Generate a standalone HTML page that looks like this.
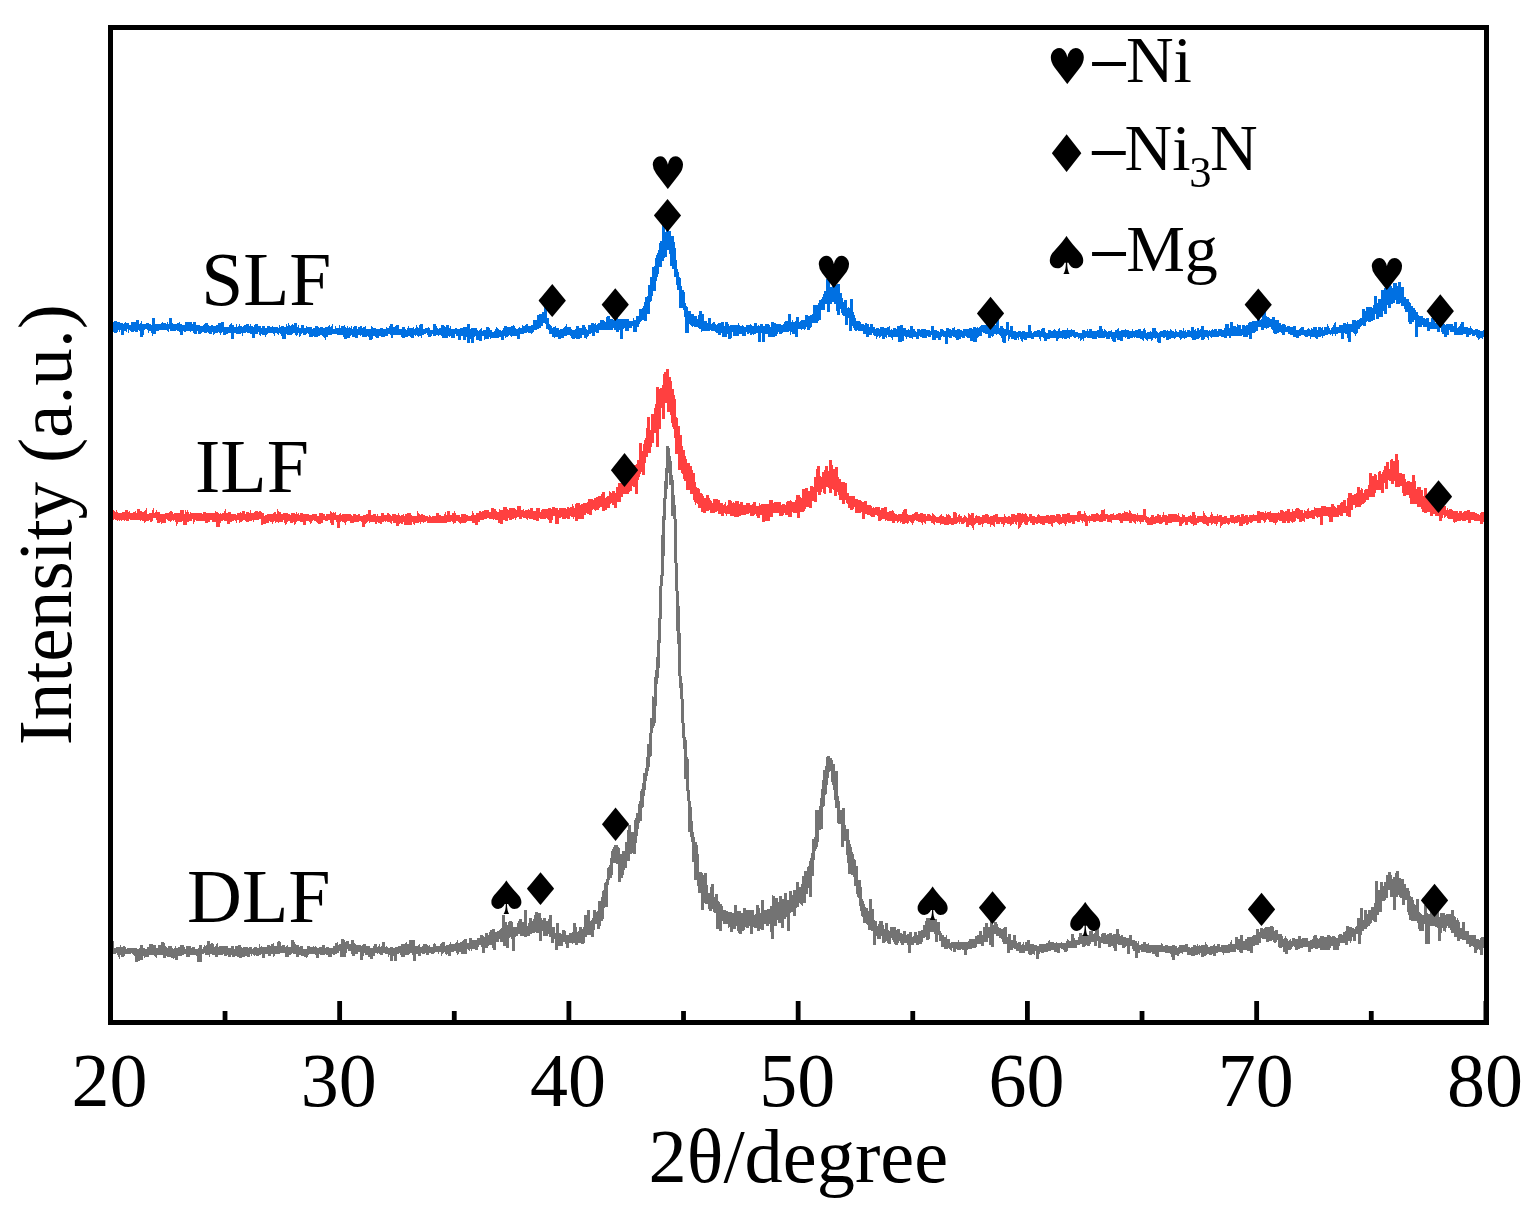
<!DOCTYPE html>
<html><head><meta charset="utf-8"><title>XRD</title>
<style>
html,body{margin:0;padding:0;background:#fff;}
svg{display:block;}
text{font-family:"Liberation Serif","Times New Roman",serif;fill:#000;}
.sym{font-family:"DejaVu Sans",sans-serif;}
</style></head>
<body>
<svg width="1539" height="1221" viewBox="0 0 1539 1221">
<rect width="1539" height="1221" fill="#fff"/>
<g fill="none" stroke-linejoin="miter" stroke-linecap="butt" shape-rendering="crispEdges">
<path transform="translate(110.500 0) scale(0.22925 1)" d="M0 952.6 l1-2.8 1 1.2 1 1.6 1-2.3 1 2.9 1-3.1 1 1.4 1-10 1 9.6 1 .7 1-.3 1 2.2 1-1.4 1-1.9 1 1.3 1-.7 1 1.8 1-1.7 1 2.8 1-2.7 1-2.6 1 2.4 1-2.4 1 2.4 1 1.3 1-3.8 1 4.9 1-3.5 1 .6 1 2.1 1-1 1-4.9 1 2.4 1 4.7 1 .4 1-4.4 1 .6 1 3.2 1-3.1 1 2.2 1-5.3 1 .8 1 1.4 1 3.5 1-1.8 1-1.6 1 .5 1 1.5 1-.4 1-1.5 1-1.2 1 8.8 1-10.3 1 4 1 1.9 1-.7 1-.7 1 .6 1 .5 1-.6 1-3.7 1 .2 1 5.1 1-1.8 1 .1 1 2 1-1.3 1-2.6 1 1.1 1-.1 1-2.4 1 2.3 1 2.5 1-3.6 1 3.5 1-1 1-4.5 1 1.4 1 0 1 3.2 1-3.3 1 1.8 1 .5 1 1.9 1-1.6 1-1.7 1-.7 1 2.3 1-2.5 1 0 1 1.2 1-1.9 1 2.1 1-.7 1-.9 1 1.2 1 3 1-3 1 .6 1 3 1-1.9 1-.3 1-.4 1-1.6 1-1.1 1 6.2 1-5.4 1-.9 1 2.3 1 .9 1 1.4 1 8.9 1-12.3 1 1 1 1.2 1 1.7 1-.3 1-2.2 1 2 1 1.4 1-2.8 1-2.3 1 11.7 1-4.5 1-4.1 1 .3 1-1.2 1-.4 1 2.1 1 .1 1-2.6 1 1.5 1-4.3 1 12.1 1-6.7 1-8.2 1 3.5 1 4.7 1 .1 1-1.7 1 .6 1-2 1 5.1 1-3.5 1 .9 1-4.3 1 4.6 1-.7 1 .2 1-1.7 1-1.2 1 5.7 1-.2 1-1.9 1-1.7 1 .2 1-.3 1 1.3 1 .3 1-.8 1 4.9 1-2.8 1-5.3 1 3 1 2.7 1-3.2 1-4.7 1 8 1-2.2 1-2 1-1.1 1 2.3 1 1.3 1 .1 1-1.7 1-7.4 1 6.3 1-1.2 1 4.1 1 1.2 1-3.2 1-2.2 1-.7 1 .6 1 4 1-.9 1 1 1-1.3 1 3.2 1-3.1 1 1.4 1-8.3 1 6.9 1 1.8 1 .3 1-4.8 1 1.3 1-2.9 1 6.2 1-3.9 1 2.3 1-.9 1-.5 1 .6 1 2.1 1-.8 1 .6 1-3.5 1 5.1 1-3.9 1-.3 1-.5 1 1.5 1-.3 1-6.7 1 5.8 1-1.1 1 .9 1 .3 1-.6 1-2.8 1 8 1-4 1 1.7 1 1.1 1-4.3 1 4.7 1-5.1 1-6.9 1 9.7 1 .9 1-6.1 1 2.8 1 0 1 8.4 1-3.6 1-2.6 1-.5 1 4.3 1-6.7 1 .8 1 3 1-1.5 1-2.1 1 .2 1 1.5 1-1.2 1 4.2 1-3.8 1 3.6 1-3.1 1 1.1 1-1.2 1-.5 1 6.7 1-3.8 1-4.8 1 1 1-2.8 1 4.6 1-3.3 1 3.7 1-.5 1 5.6 1-7.6 1 1 1-1.3 1 3.2 1 5.9 1-7.2 1 .4 1-1 1 3.2 1 .8 1-.8 1-1 1 1.7 1-1.6 1-.4 1-.5 1 2.2 1-2 1 1.1 1-1.9 1 2.5 1 6.5 1-7.2 1-2 1 3.2 1-5.4 1 3.3 1 .5 1-1 1 .1 1 2.7 1-1.5 1-1.5 1 .9 1-3.9 1 2.1 1-2.6 1 4 1 4.4 1-4.5 1 .1 1 .4 1-3.6 1 3.1 1-1.5 1 .4 1-1.9 1 6.7 1-3.7 1 1.7 1 0 1-7.6 1 5.2 1 .9 1 2.4 1-.8 1-4.2 1 2 1 2.9 1-.9 1-.5 1 .8 1 .5 1-3.4 1 2.6 1-2.3 1 .7 1 .5 1 .7 1-1.5 1 3.3 1-8.7 1 5.3 1 6.3 1-4.7 1-.9 1 2.4 1 2.2 1-3.7 1-2.2 1-4.2 1 5.9 1-2.5 1-1.9 1 4.2 1-1.2 1 2.9 1-5.2 1 6.6 1-5 1 1.6 1 .3 1-1 1-2.7 1 1.9 1 .7 1 .2 1-1.3 1-2.1 1 3.3 1-.1 1 .5 1 4.1 1-3.4 1-1 1-.9 1 4 1-1.2 1-2.4 1 2.3 1-3.4 1 2.4 1 3 1-2.2 1 .3 1-2 1 5.6 1-3.2 1 8.4 1-12.5 1 .9 1 2.7 1-1.9 1-.6 1-2.2 1 6.8 1 0 1 7.1 1-16.6 1 10.3 1-5.4 1 1 1 2.8 1-3.7 1-.2 1-.7 1 1.2 1-.9 1 2 1 .6 1 0 1-.2 1-2 1 1.8 1-2.7 1-.5 1 1.4 1-.7 1 1.7 1 .1 1-2.1 1 3.2 1-.5 1 3.3 1-1 1-4.2 1 3.9 1-2.2 1-.3 1 1.9 1-5.6 1-6.2 1 11.4 1-.8 1 .8 1-.2 1 .6 1-.6 1-1.5 1 .3 1 2.2 1-3.8 1 1.4 1 1.1 1-6.5 1 6.9 1 1.4 1-9.7 1-.7 1 10.3 1-1.9 1-.9 1 2.8 1-6.4 1 7 1-1.9 1-1.1 1 1.8 1-.8 1-2.3 1-3.4 1 5.8 1-5.2 1 6.8 1-3.9 1 3 1 1.9 1-7.7 1-.4 1 9.6 1-5.3 1 3.9 1-4.5 1-1.5 1 2.2 1 .4 1-3.1 1 2.4 1 3.5 1-7.4 1 1.9 1 2.6 1-1.3 1 .9 1-1.9 1 2.7 1-4.4 1-2.2 1 7.1 1 1.8 1-2.1 1-4.4 1 3.3 1-3.4 1 2 1-1.2 1 5.2 1-2.6 1 1.4 1-5.3 1-1.1 1 3.4 1 2.5 1 1.2 1-5.1 1 6.5 1-3.9 1 5 1-2.3 1 1.1 1-4.3 1-.2 1-3.8 1 1.5 1 6.4 1-4 1 1 1 3.7 1-4.5 1 .4 1 1.3 1-3 1 1.1 1-1.2 1 7.6 1-6.4 1 1.6 1 2.5 1 .7 1-7.1 1 3 1 1.6 1 2.6 1-5 1-.5 1-.2 1 1 1-.2 1-4.5 1 6.8 1-.5 1 .5 1 4.2 1-5.7 1 2 1-2.9 1-.6 1 2.5 1 2.4 1-5.1 1 1.4 1-1.7 1 3.5 1 2.9 1-9.8 1 5 1 1.5 1-1.1 1 .8 1-4.1 1 2.5 1 1.6 1-2.9 1 3 1 4.5 1-4.4 1-2.3 1 2.9 1-7.7 1 7.6 1-5.5 1 10.3 1-4.3 1-5.5 1 3.8 1-.5 1 2.4 1-2.9 1 .5 1-3.2 1 3 1-1.4 1-.6 1 4.4 1 3.4 1-7.3 1 1.6 1 .8 1-2 1 .9 1 .3 1-4.1 1 2.7 1 6 1-1 1-.2 1-1.9 1 1.9 1-3.6 1 0 1-3.1 1 1.6 1 3.2 1-1.3 1-.8 1-1.1 1 .9 1 7.1 1-5.2 1 1.7 1-1.5 1-3.4 1 1.8 1-2.5 1 2.8 1-.1 1-.3 1-3.2 1 4.3 1 .5 1-2 1-.6 1 3.9 1-4.2 1 3.3 1-3.3 1 2 1 2.3 1-4.1 1 2.7 1 .4 1-1 1 1.2 1-2.2 1-1.1 1-.3 1-.2 1 3.3 1-2.6 1 1.5 1-1.2 1 5.3 1-2 1-2.9 1 4 1-3.3 1 .5 1 4.5 1-3 1-5.1 1 3.1 1-1.3 1 1 1 .9 1-.7 1 .3 1-.1 1-1.4 1 .6 1-1.5 1 5.1 1-2.6 1 1.8 1-2.5 1 2.2 1-3.2 1 .4 1 3 1-2.8 1 1.4 1-1.1 1 .3 1-4.1 1 11.6 1-4.6 1-3.7 1 .8 1 .1 1-3.4 1 3.7 1-1.4 1 1.8 1-2.3 1-1.5 1 2.3 1 1.9 1 .5 1 1.8 1-3 1-2.2 1 5 1-3.7 1 .3 1-5.2 1 2.5 1 1.4 1 4.4 1-.7 1-4.2 1 7.2 1-5 1-2.1 1 2 1 .9 1-.9 1-4.8 1 8.1 1-4.2 1-2.9 1 3.8 1 1.2 1-1.9 1-1.7 1-4.2 1 4.3 1-.8 1 .8 1 2.4 1-.7 1 1.9 1-2.9 1 2.8 1-.5 1 1.2 1-4.3 1 2.4 1-4.9 1 3.7 1 .2 1 1.2 1-.3 1-4.1 1 5.7 1-4.2 1 2.7 1-1.9 1 4.8 1-2 1-4.6 1 5.8 1-10.7 1-.7 1 11.2 1-.5 1-.8 1 1.1 1-6.3 1 4.1 1 2.7 1-5 1 1.4 1 2.6 1-1.7 1-2.6 1 2.2 1 1.4 1-.7 1-.4 1 3 1-3.5 1-4.8 1 5.5 1-3.4 1 4.1 1 .8 1-1.1 1-1.5 1 1.3 1 1.7 1-4.4 1-.7 1 3.3 1-2 1 .7 1-.4 1 7.6 1-8 1 2.2 1-2.9 1 3.9 1-.6 1-4.6 1 3.6 1-.9 1 1.2 1-1.8 1 2.2 1-1.9 1-1.8 1 2.9 1 2 1 1.1 1-.2 1-3.7 1 2.3 1-2.8 1 2.6 1-2.5 1 1.6 1 .7 1-2.2 1-8.9 1 10.2 1-1.7 1 0 1 4.1 1-1.1 1 .2 1-.4 1 2.1 1-4.9 1-.5 1 1.8 1 4.5 1-3 1 2.4 1-5.5 1 .4 1 2.4 1 5.6 1-4.2 1-3.3 1-3.7 1 7 1-1.3 1 1.2 1-2.9 1 5.7 1-1.9 1-6.1 1 2.4 1 4.3 1-1.1 1-2.8 1 1.1 1 .4 1-1.6 1 1.3 1-5.5 1 4.9 1 2 1-2.4 1 2.9 1 .1 1 1.8 1-4.3 1 5.7 1-2.8 1-2 1-2 1 2.4 1-.7 1-1.2 1 2.9 1-1 1-2.5 1 2.4 1 0 1-.4 1-1 1 1.1 1 1.8 1 3.5 1-6.5 1 2.5 1-.5 1-1.6 1-.3 1-.5 1-3.5 1 7.1 1-1.2 1-3.5 1-1.7 1 2.2 1 .7 1 1.3 1-1.8 1 2.7 1-.7 1 1.8 1-2.5 1 .3 1-.8 1-3 1 1.3 1 2.8 1 .2 1-4.9 1 3.5 1-1.3 1 3.3 1 1.2 1-4.5 1 2.9 1-1.9 1 .4 1-2.7 1 .9 1 2.9 1 1.3 1-2.8 1-1.3 1 .2 1 1.4 1-.8 1-1.6 1 10.2 1-4.8 1-5.5 1 3.9 1-.2 1 .7 1-3.1 1-.1 1 1.3 1-.4 1 2.1 1 .2 1-1.7 1-2 1 3.4 1-2.6 1 1.6 1 .4 1-2.5 1 3.1 1 2.3 1-7.5 1 2.1 1 .7 1-.4 1 3.6 1 0 1-7.4 1 9.4 1-6.5 1 2.3 1 2.8 1-2.4 1 2.5 1-2.7 1-3 1 2.4 1-1.5 1 2.9 1-.1 1-2.2 1 4.4 1-3.1 1 4.3 1-5.5 1-1.9 1 3.6 1 1.5 1-.8 1-.9 1-2.5 1 3.2 1-2.3 1-.5 1 4.2 1-.3 1-4.1 1 1.9 1 .5 1 6.3 1-6.3 1 .2 1-3 1 1.1 1-1.1 1 4.3 1-.3 1-3.4 1 4.2 1 .1 1-5.1 1 3 1 1.8 1-4.5 1-2.2 1 .8 1 2.4 1 1.5 1-4.6 1 8.1 1-7 1 5.6 1-4.5 1-3.7 1-.1 1 2.2 1 3.5 1-1.9 1 5 1-4.5 1-.2 1 .9 1-2.4 1 4.1 1-6.6 1 6.6 1-5 1 4.3 1-5 1 3 1-.8 1-1.8 1 .9 1-2.3 1 12.2 1-11.6 1 .7 1 2.3 1-1 1 2.3 1-4.1 1-1 1-5.5 1 4.5 1 10.9 1-8.7 1-2.4 1-.5 1 4.3 1 3.1 1 6.5 1-8.8 1 3.7 1-1.2 1 2.3 1-9.9 1 2.6 1 .2 1 2.1 1-3.6 1 2.1 1 1.8 1-7.1 1 3.9 1-.2 1 4.2 1-2.1 1-.6 1 0 1 3.3 1-3.6 1 4.9 1-3.5 1 .2 1-1.6 1-.7 1 3.7 1-3.6 1 1.3 1-1.7 1 6.5 1-4.3 1 1.1 1-8.2 1 2.2 1 3.7 1 10.1 1-12.7 1 6.4 1-3.4 1 3.7 1 .3 1-2.5 1-.2 1 1.1 1 1.5 1-.8 1-.6 1 1.4 1-1.7 1 6.1 1-5.2 1 .6 1-2 1 1.6 1 .7 1-3 1 1.9 1 2.1 1-2.9 1 3.1 1 .6 1-6.4 1 4.3 1-2.8 1 4.6 1-4 1 2.6 1-3.3 1 4.5 1-1.4 1-1.8 1 3 1-1.8 1 11.1 1-12.6 1-1.6 1 2.7 1 0 1 7.2 1-6.2 1 1.4 1 1.8 1-2.4 1-6.9 1 3.5 1 1.5 1 1.8 1 2.3 1-4.4 1 3.8 1-2 1 1 1-.2 1-1.7 1 5.9 1-3.1 1-1.4 1-4.7 1 5.8 1-1.5 1 5 1-6.7 1 .9 1-3.5 1 6.4 1-4.5 1 2.9 1-2 1 7.7 1-4.7 1 .1 1-3.8 1 2.7 1-3.1 1 4.2 1-2.9 1 3.5 1 6.1 1-7 1-2.8 1 1.9 1 .7 1-.9 1 5.3 1-7.7 1 4.1 1-.5 1-1.3 1-4.2 1 .9 1 5.2 1-2.1 1-3.9 1-2.3 1 8.2 1-1 1 .1 1-4.2 1 2.5 1 1.6 1-1.6 1-.3 1 .7 1-1.7 1-.1 1 2.1 1-1.2 1 1.9 1-3.8 1 5.9 1-.7 1-3.3 1-1.1 1 3.9 1-2.1 1 .5 1-.4 1 2.1 1-4.5 1 2.9 1-.8 1 4.9 1-4.4 1-3.4 1 4.2 1-.8 1 1.1 1-1.1 1-.7 1-7.5 1 7.8 1 1.9 1-2.5 1 3.5 1-5.3 1 3.7 1-1.1 1 .4 1-1.5 1 2 1-1.6 1 1.8 1-.9 1 4.1 1-2.9 1 2.1 1-2.8 1 .5 1 .6 1-1.6 1-2.4 1 4.2 1-2.5 1 .7 1 2.7 1 1.7 1-3.4 1-1.9 1 4.9 1-5.2 1 5.4 1-7.3 1 14.2 1-7.1 1-4.2 1 1 1 1.2 1-1.3 1 .8 1-1.9 1 1.2 1 0 1-1.5 1 6.1 1-4.9 1-1.4 1-.7 1 2.9 1-1.8 1 11.5 1-13.2 1 5.2 1-4.7 1-.6 1 4.1 1 0 1-.1 1-1.1 1 1.1 1-1.6 1 3.5 1-6.8 1 4.6 1-.6 1 .9 1-2.4 1-3.4 1 7 1-6.5 1 5.8 1-2.5 1-2.8 1 4.7 1-1.5 1 1.7 1-2.3 1 2.4 1-1.8 1 4.2 1-10.3 1 5.6 1 2.8 1-2.6 1 6.8 1-4 1 1 1-2.2 1 2.9 1-1.3 1-2.6 1-4 1-1.4 1-.2 1 10.2 1-6.1 1-2.4 1 3.4 1 2.5 1-3.1 1 .4 1 2.8 1-2.5 1 4.9 1-11.1 1 6.7 1 3.6 1-4.8 1 .4 1 1.8 1-1.6 1-1.3 1 2.2 1 1.7 1-3.2 1-2.3 1 5.3 1-12.6 1 10.2 1 2.8 1-3.2 1-.7 1-.8 1 .7 1 .7 1-.6 1 1.2 1-.1 1 5 1-6.1 1-8.5 1 3.9 1 4.7 1 2.1 1-3.9 1 13.3 1-11.1 1 4 1-6.7 1-.5 1 6.1 1-3.1 1-.7 1 1.8 1 .4 1 2.4 1-1.1 1 2 1-4.7 1-1.7 1-.2 1 6.7 1-6.3 1-1 1 2.5 1 6.6 1-4.9 1 .4 1-1.6 1 .8 1-1.2 1 .9 1-.2 1-3 1 1.3 1 4.2 1-3.2 1-1.8 1 1.9 1-.2 1 2.5 1-3.6 1 .1 1 5.9 1-2.7 1 2 1-3.7 1-.5 1-.8 1 1.1 1-6.1 1 6.3 1-4.3 1 3.6 1 3.6 1-7.6 1 8 1-1.4 1-3.4 1 6.5 1-4.1 1-1.5 1 2.8 1-2.7 1 1.1 1-2 1-2 1 2.5 1-.4 1 1.3 1-.2 1 2.7 1-3.4 1 2.1 1-1.9 1 1 1-.9 1 1.2 1-.2 1 3 1-2.2 1-2.8 1-.6 1 5.8 1-1.4 1-1.4 1 1 1-1.9 1-.8 1 .7 1-.8 1-2.6 1-.5 1 .3 1 4.4 1-1.1 1 1.7 1-3.3 1 3.8 1-3.3 1 2.5 1-1.2 1 1.4 1-4.6 1 5.7 1-2.4 1 .6 1-3.1 1 .9 1 .8 1-.7 1-2.4 1 1.1 1 2.9 1-1.6 1 1.6 1 .9 1 1 1-4.5 1-.4 1 2.1 1 .6 1-1.4 1 3.1 1-2 1 1.6 1-3.7 1 4 1-.4 1-6.9 1 5 1 2.4 1-8.8 1 6.1 1-2.5 1 5.6 1-.7 1-.9 1-1.4 1 .7 1 .9 1 1.5 1-1.6 1 3.4 1-6.4 1 2.1 1 2.8 1-.3 1-3.2 1-1 1-2.3 1 5.7 1-2.9 1-2.1 1 1.3 1 5.7 1 3.2 1-9 1-.4 1 3.6 1-.3 1-.8 1-.2 1-1.6 1 2.3 1 .7 1-1.5 1-1.9 1 3.1 1 2.1 1-8.2 1 1.1 1 3.7 1 1 1-5.4 1 5.8 1-.7 1-3.5 1 3.1 1-.9 1-1.9 1 1.2 1 .3 1-2.6 1 5.2 1-4 1-1.8 1-.3 1 3.2 1-1 1-.6 1 5.8 1 .4 1-.5 1-7.2 1 7.1 1-4.1 1-1.8 1 1.4 1 4.4 1-3.4 1 3.8 1-8.8 1 4.4 1 3.1 1-2.1 1-3.4 1 6.9 1-10.3 1 3.1 1 4.1 1-5.6 1 2.8 1 5.5 1-4.8 1 7.4 1-8.6 1 4.6 1-2.2 1-2.6 1 1.4 1 .1 1 1.9 1-5.6 1-2.7 1-1.6 1 7.3 1 7.6 1-12.5 1 4.6 1-2.4 1 2.8 1 1 1-1.1 1 1.5 1-.2 1-2.7 1 2.5 1 .1 1-2.2 1-.9 1 3.8 1 .3 1-.7 1-4.8 1 2 1-.2 1 3.8 1-10.4 1 5 1 2.9 1-4.8 1 3.4 1 .1 1-.8 1 2.8 1-.5 1-2.2 1 1 1-4.5 1 1.2 1 1.9 1-2.8 1 6.3 1-2.9 1-1.5 1-1 1 3.1 1 4.3 1-7.6 1-.6 1 3.8 1-4.2 1 3.1 1 6.2 1-1.4 1-4.7 1-.9 1 .9 1 1.5 1 1.3 1-2 1-.6 1-4.3 1 3 1-4.7 1 5.1 1-1.5 1-2.7 1 4.4 1 0 1-1.8 1-1.8 1 1.3 1 .7 1-6.2 1 8.7 1-3 1-4.6 1 10.7 1-3.7 1 2.8 1-4.5 1 .1 1 11.2 1-12.5 1 2.8 1 2.9 1-7.6 1 .2 1 .7 1-2.3 1 4.7 1-5.3 1 4.6 1-1.7 1 4.8 1-3.6 1-2.9 1-4.7 1 15.3 1-11.5 1 8.7 1-7.4 1-1.4 1 5.1 1-5.3 1 3.6 1-3.5 1-.1 1-1.5 1 5.2 1-5.2 1 2.3 1-2.5 1-2.4 1 12.6 1-2.2 1-7.6 1 9.9 1-15 1 8.2 1-3.1 1 4.5 1 .3 1-7.6 1 11.8 1-13.2 1 3.9 1 7.8 1-13.6 1 21.1 1-11.9 1-.9 1 2.1 1-5 1 1 1-3.2 1 6.3 1-2.5 1-1 1 5.6 1-5.2 1 4.5 1-8.1 1 9.6 1-4.5 1 2 1-.1 1-3.7 1-3.8 1 1.4 1 .8 1 2.1 1 1.9 1-1.8 1-1.8 1 4.8 1-1.5 1 0 1-6 1-.8 1-.6 1-.7 1 13.1 1-9.8 1-1.7 1-3 1 6.1 1 2.8 1-3.9 1-2 1 3.5 1 2.5 1-21.4 1 16.3 1 14.1 1-12.1 1-1.8 1-9.5 1 10.4 1 4.9 1-.4 1-12.3 1 1.9 1 4.5 1 .8 1 3.3 1 11.9 1-7.8 1-10.9 1 4 1-2.8 1 1.8 1 5.1 1 1 1-1.1 1-9.2 1 8 1-1.8 1-11.3 1 7.3 1 6.7 1-6.8 1 2.9 1-11.2 1 9.6 1-.4 1-1.8 1 1 1 5.9 1-2.6 1-4.4 1 1.2 1 11 1-10.4 1 2.7 1 17.5 1-14.7 1 .6 1-2.6 1-4.9 1-1.7 1 6.6 1-6.3 1 1.3 1 6.7 1-3.1 1-5 1 .9 1 7.5 1-7.4 1 3 1-3.5 1 1.9 1 .2 1 .7 1-.3 1-7.7 1 4.4 1 5.2 1-11.7 1 3.9 1 8.3 1 .7 1-4.5 1 3.5 1-13.9 1 6.9 1 10.3 1-5.5 1-2 1 3 1 4.5 1-6.4 1-2.5 1-5.5 1 8.9 1 2 1 2.3 1-1.1 1-1.1 1-6 1 .9 1 3.4 1-1.1 1 5.1 1-24.6 1 26.5 1-6.4 1-4.5 1 .3 1 4.6 1-.6 1 1.3 1-1.8 1 1.9 1 4.1 1-1 1 .5 1-7.1 1-1.7 1 9.6 1-8.7 1 0 1 5.6 1-4.9 1-4.6 1 10.2 1-3.6 1 .7 1-12.8 1 7.5 1 2.4 1 4.7 1-7.1 1 5.3 1-2.2 1-2.8 1 1.9 1-.1 1 3.7 1 1.3 1-2.2 1-1.8 1-7.1 1 7 1 2.4 1 .1 1 0 1-16.3 1 11.5 1 3.2 1-1.6 1-6.5 1 10.1 1-5.8 1-13.6 1 10.9 1 5.2 1-8.2 1 10.3 1-.5 1 3.7 1-8.6 1 .9 1-.6 1-.8 1 1.3 1-1 1-11.1 1 3.7 1 2.5 1 .5 1 5.7 1 14.9 1-17.7 1 2.8 1-1.3 1-1.6 1 8 1-.9 1-8.6 1-.9 1 2.4 1 1.5 1 1.1 1 2.3 1-3.2 1 1.1 1-7.2 1 13.3 1 4.1 1-5.5 1-5.7 1 4.6 1-1.7 1-2.1 1 3 1 7 1-4 1-10.7 1 7.8 1 3.5 1-4.7 1 6 1-2.2 1-10.5 1 12.1 1-9.8 1 6.8 1-9.4 1-.6 1 5.4 1 8.7 1-1.2 1-17.7 1 22 1-4.6 1 1.9 1 1.3 1-5 1 5.7 1-5.9 1 1.1 1 6.4 1 4.8 1-6 1-.1 1-4.2 1-3.1 1-2.5 1 8.1 1 2.7 1-4.1 1 2.9 1-.7 1 1.4 1 .4 1-1.8 1 1.5 1-2.2 1-.7 1 15.7 1-7.5 1-8.5 1 7.4 1-.8 1-11.5 1-5.6 1 13 1 9.1 1-8 1-2.8 1 3.5 1-3.3 1-2.3 1 9 1-3.4 1 0 1 3.7 1-7.2 1 3.3 1-3.2 1 11.1 1-6.2 1-5.4 1 .6 1 5.2 1-.6 1 1.6 1-1.1 1-5.5 1 2.9 1 1.7 1-6 1-3.3 1 4.8 1 6.9 1-6.9 1 5.2 1-1 1 2.2 1-5 1 1.8 1 3.5 1-5.9 1 8.2 1-6.8 1 1.7 1 1.4 1 7.5 1-8 1 .5 1-3.1 1-.9 1 4.6 1-.4 1-4.2 1-.6 1 6.2 1-6.5 1 .8 1 .3 1-3.1 1 10 1-4.4 1-1.4 1-1.7 1-.8 1 3.2 1 .3 1 1.7 1-2.2 1 .6 1-.3 1 2.3 1-.3 1-7.6 1 5.2 1-1.9 1 7.5 1-4.1 1 .2 1-16 1 19.7 1-6.9 1-1.2 1-5.6 1 4.4 1 2.6 1 8.1 1-9.4 1 4.1 1 2 1-4.6 1-1.7 1 2 1 4.8 1-4.1 1 1 1-4.5 1 3.3 1 .4 1 5.4 1-12.2 1 6.1 1-9.6 1 14.2 1-9.6 1 3.8 1 3.1 1-1 1-4.5 1-4.7 1 6.8 1-3 1 1.4 1 2.8 1 7 1-8.8 1 .6 1 7 1-6 1-1.2 1 1.1 1-9.6 1 3.8 1 5.8 1-8.1 1 7 1 0 1-19.9 1 18.9 1-4.5 1 2.6 1-7.3 1 2.6 1 6.1 1 1.2 1-11.8 1 3 1-16.6 1 21 1-4.1 1 .7 1-1.3 1 9 1-11.3 1-2.4 1 1.4 1 1.5 1 7.8 1 1.1 1-2.6 1-8.1 1 5.7 1 5.5 1-2.5 1 5.5 1-16.4 1 .5 1 4.3 1-3.3 1-3.2 1 5 1 6.6 1-9.8 1-10.3 1 4.3 1 5.8 1-9 1 1.4 1 1.3 1 5.4 1 5.2 1-6.5 1 2.5 1-.7 1 4.5 1-5.6 1-4.6 1 4.4 1 0 1 1.8 1-4 1 13 1-8.4 1-9.6 1 14.5 1-9.3 1-12.2 1 15.4 1-18.5 1 11.3 1-5.2 1 5.7 1-10.5 1 15 1-9.3 1 0 1 13.3 1-14.5 1 12.1 1-16.3 1 2.4 1-8 1 1.5 1-7.3 1 16.3 1-4.8 1-2.4 1 5.7 1-16.2 1 4.4 1 2 1-4.4 1-8.9 1 6.8 1 4.4 1 5.7 1-8.2 1-9.9 1 24.7 1-26 1 2.2 1-.6 1-3.4 1 2 1-6.1 1 5.4 1-11.7 1 4 1-5.3 1 5.9 1 1.4 1-.3 1-2.5 1 6.4 1-12.5 1 1.4 1 9.3 1-4.9 1-6.1 1-6 1 6.3 1-11.2 1-1.3 1-1.2 1 5.7 1 2.8 1-.5 1 .7 1-1.7 1-6.7 1 .3 1 9.1 1-14.1 1 15.3 1-.6 1-.3 1-16.2 1 14.6 1-11.7 1 1.6 1-1.7 1 7.2 1 .2 1-4.1 1 5.3 1-3.6 1 10.5 1-15.4 1 .3 1 2.8 1 11.5 1-.9 1-.5 1 20.7 1-22.1 1-4.6 1 0 1-1.9 1 13.2 1 2.2 1-4.4 1-1.9 1 4.2 1 .1 1 10.9 1-10.3 1 5.1 1-13.2 1 13 1-21.1 1 17.8 1-11.6 1 9.9 1 .1 1-5.9 1 0 1-8.7 1 3.1 1 3.9 1 3.6 1-6.9 1 11 1-11.1 1-1.8 1-1.6 1-11.5 1 16.5 1-4.9 1-6.5 1 11.1 1-3.9 1 3.8 1 3.5 1-6.6 1-6.3 1-23.6 1 25.5 1 2.7 1-6.8 1 .5 1 7.3 1-1.5 1-12.8 1 3 1 10.3 1-13 1 5.2 1 .3 1-2.6 1-10.6 1 11.8 1 4.3 1-5.7 1-3.9 1-5.5 1 4.4 1 3.5 1 12.7 1-11 1-10.8 1 6.1 1 .8 1-10.5 1-8.4 1 17.9 1 5.2 1-19.9 1 7.7 1-1.9 1-1.8 1-13.1 1 2.4 1 12.2 1-16.1 1 8.9 1-.1 1 .9 1-5.6 1-2.9 1-1.1 1 .6 1-1.6 1 1.5 1-12.3 1 3.7 1 9 1 6.9 1-16.5 1-10.1 1 14 1-11.4 1-5.3 1 15.8 1-15.5 1 9.1 1-5.6 1-7.9 1-2 1 10.7 1-13.4 1 4.8 1-.9 1 3.1 1-7.7 1-8.4 1 2.7 1 3.7 1-.1 1-.3 1-5 1 0 1-3.6 1-2.6 1 5.6 1-8.2 1-.5 1-1.1 1-7.2 1 9.7 1-9.3 1-12.9 1 17.2 1-3.8 1-6.4 1 3 1-10.3 1 9.3 1 2.6 1-12.9 1 .5 1-5.1 1-6.6 1-3.9 1-9.8 1 10.9 1-3.1 1 2.1 1-2 1-5.3 1 3.9 1 .8 1-26.7 1-2.2 1 16.3 1 10.5 1-17.1 1 1.3 1-.4 1-.4 1-5.5 1-12.1 1-.5 1-12.1 1 2.1 1-1.5 1 6.6 1-13.6 1 8.1 1-5.5 1-2.9 1-5.7 1-6.8 1 10.3 1-5.4 1-22.2 1 1.8 1 .1 1-3.1 1-13 1 5.5 1-12.9 1-1.1 1-13 1 .6 1-12.5 1-17.3 1 6.9 1 .7 1 1.4 1-11 1-21.6 1 3.8 1-3 1-17.8 1 21 1-39.3 1 14.3 1-14.6 1 3.9 1-10.3 1-5.5 1 8.9 1-17.5 1 3.7 1-7.2 1-10.8 1 1.7 1 6 1-13.8 1-7.2 1 10.1 1-9.1 1 2 1-24.6 1 17.4 1-14.5 1 0 1 14.1 1-14.6 1 12.5 1-5 1 10.4 1-5.7 1-1.6 1 10.7 1-8.8 1 3.7 1 6.8 1 13.7 1-10.2 1 1.4 1-.6 1 6.5 1-2.4 1 3.7 1 3.1 1 29.1 1-20.9 1 5.4 1-2.2 1 13 1-3 1-3.4 1 9.3 1 2 1-6.5 1 20.9 1 5.3 1 7.1 1 14.7 1 6.3 1 2.4 1 11.3 1 5.2 1 7.8 1 5.4 1-4 1 39 1-11.7 1-13.1 1 26.1 1 3.3 1 8.3 1-10.9 1 20.5 1 15.1 1 3.8 1 3.2 1 2.8 1-2.4 1 11.5 1-11 1 11.2 1 2.9 1 4.2 1-1.6 1 6.2 1 12.8 1 .1 1-11.3 1 18.2 1 10.5 1 3.2 1 3.3 1-.1 1 2.5 1 6.6 1 3.5 1-11.8 1 2.8 1 39.3 1-33.3 1 10.1 1 15.1 1-14.1 1 12.2 1-9.1 1 13.2 1-13.7 1 12.5 1 10.6 1 6.4 1 1.2 1 2.7 1 5.5 1-4.2 1 1.1 1 11.3 1-.9 1 7 1 18.8 1-18 1-1.1 1-4.9 1 24.4 1-4.9 1-6.4 1 16.6 1-11 1 10.1 1-.8 1 6.9 1-6.5 1-3.6 1 7 1-1.8 1 24.2 1-3.2 1-4.9 1-3.9 1 8 1 .5 1 2.7 1-19.1 1 19.9 1 5.3 1 10.8 1 1.6 1-13.2 1-21.5 1 17.6 1 10.4 1-18.2 1 19.3 1-10.3 1 16 1-7.1 1 7.8 1 4.4 1 .8 1-7.7 1-3.2 1 2.7 1 6.2 1 9.9 1-9.6 1 .6 1-12.5 1 13.9 1-4.1 1-8.9 1 9.8 1 10.1 1-1.7 1-3.5 1 3.7 1-5.9 1 25 1-35 1 12.2 1 10.2 1-20.1 1 12.8 1 1.4 1 5 1-.7 1 1.3 1 2.2 1 3 1-29.6 1 25.6 1-8.4 1-5.3 1 18.8 1-9.1 1 8.6 1-4.2 1 2.5 1 2.6 1-6.3 1-2.1 1 8.1 1-11.1 1 5.8 1 4.4 1-1.3 1 7 1-9.4 1 6.9 1-3.3 1-.4 1-3.9 1 12.4 1-3.8 1-11.1 1-2.9 1 13.5 1-22.1 1 14.6 1 1.4 1 2.7 1-.6 1-5.1 1 12 1-6.9 1 6.4 1-3.3 1 1.7 1 5 1-11.6 1 11.8 1-5.5 1-3 1 4.3 1 4 1-18.4 1 14.5 1 2.7 1-1.2 1-6.8 1 4.3 1 12.6 1 9.2 1-26.9 1-.5 1 4.6 1 2.1 1 5.3 1 10.8 1-13.4 1-3.3 1-1.4 1 5.4 1 19.1 1-18.7 1 2.6 1-10.7 1 16.8 1-6 1 4.8 1-.9 1-4.8 1 6.1 1-2.9 1-6.2 1 4.7 1 2.4 1-.9 1 3.2 1-8.2 1-.1 1 12 1-14.2 1 .8 1 3.6 1 2.7 1 3.2 1-5 1-4.1 1 2.6 1 1.6 1 3.7 1-5.1 1-2.4 1 6.1 1 5.9 1-7.8 1 1.1 1-1.5 1 2.5 1 1 1-1.1 1 6.4 1-.4 1-.5 1-1 1-4.6 1 5.4 1 1.2 1-12 1 19.7 1-7.6 1-2.9 1 .9 1-4.9 1 5.5 1-.1 1-9.7 1 4.6 1-3.5 1 3.5 1 7.5 1-.1 1 3.8 1-11.8 1 9 1-3.5 1-5.7 1-12 1 17.7 1-6.3 1 2.5 1 .5 1-1.4 1-7.2 1 11.8 1 .9 1 2.8 1-5.1 1 4.8 1-7.1 1-1.1 1-2.1 1 14.8 1-12.8 1 3.2 1 1 1-4.7 1-6.6 1 23.3 1-12.3 1 4 1-3.2 1-7.6 1 .2 1 7.9 1 2.3 1-9.9 1 8.3 1-4.9 1-5.6 1 4.5 1 9 1-3.8 1 3.7 1 1.7 1-.4 1-7.9 1-2 1-9.8 1 11 1 8.1 1-17.5 1 9.5 1 2.6 1-5.5 1 4.1 1-.8 1-2.5 1 1.1 1 5.8 1-.1 1 3.9 1-17.8 1 8.6 1 1 1 5.1 1 1.6 1-7.9 1-2.1 1 1.6 1-.7 1 1.8 1 5.9 1-9.1 1 5.9 1-7.2 1-4.3 1 6.8 1 7.6 1-5.4 1 14.9 1-24 1 11.2 1-3.9 1-.6 1 6.3 1 .1 1 1.5 1-9.8 1 5.8 1 6.5 1-4.9 1-2.9 1 1.1 1-3.6 1 9.8 1 1.1 1-9 1 3.8 1-1.6 1-.7 1-4.2 1-1.9 1 3.2 1 2.5 1-.4 1-14 1 5.8 1 3.1 1 16.6 1-14.6 1 3.7 1-3.9 1-2.4 1 .4 1 4.7 1 5.3 1-.9 1 5.7 1-8.1 1-2.4 1 5.1 1 3.1 1-5 1-2.9 1 1.7 1-20.1 1 29.5 1-12.9 1 1 1-5.6 1 7.6 1-7.7 1 7.1 1-5.5 1 4.1 1 6.2 1-5.8 1-1.1 1-6.9 1 13.8 1-5.7 1-7.8 1 8.5 1-3.5 1-4.2 1 10 1 4.6 1-13.7 1 2 1 6.6 1-3.6 1-8.8 1 9 1 2.3 1-8.5 1 11.2 1-.5 1 2.2 1-7 1 .6 1 0 1-4.5 1-3.6 1 14.2 1-17.7 1 8.6 1 9.5 1 14.9 1-28.3 1 6.6 1-6.9 1 5.3 1-6 1-12.9 1-1.4 1 25.6 1-22.6 1 12.5 1 1.8 1-3.3 1 7.6 1-1.9 1 1 1 9.6 1-19.4 1 13.3 1-3.9 1-18.4 1 15.9 1 .6 1 5.4 1-10.4 1 1.7 1-.3 1-8.3 1 4 1 3.7 1 1.6 1 11.3 1-11.3 1-2.3 1 1.5 1-.9 1-13.8 1 14.2 1 9.2 1-13.8 1 12.1 1-7.9 1-2 1 .1 1 20.3 1-15.4 1-4.6 1 10.1 1-19.1 1 17.3 1-6.5 1 6.1 1-2.9 1-4.2 1 .5 1-1.2 1 10.5 1-4.9 1-21.2 1 11 1 5.4 1 6.4 1-13.7 1 4.3 1-1.1 1 2.9 1 1.6 1-7.7 1 9.2 1-6 1 26.4 1-28.3 1 .2 1 4.6 1-8 1 2.6 1 4.5 1-2.2 1 8.3 1-16.2 1-6 1 12.6 1-7.8 1 12 1 3.7 1-5.2 1 2.2 1 1.4 1-2.9 1-8.6 1-2.8 1 6.6 1 9.7 1-10 1 6.6 1-4.4 1-13.6 1 25.4 1-16 1 2.8 1-1 1 5 1-7.6 1 .6 1 8.3 1-9.8 1 7.8 1-6.4 1-6.6 1 14.5 1-9.6 1 1.1 1-16.7 1 16.3 1 2.8 1-9.9 1 1.4 1 7.5 1 2.2 1-1.7 1-5.7 1-1.8 1-2.3 1-1.3 1 2.3 1-5.2 1 13.5 1-13.5 1 16 1 .2 1-7.7 1 3.3 1-7.5 1-.9 1 7.7 1-18.3 1 5.6 1 4.2 1 5.7 1-18.6 1 14.6 1 12.1 1-10.1 1 3 1-25.2 1 8.8 1 7.2 1-7.8 1 15 1-9 1 4.4 1-5.5 1 4 1-2 1-5.8 1 4.5 1-13.3 1 6.8 1 7.5 1-14.4 1 2.2 1-7.4 1 11.9 1 2.8 1-9.2 1-.2 1 25.9 1-31.3 1 .4 1 15.8 1-20.8 1 8.5 1-11.9 1 5.2 1-2.3 1-6.6 1 7.5 1 14.5 1-22.8 1 3.6 1-3.4 1 6.3 1-20.9 1 9.6 1-7.8 1 1.1 1 3.9 1 4.7 1-12.6 1 5.3 1-1.7 1-4.9 1 10.3 1-9.5 1-.3 1-26.7 1 29.1 1 2.7 1-13.2 1 7.3 1-7 1-.6 1-.8 1-5.3 1 2.7 1 5 1-19.9 1 8.2 1-5.4 1 5.8 1-13 1 1.9 1 5.8 1-1.3 1 16.3 1-30.4 1 10.8 1 .1 1-3.6 1-1.2 1-12 1-3.7 1 18.2 1-23.3 1 7.5 1 3.7 1-15 1 15.4 1-24.9 1 3.4 1 12.6 1-8 1 .2 1 .1 1 15.2 1-19.5 1-8.6 1 4.7 1 .8 1 14 1-14.6 1-12.8 1 13.5 1-13.1 1-1.4 1 14.8 1-15.9 1 9.4 1 3.3 1-4.4 1-.4 1-2.7 1 7.5 1-.4 1-2.7 1-7.1 1 8.6 1 1.8 1-8.2 1 3.8 1-1.6 1 5.8 1 7.6 1-9.6 1 11.6 1 3.9 1-7.8 1-10.2 1 12.9 1 4.4 1 3.8 1 5.3 1-12.8 1 6.5 1 1.7 1 7.9 1 6 1-6.3 1 0 1-22.5 1 15.7 1 21.6 1-7.6 1 .1 1-.1 1-4.5 1 7.6 1-7.1 1 12.2 1-3.5 1-4.4 1 15.1 1 8.3 1-14.6 1 3.8 1-2.7 1 8.6 1-9.8 1 11 1-3.1 1-3.5 1 6.7 1-5.7 1 8.9 1-4.8 1-6.4 1 6.3 1 3.4 1 24.2 1-20.7 1 11.7 1-29.7 1 11.7 1 8.4 1 2.1 1-4 1-1.1 1 3.5 1 3.4 1 4.8 1-.5 1 5.2 1-8.9 1 .8 1 4 1 2.8 1-11.1 1 11.1 1-11.1 1 26.4 1-15.6 1 4.5 1 5.5 1-.8 1 14.2 1-23.1 1 8.7 1-1.1 1 0 1 26.5 1-22.1 1 3.1 1-8.3 1 20.1 1-11.7 1-3.5 1 8.5 1 2.7 1-8.3 1-1 1 2.9 1-1 1 19.4 1-14.2 1 7.9 1 4.7 1-5.2 1-9.6 1 4.7 1 11 1-10.8 1 6.6 1 11.5 1-1.2 1-.4 1 .7 1 5.7 1-4.9 1 4.1 1-19.8 1 20.2 1-2.8 1 .1 1-2.7 1 8.3 1 7.8 1-5.8 1 3.3 1-11.8 1-1.4 1 16.4 1-7.4 1-9.8 1 18.2 1-10.9 1 5.8 1 13.1 1-1 1-6.8 1 12.2 1-11.1 1 4.4 1-2.8 1-.6 1 14.9 1-8.7 1 4.9 1-1.6 1 5.3 1-10.9 1 1.4 1 11.8 1-8.4 1-2.2 1 16.1 1-12.8 1 3 1 3.8 1-3 1-6.2 1 .6 1 13.5 1-7.2 1-.3 1-1.8 1 5.6 1 5 1-3.6 1-1.4 1-7.2 1 8 1 6.1 1-8.9 1 5.2 1 .1 1-4 1 8.5 1 3.9 1-17 1-14.3 1 22 1-2.3 1 3.1 1 6.9 1-6.6 1 5.5 1-1.8 1-5.2 1-11.4 1 21.4 1-5.4 1 1 1 3.8 1-10.1 1 8.6 1-6.7 1 .7 1 4.9 1 17.4 1-14.8 1-3.3 1-5.5 1 12.4 1-7.9 1 1.3 1 .1 1 .4 1 2.9 1 .4 1 5.4 1-9.2 1 3.8 1 3.3 1-6.9 1 4.8 1-5.1 1 11.7 1-11.9 1-2.2 1 14.6 1-6.6 1-2.2 1-1 1 .1 1 5.8 1-14.5 1 15.5 1-5.2 1-6.5 1 8.9 1-8.6 1 2 1 5.6 1 1.3 1 1.7 1-2.2 1 1.2 1-1.3 1 9.8 1-12.8 1 1.7 1 10 1-7.3 1-1.4 1-1.6 1 5.2 1-7.2 1 4.3 1 4.4 1-14.9 1 8.4 1 5.5 1 3.5 1-7.1 1-3.9 1 6.8 1-.4 1-2.2 1 2.3 1-.8 1 8.5 1-4.7 1 2.3 1-10.5 1 2.3 1 4.9 1-3 1 1.1 1-3 1 1.6 1 2.4 1-10.1 1 7.3 1 2.7 1 1.1 1-4.3 1 3.2 1-1.5 1 1.6 1-2.5 1 5.4 1-3.2 1-1.6 1 3.6 1-11.7 1 11.1 1 3.3 1 1.5 1 .5 1-8.2 1-1.9 1-3.5 1 .9 1 4.4 1 9.5 1-5.3 1 3 1-1.3 1-6.3 1 .9 1-.3 1-6.4 1 11.1 1-9.3 1 6.5 1-4.5 1 6.1 1 2.1 1-.9 1-1.9 1-5.5 1 5.9 1-5.5 1 4.3 1 2.8 1-4.9 1 2.8 1 6.8 1-8 1 3.2 1-1.4 1-4.2 1 8.8 1-6.7 1 3.4 1-1.7 1 .3 1-8 1 11.8 1-4.9 1 3.2 1-3.8 1-.6 1-.5 1 7.2 1-5.8 1-2.4 1 3 1 1.2 1-3.3 1 5.2 1-1.2 1-.2 1 1.3 1-6.8 1 5.3 1 3.7 1 0 1 10.1 1-19 1 5.3 1-.8 1 1.2 1-5.2 1-3 1 12.4 1-3.1 1 1.4 1-3.9 1 .2 1 4.9 1-2.3 1-3 1-1 1 7.5 1-3.2 1-.2 1-3.7 1 1 1-.4 1-1.3 1 4.6 1-6 1 5.2 1-8.8 1 9.8 1-6.1 1 6 1-2.9 1-3.9 1 2 1 3.1 1-.3 1 4.9 1-4.5 1-3.7 1 5.8 1-3.3 1 .9 1-5 1 9 1-2.6 1-.1 1-5.5 1 1.7 1-6.7 1 3.3 1 9.8 1-10.2 1 4.7 1-4.5 1 8 1-7.4 1 .9 1 .1 1-5.2 1 3.2 1 2 1-4.7 1 7.7 1-7 1 1.8 1-2.2 1 1.1 1 4.5 1-11.2 1 2.9 1 3.7 1-2.2 1 5.1 1-1.5 1 1.5 1-5.2 1-.4 1-2.3 1 1 1-10 1 4.6 1-.9 1 7.6 1 10.4 1-8.9 1-10.9 1 7.1 1 4.6 1-2.2 1-5.8 1-5.9 1 14.3 1-7.7 1-.2 1 .1 1 2 1 5.4 1-3.8 1-.5 1-9.1 1 11.1 1 3 1-8.2 1-2.1 1 5 1-.9 1 3.2 1 3.1 1-6.9 1-1.2 1 3.5 1 4.3 1-12.8 1 11.3 1 2.2 1 .5 1-3.5 1-10.8 1 16 1 6.6 1-16.8 1-1.6 1 10 1-6.4 1-2.4 1 3.2 1 2.2 1-7.7 1 1.9 1 5.4 1-2.7 1 8.3 1-2.4 1 .2 1-.3 1 .2 1 1.1 1 4.6 1-.8 1 3.3 1-2 1 1 1 1.2 1-3.6 1-2.4 1 5.2 1 2.8 1 3.5 1-6.6 1 .1 1 1.7 1-2.8 1-1.5 1 4.7 1 2.7 1-2.6 1-1.1 1 1.3 1-2.3 1-.4 1 9.2 1-7.8 1 6.8 1-6.5 1 1.9 1 5.3 1-7.3 1 5 1-.9 1-2 1-.2 1 1.1 1 1.4 1-6.8 1 6 1-1.2 1 2.9 1-2.3 1 2.2 1 1.4 1 .2 1-3.4 1 2.8 1-2.7 1 1.8 1-3.5 1 4.3 1 .8 1-3.9 1 1 1-2.9 1 2.4 1-2.5 1 3.6 1 1.3 1-2.4 1-3.1 1 4.5 1 5.4 1-6.1 1 1.2 1-2.2 1-1.1 1 4.3 1-1.2 1-1 1 .3 1-.9 1 2.1 1-2.2 1-2.4 1 5.3 1-2.1 1-.5 1 2.8 1 1.7 1-2.8 1 .7 1 2.2 1-4.2 1 4.1 1-2.2 1-1 1 1 1-3 1-.8 1 1.5 1-3.2 1 5.5 1 .3 1 1.3 1-1.6 1 .1 1 .2 1 1.4 1-1.2 1-.9 1 1.5 1-3 1 4.7 1-4.6 1-4 1 8.4 1-1.4 1-2 1-3.6 1 1.8 1 2 1 7.7 1-9.6 1 2.4 1-.6 1 .3 1-1 1-3.1 1 2 1-2.9 1 4 1-2.8 1 3.2 1-1.5 1-.8 1 .4 1-.9 1 3 1-1.2 1 3.5 1-.8 1-3.9 1-5.4 1 5.8 1 3.4 1-3.7 1 .5 1 .2 1-.1 1-1.8 1-1.9 1-1.8 1 1.6 1-.1 1 6 1-2.3 1 .1 1-3.6 1 4.6 1 1 1 .5 1-4.9 1 2.6 1 .4 1-.8 1 .8 1-4 1 1.3 1-4.1 1-2.3 1 7.3 1-7.8 1 8.6 1-2.9 1 2.4 1-2 1 .5 1 1 1-8 1 6.5 1-4.2 1 1.5 1-2.3 1 3.5 1 3.3 1-12.1 1 7.9 1-.1 1-2.5 1 5.8 1-3.1 1 4.5 1-2.8 1-2 1 6.8 1-9.7 1-.6 1 4.5 1 0 1-5.6 1 5.2 1 1.6 1-4.6 1 .1 1-9.4 1 2.1 1 4.7 1 4.2 1 2.1 1-3.5 1-1.6 1-1.6 1-11.2 1 19.1 1-10.5 1-1.1 1 3 1-2.9 1 3 1 1.7 1-4.4 1 2 1-2.7 1 1 1 1.8 1-5.6 1 8.9 1-8.5 1 6.1 1 11.8 1-9.5 1-9.1 1-7.2 1 3.7 1 5.5 1-2 1 2.3 1 18 1-19.2 1 2.6 1-1.7 1 .1 1 2.4 1 .6 1-6.6 1 7.3 1 1.6 1-5.5 1 .8 1 .7 1-8.6 1 5.2 1 2 1-4.7 1 7.7 1-5.9 1 1.6 1-.3 1 3.2 1-3.7 1 3 1 6.1 1-4.6 1-.5 1 1.5 1-1.3 1-1.5 1-1.2 1 2.5 1 5.5 1-1.3 1 3.2 1-5.2 1 3.9 1-4.7 1-.1 1-3.3 1 2.4 1 3.2 1 4.8 1-4.5 1-1 1-.2 1 1.1 1 6.5 1-6.2 1-4.1 1 7.8 1 5.6 1-11.4 1 .3 1 6 1-11.8 1 15.9 1-3.3 1-6.6 1 6.8 1 4.4 1-7.5 1 7 1-.6 1-3.4 1 3 1-.8 1-3.5 1 2.6 1 11.3 1-6.7 1 .2 1 1.7 1-13.6 1 5.4 1 9.5 1-4.3 1-4.7 1 5.6 1-2.2 1-3.4 1 4.2 1-3.5 1 .9 1 3.1 1 4.8 1-3.2 1-2.1 1 .8 1-.5 1 .7 1 .8 1-1.8 1 1.8 1-.2 1 1.9 1-1.3 1-.4 1-10.7 1 10.2 1 3.1 1-2.2 1 0 1 .9 1-1.8 1 2.8 1-3.5 1 .5 1-1.2 1 7.3 1-5.3 1 3 1-2.1 1 .2 1-3.7 1 5.3 1-2.3 1 1.7 1-2.1 1-2.1 1 0 1 7.7 1-4.5 1 5.5 1-5.3 1 1.4 1-.4 1-1.4 1 3 1-.6 1-2 1-.4 1 5.9 1-8.2 1 3.5 1-1.1 1 .5 1-2.3 1 3.4 1 2.7 1-3.6 1 1.2 1-2.2 1 1.1 1 .8 1-.1 1-2 1 4 1-1.6 1-6.5 1 6.6 1-1.4 1-2 1 2.7 1 2.8 1-3 1-.3 1-3.8 1-4.3 1 9.4 1 .9 1-.7 1 1.2 1-.4 1-2 1 3.9 1-5.6 1 4.7 1 4.2 1-5.5 1-5.4 1 1.8 1 3.8 1-1.5 1-.4 1 2.8 1-3 1 5.9 1-8.4 1 6.7 1-.7 1 .3 1-3.1 1 2.3 1-3.1 1 1.5 1-.9 1-.2 1 .3 1-3.5 1 5.6 1-1.2 1 0 1-2.3 1 1.9 1-1.5 1 10.9 1-5.9 1-3.8 1-1.7 1 6.9 1-8.4 1 3.4 1 .6 1-2.1 1 4.2 1-2.5 1-.3 1 .2 1-1.2 1-.9 1-2.6 1 3.4 1 1.9 1-3.4 1 .6 1 .1 1 5.8 1-4.8 1-1 1 1.3 1 0 1-1.4 1-1 1-1.6 1 5.7 1 .1 1-4.3 1 1.9 1 .6 1-.9 1 .7 1 1.8 1-6.1 1 4.2 1-.1 1 4.4 1-2.8 1-1.1 1 2.1 1-7 1 4 1-2.3 1 4.9 1-4.4 1-1.4 1-.4 1 2.9 1 2.5 1-7.1 1 8.4 1-1.5 1-2.4 1-2.4 1 2.1 1-1.7 1 1.9 1 1.6 1-.9 1 1.7 1-7.4 1 5.6 1-1.9 1 4.2 1-1.4 1-1 1 3.1 1-3.2 1-.6 1 .8 1 .8 1-.1 1-2.1 1 2.6 1-2.8 1 1.2 1 5.1 1-3.4 1-1.3 1-1.2 1 .6 1-1 1 1.4 1-1.9 1 .8 1-2.3 1 4.1 1-1.9 1 7.5 1-6.3 1-4.2 1 3.1 1-2.8 1 1.3 1 .8 1-2 1 4.4 1-.9 1-1.4 1 .2 1-.6 1 3.1 1-2.5 1-.5 1 .4 1 4 1-4.4 1-.1 1 1.6 1 .8 1 1.3 1-2.6 1 1.8 1 2.4 1-2.4 1-4.5 1 1.7 1 .2 1-.9 1 4.8 1-6.2 1 8.6 1-7.2 1 .7 1-.5 1 1.7 1-3.5 1 3.8 1-2.5 1 0 1-.9 1 .6 1 3 1-5.1 1 6 1-2.5 1-3.6 1 2.3 1-1.1 1 5.4 1-6.3 1 2.9 1-1.8 1 .6 1 .6 1 .6 1 .3 1-3.5 1 .2 1-2.4 1 5.7 1-10.5 1 8.3 1 2.3 1-7 1 8.6 1-6.2 1 2 1-.5 1 1 1 1.9 1-4.2 1 6.8 1-4.5 1-2.8 1 1.3 1 2 1 1.4 1-1.3 1-.7 1-2.1 1 2.2 1-1.1 1 1.4 1-.1 1-1.7 1-1.8 1 4.9 1-5.7 1 3.2 1-1.9 1-1.6 1-.9 1 6.4 1-11.1 1 7.8 1-7 1 6.3 1 .3 1-.8 1 .2 1 .4 1-.3 1-2.7 1 4.4 1-6.4 1 2.8 1 3.6 1-2.7 1 8 1-6.1 1-2.9 1-1.3 1 1.1 1-.9 1 2.5 1 3.7 1-1.2 1 1.5 1-.3 1 1 1-.9 1-.2 1-3 1-3.5 1 4.7 1-4.1 1 2 1-1.8 1-1.8 1 6.6 1 4.2 1-5.8 1-3 1-1 1 4.5 1 .9 1-1.4 1-.6 1-3.7 1-4.7 1 9.6 1-2.8 1-6.2 1 8.9 1-4.7 1-2.4 1 2.3 1 3.8 1-2.6 1 3.9 1-5.7 1 6.3 1-8.2 1 3.3 1 1.5 1 .8 1 1.2 1-6.9 1 12.3 1-2.1 1-6.2 1-1.3 1 .5 1-.3 1 1.2 1 .1 1 2.9 1-1.6 1-16.3 1 6.2 1 11.4 1-2.7 1-1.7 1 1.8 1 1.2 1 9 1-10 1-1.2 1 3.3 1 1.3 1-1.8 1-.3 1 .6 1 3.5 1-6.2 1 2.9 1-2.8 1 4.9 1-.8 1-1.8 1-5.4 1 7 1-.5 1-5.6 1-2.1 1 7.3 1 3.6 1-11.2 1 9.1 1-1.8 1-2.8 1 4.9 1-5.4 1-1.6 1 5.9 1-4.7 1 2.7 1-2.7 1 3.3 1 4.7 1-6.6 1-1.1 1 5.7 1-2 1-6.6 1 5.9 1-.9 1 4.9 1-2.1 1-3 1 5 1 3.2 1-11.6 1 7.9 1-9.7 1 8.8 1-2.7 1 4.6 1-8.3 1 .8 1 2.8 1 6.8 1-7.4 1 3.4 1 3.1 1-7 1 3.3 1 1.4 1-5.5 1 1.1 1-4.7 1 6.7 1-5.1 1 1.5 1 14.1 1-8.7 1-3.7 1 .6 1 6.4 1-11 1 6.9 1-5.2 1 6.6 1-3.7 1-2.8 1-7.4 1 13.1 1-4.1 1 .9 1-3.3 1 3.2 1-.4 1 2.3 1 4.1 1-1.1 1-1.6 1-2 1-1 1 4.1 1-4.2 1-1.7 1 2.4 1-2.2 1-.2 1 .7 1 4.8 1 1.8 1-1.5 1-3.9 1 4.8 1-5.4 1 6.7 1-.1 1 2.3 1-3.6 1-5 1 2.4 1-3.6 1 .8 1-.7 1 3 1-.6 1 3.7 1-2.6 1 1.7 1-1.4 1-.8 1 1.4 1-2.6 1 2.2 1 3.9 1-7.1 1 8.1 1-4.1 1 11.5 1-11.3 1-1.2 1 3.2 1-1.6 1 .2 1-1 1 3.8 1-10.9 1 3.1 1 3.7 1 1.6 1 1.8 1-.6 1 .5 1-4.8 1 5 1-3.5 1 3.5 1 3 1-4.2 1 2.4 1-6.7 1 6.7 1 4.4 1-5.2 1-3.2 1 4.1 1 .1 1-5.9 1 6.1 1 2 1-4.4 1-1.2 1 5 1 9.2 1-10.2 1-1.6 1-.4 1 1.9 1-1.6 1 7 1-1.7 1-5.4 1 1.4 1-2.3 1 3.1 1-1.6 1 2.8 1-3.5 1 1.5 1 .8 1-.2 1-1 1 2.5 1-2.9 1 1.4 1 .3 1-.9 1-1 1-2.4 1 8.5 1-6.7 1 1.4 1 2.5 1-2.9 1 1.6 1-5.6 1 9.4 1-3.2 1-.8 1-4 1 6.5 1-3.3 1 4.9 1-3.4 1-2.6 1 2.3 1-1.1 1-.5 1-.2 1 6.7 1-4.2 1 .1 1-1 1 1.2 1 1.3 1-2.1 1-.5 1 5.2 1-2 1-2.8 1 0 1-1.3 1 3.5 1-2 1-3.7 1 1 1 3 1-.7 1 3.8 1-3.7 1-.8 1-2.6 1 4.8 1 .7 1-2.6 1 6 1-3 1-5.2 1 6.3 1-4 1 2.8 1-4.3 1 3.1 1-4.1 1 4.4 1-.4 1 4.9 1-5.5 1 1.2 1 5.6 1-.5 1-4.6 1 5.3 1 0 1-4.6 1-1.2 1 .7 1-2.2 1-3.3 1 3.6 1 .3 1-1.7 1 1.8 1-1.4 1 0 1 1.7 1-.2 1-.4 1-1.7 1-.4 1 4.5 1-6.7 1 6.6 1 .7 1-1.8 1 .1 1-1 1 .2 1-3.2 1 2.7 1 .3 1 2.2 1-1.6 1-.1 1-1 1-2 1 3.2 1-.6 1 1.4 1 .7 1-4.3 1-.1 1 6.2 1-4.5 1 3.2 1-3 1 2 1-.6 1-1.1 1-2 1 2.5 1 1.8 1-1.6 1-1.4 1-1.9 1 2.6 1 4 1-7 1 4.9 1-.9 1-3.1 1 3.8 1-1.9 1 4.5 1-.6 1-3.6 1 2.6 1-1.7 1 .9 1-4.7 1 .6 1 13.4 1-15.5 1 3.8 1 .3 1 5.9 1-4.9 1 2.1 1-2.2 1-4.2 1 8.9 1-7.2 1 3.7 1 3.5 1-6.4 1 3.8 1-.9 1 .6 1-1 1 .6 1 1.8 1 .3 1-.9 1-2 1 1.1 1 0 1-.5 1-2 1 2.7 1-1.8 1-1.1 1 .1 1 2.6 1-.2 1-5.2 1-.5 1 6.1 1-2.2 1 3.8 1-2.6 1-1 1-4.6 1 3.7 1-1.1 1 2.4 1-1.8 1-.8 1-.9 1 5.3 1-4.8 1-.1 1 3.9 1-1.9 1 1.2 1-.1 1-2.1 1 3.1 1-1.3 1-1 1 1.1 1-5.5 1 7.9 1-3.1 1 2.8 1-4.6 1 1.7 1-2.1 1 4.6 1-4.8 1 4.9 1 3.6 1-5.4 1-.8 1 1.1 1-1.5 1 4.4 1 0 1-4 1-1.1 1 6.3 1-4.3 1 .8 1-.8 1 1.6 1-1.6 1-.7 1 .4 1 1.8 1 4.4 1-7.5 1 5.8 1 1.2 1-3.6 1-7.1 1 3.8 1-1.8 1 3.3 1 0 1-3.2 1 6.3 1-4.8 1-1.4 1 7.9 1-8.6 1 3.7 1-.7 1-.6 1 1.3 1 1.6 1-2.9 1 .6 1 .2 1 4.8 1-6.3 1-.5 1-.3 1 .3 1 1.8 1 1.7 1-.4 1 .6 1-2.3 1 2.6 1-.9 1-2.8 1 1.2 1 1.5 1 1.2 1 2.9 1-8.7 1-1.1 1 12.6 1-12.4 1 2.1 1 1.6 1-.4 1-3 1 2.4 1-1 1 9.2 1-5.7 1-4.1 1 9.3 1-3 1-4.2 1-1.5 1 .5 1 4.3 1-6.8 1 5.7 1-2.5 1 4.2 1 .3 1 1.4 1-1.7 1-2.4 1-1.7 1 1 1 4.6 1-.9 1-1.8 1-1.1 1-2.8 1 .9 1 7.1 1-2.3 1-2.2 1-2.8 1 4.1 1-1.1 1-4.8 1 5 1 2.9 1-3.7 1 2.4 1-3.7 1 .3 1-2 1-.3 1 1.1 1 .8 1 1.9 1-.6 1 5.6 1-7.8 1 4.1 1-.3 1-5.1 1 2.9 1 3.9 1-6.1 1 2 1 1.6 1-1.4 1 0 1 1.2 1-.1 1-2.2 1 2.1 1-6.1 1 5.6 1-2.3 1 3.4 1-3.1 1 3 1-1 1 1.9 1-.7 1-2.6 1-.9 1 3.1 1-1.1 1-.2 1-.6 1-.1 1 1.4 1-1.3 1-3.3 1 4.6 1 .5 1-2.4 1-3.2 1 7.3 1 .6 1-2.7 1-1 1-1.1 1-.8 1 2.6 1-1.4 1 .1 1 1.5 1-4.7 1 1.9 1 5.9 1-2.3 1-.9 1-2.3 1 5.5 1-7.4 1 1.3 1 1.5 1-2.6 1 1.1 1-.7 1-1.5 1-.6 1 7.6 1-4.1 1-.9 1-1.4 1-.4 1 3.4 1-.4 1-1.1 1 2.3 1-2.7 1 4.2 1-1.3 1 1.9 1-2.6 1-4.3 1 7.4 1-2.3 1-5.3 1 5.4 1-.6 1 3.1 1-3.6 1-2.1 1 0 1-.3 1 2.8 1-1.1 1-.7 1 1.2 1-.9 1-10.4 1 10 1 .7 1 .1 1 .6 1-2.5 1 2.6 1-1.1 1 1.6 1-3 1 2 1 1.5 1-.8 1-2.4 1-1.5 1-6.1 1 5.8 1 2.1 1-3 1 3.6 1 4.3 1-5.1 1-3.6 1-8.2 1 18 1-4.7 1-3.9 1 6.1 1-3.5 1-2.4 1 3.7 1-1.2 1 1.3 1-6.9 1 4 1-2 1 1 1 1 1 4.4 1-5.9 1-2 1 5.4 1-4.5 1-1.1 1-2.2 1 9.9 1-3.7 1 2 1-2.7 1-1 1 2.6 1 0 1 4.3 1-5.5 1-3.5 1-5 1 4.7 1 .4 1-1.1 1-1.6 1 1.8 1 2 1 6.4 1-5.8 1-2.8 1-3.3 1 8 1 7.1 1-11.1 1 2.5 1-4.8 1-.9 1 4.3 1 2.2 1-5 1 5.7 1-8.9 1 9.6 1-7.8 1 2.2 1-3.7 1-1.2 1 5.4 1-4.6 1 1.6 1 2.5 1-3.1 1 5.4 1-5.1 1 3.7 1-4.8 1 2.5 1-9.6 1 15.5 1-2.6 1-10.2 1 9.4 1-.1 1 1 1 .7 1-5 1 3.8 1-6.5 1 1.5 1 .9 1-4.5 1 2.6 1-4.1 1 5.1 1-4.3 1 3.1 1-8.1 1 4.9 1 5.7 1-7.7 1-.7 1 8 1 .6 1-5.4 1-3.5 1 2.7 1 6.4 1-9.7 1 3.7 1-.2 1 2.3 1-3.1 1 1.6 1-2.2 1 .3 1-1.4 1 .7 1-3.7 1 9 1-4.8 1-.9 1 2.4 1-.2 1 9.3 1-8.3 1 4.8 1-1.2 1-9.9 1 7.6 1 3.2 1-5.2 1 .3 1 3.3 1-2.7 1 .9 1-1.6 1 7.5 1-12.7 1-1.4 1 11.4 1-2.6 1-8.1 1 5.9 1-1.9 1 4.6 1-1.1 1-.4 1-2.6 1 2 1 5.4 1 1.3 1 .2 1-3.8 1 3.9 1 0 1-9.1 1 8.7 1-6.7 1 2.7 1-2.1 1 4.3 1-8 1 7.9 1-.1 1-1.5 1-1 1 .6 1-.4 1 .4 1 .8 1-1.4 1 .8 1 9.1 1 .7 1-7.9 1 2.3 1 .4 1-7.5 1 5.1 1 9.4 1-6.6 1-2.6 1 2.3 1-5.6 1 7.5 1 1 1-.5 1-1.6 1 0 1-2.5 1-.7 1 3.5 1-.9 1-2.3 1 2.9 1-2 1 12 1-10 1-3.6 1 1.4 1 .6 1 4.1 1-5.8 1 9.6 1 5.6 1-12.9 1 .4 1 1 1-1.2 1 6.1 1-3 1-1.9 1 4 1 .8 1-4.4 1 3.1 1-1.8 1-.7 1-.4 1 6.7 1-7.2 1 3.3 1-2.9 1 5.9 1-2.9 1-.1 1-.8 1-.1 1-.1 1-1.8 1-.4 1 2.6 1-2.8 1-1 1 1.4 1 3.4 1-7.9 1 4.4 1-.5 1 1.2 1 2.4 1-3.6 1-2.8 1 7.3 1-4.8 1 1.6 1 6.5 1-11.1 1 6.2 1-2.1 1 5.8 1-5.6 1 1.6 1 .5 1-4.6 1 3.5 1 4.4 1-2.1 1-2.2 1 2.6 1 1.1 1-12.2 1 7.5 1 2.4 1-5.1 1 5.6 1-4.8 1 2.5 1-.1 1-2.2 1 6.3 1-5.8 1-3.5 1 5.8 1 3 1-6.8 1 6.5 1-3.2 1-1.8 1 .5 1-4.3 1 4 1 2.8 1-6.6 1 8 1-3.6 1 1.6 1-2.8 1-1.4 1 6.4 1-1.5 1-.1 1-6.7 1 3.6 1 2.1 1-1.7 1 .5 1 1.2 1 1.1 1 1.1 1-4.9 1 1 1 2.7 1-1.5 1 .7 1 .5 1 7 1-8.6 1 .9 1 3.1 1-3.1 1-3.5 1 2.8 1 3.5 1-2.4 1 3.9 1-2.6 1-3.8 1 2 1 .8 1 2.5 1-.9 1-4.9 1 .2 1 5.4 1 .7 1-5 1-6.3 1 2.3 1-3.5 1 7.7 1 .1 1 1.1 1 1.9 1-2.9 1 6.2 1-10.9 1 4.4 1-1.4 1 1.9 1-.1 1 1.7 1-2.9 1 5.4 1-4.3 1 .6 1-5 1 7 1-3.2 1-1.2 1 5.9 1-9 1 2.1 1 2.2 1-3.9 1 3.4 1 8 1-13.8 1 7.3 1-8 1 9.9 1-2.2 1-7.5 1 6.9 1-2.3 1 1.5 1 .7 1-.4 1-4.4 1 3.9 1-4.2 1 12.8 1-10.5 1 10 1-7.8 1-.6 1 2.9 1-2.2 1 5.6 1-3.5 1 5 1-10.1 1 4.7 1-6.4 1 4.5 1 3.5 1 4.5 1-6.8 1-8.1 1 9.2 1 3.9 1-11.5 1 3.1 1 1.4 1 .4 1-2.5 1 4.3 1-1.4 1-3.3 1 5.6 1-3.8 1 1.9 1-2.1 1-.9 1 1.8 1 4.9 1-9.2 1 7.4 1-6.1 1-2.2 1 2 1 5.9 1 5.9 1-12.9 1 4.2 1-.4 1-.5 1 4.9 1-6.2 1 6.4 1-3 1-.4 1-.1 1-3.6 1 .5 1 10.9 1-5.5 1-6.2 1 1.5 1 6.5 1-1.8 1-3.6 1 1.4 1 1.2 1-7.5 1 2.7 1-2 1 4.8 1-7.2 1 4 1-1.1 1 4.4 1-6.5 1 3.9 1 3.2 1-2.8 1 3 1-4.3 1 4.2 1 1 1-4.7 1 4 1-2 1-3.1 1 1 1-3 1 5.9 1 1.6 1-1.5 1-8.5 1 1.2 1 .2 1 3.4 1-4.9 1-.9 1 13 1-8.5 1 2.5 1 2.9 1-15.3 1 5.8 1 8.4 1-6.9 1 5 1-2.1 1 .2 1-5.2 1 5 1-1.5 1 4.2 1 .3 1-11.4 1 3 1 10.4 1-13.8 1 4.4 1-3 1 7.8 1-6.5 1 3.1 1 1.6 1-1 1 1.2 1-6.9 1 5.9 1-5.5 1 6.1 1-3.3 1 3.1 1-.1 1 6.3 1-10.9 1 3.3 1-4.5 1 3.1 1 2 1-3.9 1 2.2 1 2.2 1-4.8 1-1.7 1 .6 1 4.3 1-1.8 1 1.4 1-3.8 1 .1 1-10.3 1 8.5 1 4.1 1-5.5 1 .5 1 1.2 1-2 1 18.8 1-19.5 1 8.5 1-4.4 1 5.2 1-4.4 1-21.5 1 22.8 1-6.7 1 .6 1 6.6 1-3.3 1-7.4 1 5.3 1 .6 1-2 1 .4 1-2.7 1 2.3 1 .9 1 3.3 1-1.8 1-1.5 1 1.1 1-15.7 1 18.3 1-5.3 1-.8 1-1.4 1 3.9 1 1.6 1-10.5 1 7.4 1-3.6 1-5.7 1 3.7 1 3.8 1-5.6 1 5.6 1 4 1-5.5 1-10.3 1 9.6 1 2.8 1 1.6 1-6.2 1-1 1-1.9 1-1.5 1 1.7 1 3.8 1 .6 1-8.3 1 8.8 1-7.1 1 1.3 1-7 1 6.6 1-3.5 1-.1 1 .7 1 5.1 1-4.1 1 .4 1-1.6 1 1.3 1 9.6 1-18.1 1 17.3 1-5.2 1-12.6 1 1 1 5.9 1-29.4 1 24.8 1 1.9 1 7.7 1-10.8 1-9.9 1 10 1-.5 1-6.7 1-.2 1-6.6 1 10.4 1-5.2 1 5.1 1 9.7 1-13 1-7.3 1 22.1 1-22.1 1 8.7 1-1.7 1-9.8 1 3.9 1-9.2 1 12.7 1-8.8 1 10.1 1-5.8 1 5.2 1-7.7 1 13.7 1-8.2 1 6 1-10 1 10.5 1-13.1 1 13.5 1-17.6 1 6.6 1-.3 1 4 1-6.4 1-1.1 1-2 1 14.7 1-14 1 1.3 1-2.2 1 4.7 1-13 1 8.6 1 5.8 1 1 1-1.1 1-4.2 1-12.7 1 15.8 1-4 1 1.3 1-10.5 1 13.4 1-6.6 1 8.3 1-6.7 1 5 1 8.8 1-16.1 1-1.8 1 13.5 1 4.2 1-15.6 1 2.3 1 1.7 1 3.3 1-3.8 1-3.4 1 6.5 1 3.9 1-1.1 1 19.8 1-33.4 1 7.6 1-3.5 1-3.2 1 3.6 1 15.8 1-9.5 1-1.5 1-3.8 1-10.9 1 23.2 1-6.3 1-4 1 4.9 1-6.4 1 0 1-.6 1 5.9 1 3 1-12.9 1 7.4 1-3.4 1 1.4 1-1.9 1 15.5 1-10.4 1 4.9 1-1.2 1 7.1 1-1.8 1-12.2 1-4.5 1 9.7 1 .4 1 2.9 1 5.1 1 7.8 1-9.8 1 8.6 1-13.7 1 3.7 1-9.3 1 1.1 1 5.5 1 8.6 1-4.3 1 1.9 1-3.6 1-.4 1-1.4 1-2.1 1 6.7 1-1.5 1 3.9 1-11.1 1 8.7 1 1.2 1-6.3 1 20.9 1-19 1 9.1 1-7.8 1 8.3 1 3.6 1-2.2 1 3.5 1 11.6 1-9.1 1-12 1 .8 1-2.6 1 10.8 1 9.3 1-10.7 1 .5 1-6.8 1 21.1 1-14 1-.2 1 1.4 1-3.6 1 7.5 1 .8 1-.5 1-2.2 1-3.9 1 3.1 1 4 1 .2 1-5.3 1 13.2 1-10 1 2.7 1-2.9 1-6.2 1 5.7 1 2.7 1-13.8 1 17.1 1-10.5 1 3.1 1 7.9 1-1 1 6.5 1-10.1 1 5.7 1 4.8 1 6.2 1-13.1 1 4.3 1-1.6 1 12.4 1-17.6 1 11.8 1-6.4 1-1.9 1 .4 1 1.6 1 .3 1 2.8 1-1.7 1 10.3 1-10.2 1-5.8 1 5.1 1 1.2 1 3 1-6.1 1-.8 1 5.5 1-5.7 1 4.9 1-5.7 1 3.6 1-14.4 1 6.5 1 4.9 1 11 1-8.3 1 24.1 1-29.2 1 6.5 1 .5 1-4.1 1 1.4 1-4.2 1 14.1 1 15.3 1-24.6 1-.5 1 .4 1 1.4 1 3.8 1 1.1 1-10.9 1 8.4 1-3.9 1 3.1 1-2.2 1 5.4 1-14.1 1 6.6 1-.9 1 6.9 1-1.6 1 3.3 1-.5 1 .7 1-1.6 1-4.9 1 2.2 1-1.1 1-3.8 1 6 1-14 1 17.2 1-4 1-6.1 1 2 1 4.6 1 4.5 1-11.2 1 1.1 1 5.4 1-11.1 1 10.6 1-12.8 1 15.8 1-5.4 1-1.7 1 7.2 1 3.2 1-7.3 1-2 1 9.6 1 13.1 1-20.5 1 12.3 1-8.9 1-2.3 1-3 1 5.4 1-1.5 1 .3 1-9.9 1 12.7 1-.3 1-11.4 1 1.2 1 2.8 1 2.3 1-7.5 1 8.3 1 2.1 1 3.5 1 4.1 1-.6 1-2.4 1 0 1-.9 1-7 1 2.7 1-3 1 5.1 1-4 1-3.7 1 6.8 1-10.1 1 9.1 1 .4 1-3.8 1 1.3 1 1.2 1-2.9 1 1.1 1 5.6 1-7.3 1 5.1 1 3 1-8 1 6.7 1 .1 1 2.3 1-11.7 1-1.9 1 15.4 1-3.6 1 .2 1-11.4 1 12.3 1 5.7 1-4.4 1-18.4 1 5.9 1 8 1-.5 1 .2 1 .2 1-1.2 1 6.2 1-2.7 1-8.6 1 5.4 1 6.2 1-1.4 1 9.3 1-9.1 1-5.7 1 2.9 1 .7 1 4.1 1-2.4 1-2.7 1-.7 1-2.1 1 .5 1 18.3 1-11.9 1 1 1-2.3 1 7.8 1-4.8 1 5.9 1-7 1 7.9 1 1.6 1-2.2 1-1.8 1-1.1 1-5.9 1 1.6 1 5.5 1 4.2 1-9.5 1 4.4 1-1.2 1 1.5 1 .5 1-1.8 1-11 1 17.3 1-8.8 1 7.4 1-4 1 3.7 1-5.6 1 4.5 1 1.5 1 .4 1 0 1-1.6 1 .7 1 .4 1-.4 1 1.1 1 1.6 1-4.9 1-4.9 1 13.1 1-5.3 1-1.5 1 .4 1 .4 1 2.9 1-.2 1-1 1 1.7 1 1.9 1 3.4 1-11.5 1 4 1 4.7 1-.3 1 0 1-1.7 1 4.7 1-6.3 1-4.8 1 8.9 1-3.1 1-.9 1 3.6 1-1.7 1-1.5 1 3.9 1-9 1 8.6 1 .8 1 2.3 1-7.4 1 6.5 1-3.3 1-1.8 1 11.7 1-5.6 1-1.3 1-3.1 1-.2 1-1.3 1-1.8 1 3.5 1 .8 1 .5 1-2.5 1 0 1 5 1 .2 1-3.4 1-.1 1-1.1 1 1.8 1 .8 1-2.5 1-1.4 1-1.1 1 8.3 1-5.4 1 0 1 12 1-15 1-3.1 1 1.2 1 4.1 1 1.1 1 2.8 1-3.9 1-.8 1 6.6 1-2.5 1-3.2 1 6 1-2.9 1-.6 1 1.7 1-9.8 1 10 1-2 1-5.7 1-6.9 1 15.2" vector-effect="non-scaling-stroke" stroke="#737373" stroke-width="3.0"/>
<path transform="translate(110.500 0) scale(0.22925 1)" d="M0 517 l1-4.3 1 3.2 1-.4 1 .2 1 .6 1 .5 1 .1 1-2.3 1-3.5 1 7.2 1-.3 1-1.8 1-.5 1-1.3 1 4.3 1-5.4 1 .3 1 3.1 1 .5 1 .8 1-5.5 1 .7 1 5.9 1-2.6 1-.2 1 3.8 1-4.3 1 .5 1-1.6 1 .5 1 1.7 1-.2 1-1.9 1 1.2 1 1.4 1-1.5 1 3.2 1-6.1 1 2 1 1.7 1-.5 1-1.3 1-1.7 1 4.5 1 .2 1-1.4 1-1.6 1 2.8 1-2.5 1 4.6 1-5.4 1 1.5 1 2.1 1-3.2 1 3.5 1 .1 1-3.9 1 .5 1-2.6 1 6.3 1-4 1 4.7 1-.8 1-.1 1-1.1 1-2.6 1 3 1-2.6 1-4.7 1 8.8 1-3.1 1 1.1 1 3.3 1-2.3 1-.4 1-4.4 1 2.5 1 2.9 1-7.1 1 .8 1 4.2 1-2.6 1 1.8 1 2.4 1-4 1 4.4 1-2.4 1-2.8 1 1.6 1-1 1 2.5 1-.6 1 3.3 1-1.4 1-3.2 1-1 1 3.2 1 2.1 1-6.5 1 5.2 1 .1 1 2 1-4.9 1 1.4 1-.9 1-2.3 1-.1 1 1.5 1 5 1-1.4 1-2.5 1 1.6 1 .9 1-2.1 1 3 1-1.7 1-1.5 1-1.3 1 4.2 1-4.5 1 2.6 1 3.2 1-10.8 1 7.4 1-.2 1 0 1-.3 1-2.1 1 6.1 1-4.3 1 4.2 1-5 1 3.9 1 1.3 1-2.8 1-5 1-.8 1 4 1-1 1-1 1 1.3 1-.1 1 .6 1 1.5 1 2.8 1 0 1-4 1-2.3 1 1.6 1 0 1-2.5 1-.3 1 6 1-.4 1-.2 1 .1 1 2.1 1-4.4 1 1.7 1-.7 1 1.2 1-.4 1-2.4 1 .8 1-1 1 3.9 1-1.5 1-1.3 1 2.2 1-.2 1-3.1 1 .5 1 3.1 1-4.7 1 .7 1 .1 1 2.7 1 2.6 1-.2 1-1.4 1-2.7 1-.6 1-.5 1 2.9 1-3.4 1 3.9 1-2.2 1-.2 1 .8 1 1.5 1-.9 1-.9 1 0 1-.1 1 2 1-3.1 1 1.3 1-2.7 1 .9 1-.9 1 3.1 1-2.1 1 .5 1 2.8 1 0 1-.9 1 1 1 5.5 1-4.4 1-3.5 1-.2 1-.6 1 .4 1 3.2 1-2.6 1 1.4 1 .6 1-1.6 1 1.2 1-1.8 1 4 1 .6 1 .5 1-1 1-1.2 1-.9 1-3.3 1 5.6 1 3 1-4.5 1 .1 1-1.8 1 .8 1 5.5 1-8.8 1 1.6 1 3.2 1-.3 1-3.1 1 2.3 1 .9 1-1.6 1-2.8 1 1.4 1-2.6 1 2.1 1-2 1 3.5 1 2.9 1-3.2 1 2 1-2.2 1 2.1 1 1.3 1-6 1 8.1 1-3 1-.3 1 2.4 1-2.4 1 .8 1-3.1 1-.6 1-2.6 1 0 1 .6 1 4 1-.4 1 0 1 1.6 1-1 1-1.3 1 .3 1 .7 1-.7 1-1.1 1 .9 1-.8 1 4.2 1-5.1 1 2.9 1-1 1-3 1 6.2 1-.9 1-3.6 1 2.5 1 1.3 1-.2 1-3.7 1 .5 1 1.6 1 3.6 1-.4 1-5 1-2 1 4.5 1-.8 1 .4 1-4.3 1 4.3 1 2.3 1-3.2 1 5.8 1-1.9 1-4.3 1 2.2 1-2.2 1-1.1 1 2.6 1-.1 1-7.6 1 7.5 1-5.1 1 5.3 1 2.8 1-3 1-3.6 1 7 1-1.3 1-4.8 1 4.4 1-2.7 1 1.1 1 7.3 1-8.2 1 3.6 1-3.9 1 2.9 1-3.7 1 5.4 1-5.5 1 .4 1 .3 1-.8 1 6.6 1-4.9 1-.3 1-1.4 1 .6 1-1 1 1.9 1 1.5 1-3.1 1 1.6 1-.2 1 1.5 1 2.4 1-2 1 .8 1-2.7 1 .5 1-4.3 1 4.2 1-.9 1 1.4 1 1.3 1-3.8 1 1.4 1-2.8 1 4.5 1-.6 1-1.5 1-3 1 4.6 1-3.6 1 4.5 1-.4 1-2.6 1 1.8 1-1.1 1 1.7 1-.6 1-.8 1-2.6 1 4.6 1-1.2 1-4 1 3.8 1-1.2 1 5.4 1-1.8 1-2.2 1-1.9 1-1.8 1 3.7 1 2.1 1-3.2 1 2.2 1-3.8 1 4.9 1-6.2 1 3.6 1-1.5 1 2.9 1-1.9 1 .2 1 2 1 1.7 1-.9 1-1.3 1-.7 1-.5 1 2.4 1-1.4 1-.6 1-3.6 1 2.8 1 2.3 1 .2 1-2 1-4.7 1 5 1 1 1 0 1-1.6 1 1 1 5.1 1-5.8 1 0 1 1.9 1 .6 1 1.1 1-3.9 1-1.8 1 4.1 1-6.3 1 6.4 1 .2 1-5 1 4.3 1-.3 1-2.6 1 .8 1-2 1 3 1 2.3 1-5.5 1 3.6 1-1.4 1 2.8 1-6.4 1 7.2 1-5.8 1 1.7 1 2.4 1-1.4 1-1.9 1 3.7 1-4.7 1 6.9 1 .5 1-4.8 1 1.1 1-4.4 1 5.6 1 2.4 1-5 1-1.5 1 3.1 1-.8 1 3 1-5.2 1 .3 1-.3 1 3.8 1-.9 1 .5 1 8.1 1-11.3 1 2.2 1 .9 1-2.8 1 .2 1 4.4 1 1.1 1-.7 1-3.8 1-1.6 1 1.4 1 4.3 1-1.3 1-5.6 1 6.3 1-3.2 1 .3 1 .3 1-3.3 1 .8 1 .9 1-2 1 2.9 1 1.4 1-2.2 1 .4 1-.4 1-1.7 1-.4 1 3.5 1-.7 1 1.1 1 2.6 1-3.9 1 2.5 1-1.2 1-.9 1-4 1 5.6 1-4.1 1 3.4 1-2.4 1 1.9 1 2 1 4.3 1-3.7 1-.4 1-1.9 1-1.3 1 3.6 1-7.9 1 5 1 1.3 1-3.4 1 4 1-.1 1 1.5 1-.1 1-6 1 4.6 1 2.4 1-3.2 1-2.9 1 2.8 1-.3 1-1.7 1 .1 1 1.7 1 2.4 1-4.3 1-2.2 1 2.6 1 1.2 1 .7 1 1.6 1-3.6 1 3.5 1-1.6 1 .5 1-2 1 .6 1 1.5 1-3.3 1 .7 1 .3 1 1 1-1.6 1-1.2 1-1 1 2.9 1 .3 1-1.5 1 4.5 1-1.4 1-.1 1 1.1 1-.4 1-1.5 1 1.3 1-3.2 1-3 1 6 1-.3 1-1.8 1 .9 1-3.6 1 3.7 1-.4 1 .5 1 1.6 1-7.9 1 8.8 1-3.7 1 2.4 1-1.5 1 .5 1-.3 1-3.5 1 5.1 1-2.9 1 1.4 1-1.4 1 .2 1-.8 1-1.2 1 3.7 1-.4 1 4.5 1-4.9 1-5.7 1 4.5 1 1.1 1-.5 1 4.7 1-7.1 1 0 1 2.9 1-.7 1 3.5 1 1 1-2.5 1-1.8 1-1 1 .7 1-2.6 1 2.5 1 .7 1-.9 1 1.6 1-1.3 1 2.7 1-1.7 1-2.4 1 0 1 4.1 1-3.6 1-.2 1 1.5 1-.5 1 1.8 1-3.1 1 2.3 1 1.2 1 1.3 1-1 1-.7 1-3.8 1-3.3 1 6.5 1 0 1 .1 1 1 1 1.3 1-2.1 1 1 1-3.6 1 3.7 1-.9 1-2.1 1 1.9 1-2.3 1-1.6 1-1.2 1 6.1 1-2.4 1-.1 1-2.9 1 .2 1 5 1-3.6 1 3.8 1-5 1 .5 1 3.6 1 2.9 1-.5 1-1.4 1 .2 1 1.1 1-2 1 5.5 1-4.4 1-.5 1-3 1 2.1 1-1.4 1 1.6 1-.9 1 1.7 1-3.7 1 2 1 2.3 1-.4 1-2.1 1-2.2 1 2.6 1 5.4 1-3.8 1-2.2 1-3.1 1 5.2 1 1.7 1-2.9 1 3.4 1-4 1 0 1-2.2 1 3.6 1 2.8 1-2.5 1-1.8 1-2.4 1 2.7 1 4.2 1-2 1-5.2 1 3.4 1 1.7 1 .6 1-.5 1-3.3 1 3.5 1-4.1 1-.1 1 5.4 1-6.3 1-.3 1 .6 1 2.1 1-2.7 1 4.7 1-4.1 1 .8 1 1.7 1 1.4 1 1.9 1 1.6 1-6.2 1-1.3 1 5.1 1-1.4 1 .4 1-6.1 1 .3 1 4 1-.4 1 4.2 1-3.9 1-4.7 1 4.6 1-.1 1 3.3 1-3.1 1 .1 1-1.5 1 6 1-5.7 1-.1 1 1.2 1-1.5 1 4.4 1-1.1 1-2.2 1-.7 1 2.3 1-4 1 .9 1 1.2 1-1.1 1 3.4 1-1.6 1-4.2 1 4.6 1 5.6 1-4.8 1-.4 1-4.6 1 5 1 2.2 1-.4 1-.4 1-.5 1-2.5 1 4.5 1-2.3 1 0 1-4.4 1 1.6 1 3.1 1-2 1 2.2 1-2.8 1 4.5 1-5.5 1 1.3 1-.3 1-.8 1 1.7 1 1.9 1 .1 1 3.5 1-7 1 1.8 1 1.3 1-5.8 1 5.8 1-4.5 1 5.6 1-1.9 1 .5 1-2.3 1 1.5 1-1.9 1 2.6 1-.8 1 .9 1 2.3 1-.4 1-2.3 1 1.8 1-3 1-.6 1 1.3 1-.1 1 2.1 1-1.5 1-1.3 1-.4 1 .8 1 1.6 1-.8 1 .2 1 2.3 1-2.4 1 .4 1 .8 1-1.1 1 1.5 1-1.6 1-1.8 1-.2 1 3.3 1-2.7 1 4.7 1-3.2 1-5 1 4 1-1.2 1 2 1 .3 1-2.4 1 2.8 1-1.9 1-.5 1 4.6 1-7 1 2.9 1 7.5 1-4.2 1-.6 1 .8 1-6.5 1 5.9 1-3.9 1 3.8 1-5.6 1 1 1 5.3 1-1.6 1-3.2 1 0 1-1.5 1 5.5 1-3.1 1 1.4 1-2.1 1 1.1 1 3.4 1-2.9 1 .9 1-3.2 1 4.2 1-1.2 1 1.6 1 1.1 1-.3 1-2.2 1-1.9 1 1.1 1-.9 1 2 1-2.8 1 2.9 1 .6 1-5.7 1 2.2 1 4.3 1-3.3 1 1.7 1-1.5 1 1.1 1 1.6 1-1.6 1 3 1-6.7 1 5.6 1-1.4 1-.7 1-1.5 1 .8 1 .5 1 .3 1 3.3 1-3.1 1 2.8 1-2 1-3.1 1 1.9 1-2 1 7.5 1-5.6 1 1.1 1-.7 1 5.9 1-3.7 1-3 1 .4 1-5.1 1 3.2 1-1 1 8.5 1-8.1 1 3.5 1-3 1 3.9 1-2 1 1.8 1-3.8 1 .2 1 1 1-2.7 1 2.2 1 3.3 1-.8 1-1.6 1 .9 1-1.8 1 2.8 1 .9 1-4.5 1 4.2 1-3.9 1 5.5 1-3.1 1 1.2 1-4.1 1 3.5 1 .6 1-1.7 1-3.3 1 3.4 1-.7 1 1.6 1-1.4 1-.5 1-3 1 2 1 .8 1-.3 1-.8 1 2.2 1 0 1 1.2 1-.4 1-4.2 1 .2 1 3.6 1 1.4 1 5.6 1-7.4 1-.5 1 1.4 1-.1 1 1.2 1-5.1 1-.1 1 4.2 1 1.2 1-1 1 .1 1 1.1 1-3 1-.9 1 .5 1-1.8 1 4.4 1-3.6 1 4 1-4.5 1 4.5 1-2.9 1 1.5 1-2.2 1 2.7 1 8.9 1-6.4 1-3.7 1 4.5 1-1.4 1-2.4 1 .9 1-.4 1 .3 1-1.7 1 .3 1-1.3 1 .3 1 2.1 1-.2 1-1.2 1-.3 1 1.2 1 .1 1-.4 1 .7 1-.7 1-.7 1-2.1 1-.9 1 1.1 1 2.4 1-.1 1 2.6 1 .4 1-3.4 1 .3 1-.4 1-3.6 1 2.3 1-.8 1 1.6 1-1.2 1 1.1 1 3.2 1-2.6 1-2.1 1 5.7 1-2.8 1-3 1 4.3 1-4.6 1 5.1 1-2.1 1 .3 1-3.9 1 2.4 1 3.2 1-4.1 1 .9 1 3.3 1-.2 1 3.5 1-4.1 1-.5 1-.2 1 .4 1-1.4 1 4.4 1-4.6 1 1.3 1 .3 1-1.3 1 4 1-5.5 1 4.3 1-.2 1-5.8 1 3.5 1 1.4 1 1.5 1-4.5 1 5.3 1-2 1-3.1 1 2.9 1-4 1 4.2 1 2.3 1-2.2 1-4.7 1 1.9 1 1.7 1-1.8 1 1.4 1 1.8 1-.2 1-1.5 1 .6 1 2 1-4.9 1 3.7 1-1.9 1 3.4 1-.5 1-.3 1-2.5 1 2 1-2.8 1 2.1 1-.2 1-.8 1-1.3 1 2.8 1 7.6 1-8.6 1-1.6 1-.9 1 7.8 1-3.8 1-1.2 1-3.7 1 4.2 1-2.1 1 2 1 3.5 1-5 1 3.9 1-5.5 1 2.4 1-2.2 1-1.9 1 1.6 1 2.3 1-1.3 1-.5 1 2.7 1 .8 1-2 1 .5 1-.5 1-7.6 1 4.6 1 1 1 4.6 1-.1 1-1.2 1-.3 1-1.3 1 3.5 1-2.7 1 .2 1 1.5 1-3.1 1 .1 1 3.1 1-.7 1 1.1 1 .5 1-5 1 3 1-5.6 1 7.8 1-2.6 1-.1 1 2 1-1.4 1 .6 1-1.5 1-1.1 1-.8 1 3.2 1-.5 1 2.2 1-3.8 1 2.9 1 0 1-1.7 1-.6 1-2.6 1 4 1 1.4 1-4.1 1 2.1 1 3.7 1-4.2 1-1 1-.8 1 3.4 1 .3 1-2 1-.2 1 1.1 1-.6 1 1.2 1 .6 1-7.6 1 3.2 1 .7 1 5.5 1-3.7 1-1.3 1 3.7 1-1.4 1-4.7 1 3.1 1 1.5 1-2.3 1 1.1 1-.1 1 .1 1 2.9 1-3.7 1 2.1 1-3.5 1 2.9 1-.2 1-.5 1-2.1 1-.3 1 1.6 1 .5 1 3.4 1-1.3 1-1.9 1-1.2 1 2.4 1-3.9 1 5.3 1-4.9 1 .2 1 2.8 1 .4 1-2.5 1 4.6 1-3.8 1 1.5 1-.2 1-1.1 1 .8 1 2.2 1-3.8 1 4.1 1-3.6 1 .8 1-1.1 1 .4 1 .7 1-2.8 1 7.8 1-5.4 1-3.5 1 1.4 1 1.7 1 1.4 1 1.8 1-.9 1 .8 1-2.6 1-2.5 1 3.6 1-.9 1 1.1 1 6.3 1-5.2 1 3.4 1-6.2 1-1 1 2.7 1-2.2 1 .4 1 3.4 1-2.3 1 1.3 1 2.4 1-3.1 1 .1 1 .4 1-4 1 3.9 1-.3 1-1.9 1 .6 1-1.4 1 2.2 1-3.6 1 3.2 1 .7 1-.6 1 1.5 1-1.4 1-1.2 1-1.4 1 3.4 1-1.2 1-.1 1-.4 1 2.7 1-4.5 1 2.9 1 6 1-3.4 1-5 1 1.9 1-4.1 1 4.9 1-.9 1 4.2 1-8.6 1 6.5 1-4.4 1-2.6 1 3.8 1 5.3 1-9.4 1 6.6 1 .9 1 4.7 1-2.8 1-4.5 1 1.9 1 2.7 1-.7 1-.7 1-.1 1-3.1 1 .3 1-2.5 1 1.6 1 .2 1 3.1 1-4.4 1 2.7 1 .6 1-1.6 1-2.2 1 2.9 1 1.4 1 1.5 1-3.2 1 .5 1-2.1 1 2.7 1-.5 1 4 1-4.9 1 1 1-.9 1-2.5 1 6.9 1-5.9 1 5.1 1-1.3 1-4.8 1 .4 1 3.3 1-2.3 1 .9 1-.2 1 4 1-2.8 1 .8 1-1.6 1 .4 1 2.6 1-5.4 1 3 1-.5 1 1.2 1-1.4 1-.4 1 2.7 1-2 1-.2 1 .1 1-2.8 1 1 1 2.2 1 1.7 1-.2 1-.7 1 1.5 1-.9 1-1.6 1 2 1 .8 1-3 1 1.7 1-2.1 1 1.2 1 1.4 1-4.7 1 4 1 1.2 1-3.8 1 .8 1 .6 1 1.1 1-1.9 1-.9 1 6.4 1-5.3 1 2.2 1-1.2 1-.2 1-.9 1 .3 1 2.6 1-.8 1 2.5 1-5.8 1 3 1-1.3 1 2.2 1 2.8 1-6.1 1 2.5 1 .2 1 .3 1 2.6 1-3.9 1-1.3 1-1.1 1 2.3 1 .1 1 0 1 1.2 1-1.3 1-.1 1-.3 1 .6 1-.4 1 .3 1-1.3 1 2.5 1-1.2 1-5.5 1 4.1 1-1.7 1 3.9 1 3.6 1-6.9 1 1.9 1 4.7 1-2.5 1-2.3 1-2.7 1-.8 1 6.2 1-1.7 1-2.4 1 6.1 1-3 1-3.8 1 3 1-.6 1 2.8 1-1.3 1-.2 1 3.1 1-6.2 1 .9 1-1.9 1 3.1 1 1.4 1-.8 1-1 1 2.3 1-3.3 1-.5 1 2.2 1 .3 1 0 1-.2 1 3.8 1-6.3 1 3.4 1-1.3 1 1.1 1-3.2 1 1.4 1-1.6 1-.7 1 4.1 1-9.2 1 7.3 1 3.8 1-1.7 1 0 1-2.2 1-3 1 2.9 1 .5 1-.4 1-.3 1 1.2 1-.9 1-2.1 1 1.9 1-1.2 1 3.6 1 .7 1-2.1 1 2 1-4.7 1 3.3 1 .5 1-2.4 1 3.8 1-8.1 1 3.6 1 4.3 1 2.1 1-5.8 1 1 1 1.6 1-3.8 1 .4 1 1 1 2.2 1 1.1 1-4.5 1 2.2 1-3.9 1 4 1-2.4 1 1.6 1 .9 1-.2 1 1.9 1-5.3 1 4.6 1 .5 1 .3 1 .2 1-2.7 1 1.7 1-.2 1 1.7 1-1.6 1-.3 1-.6 1 2.1 1-1.4 1 3.7 1-2.8 1-1.3 1-3.1 1 .1 1 3.3 1-1.2 1-3.3 1 5.5 1-6.5 1 8.1 1-4.9 1 4.6 1-3.2 1 .8 1-.7 1-2.7 1 .1 1 .6 1 4.7 1-2.7 1 .4 1-.4 1 2.8 1-4.6 1 2.9 1-2.4 1-.6 1 3.5 1-3.2 1 2 1 .6 1 .8 1-4.7 1 5.3 1-3.7 1 .7 1 3.1 1-3.7 1 3.6 1-1.4 1-1.9 1 3.6 1-3.4 1-.4 1-1.3 1 4.2 1-3 1-1.2 1 .6 1 1.7 1 2.2 1 2 1-5.3 1 .1 1-1.1 1 4.4 1-4.7 1-.8 1 4.4 1-3.7 1 4.3 1-1.3 1-3 1 1.5 1 7 1-6 1-5.6 1 5.8 1-5.3 1 8.5 1-7.8 1 .6 1 2.7 1 1.2 1-4.5 1 3.1 1 2.3 1-1.9 1-2.4 1 .4 1 4.2 1-3 1 2.1 1-4 1 .4 1 2.2 1 2.7 1-7 1 3.5 1-1.2 1 4.7 1-3.7 1-1.4 1 1.4 1-5.4 1 3.7 1 .6 1-2.3 1-1.7 1 5.1 1-3.2 1 5.1 1-7.7 1 8.2 1-8.8 1 2.9 1 .4 1 1.4 1-1.8 1 3.7 1-7 1 5.4 1-3.8 1 1.9 1-.5 1 .3 1 3.1 1-4.2 1 4.8 1-2 1 .3 1 .4 1 3.8 1-6.7 1 5.1 1-2 1-3.2 1 3.4 1 2.3 1-2.4 1-.3 1 1.1 1 .2 1-2.1 1-6.2 1 5 1 1.8 1-2.7 1 2.1 1 .4 1-1.5 1-4.3 1 3.8 1-2.3 1 1.3 1 3.5 1-1.3 1-.5 1-1.3 1 1.2 1 5.9 1-3.7 1-1.6 1 1.3 1 1.7 1-4.6 1 3.2 1-1.1 1 3.4 1-2.4 1 1.5 1-3.2 1 9.3 1-11.1 1 1.8 1 1.6 1-3.2 1 .3 1 .9 1 4.4 1-7.8 1 6.5 1 7.7 1-10.7 1-.5 1 5.7 1-4.1 1 .5 1-1.4 1-2 1-2.1 1 7.3 1-4.9 1 1.3 1-1.2 1 4 1-3.3 1-5.8 1 6.2 1 4.2 1-1.5 1 2.5 1 2.3 1-11.7 1 6.4 1 1.3 1-3.9 1 4 1-2.6 1 .5 1 2.4 1-1.3 1-3.3 1 4.2 1-1 1-5.3 1 1.3 1 3.3 1-3.4 1 2.6 1-1.7 1 .4 1 7.1 1-6.5 1-5.2 1 4.5 1 4.8 1-2.8 1 3.6 1-8.1 1 4.1 1-1.7 1-.3 1-4.4 1 3.9 1 5 1-5.1 1-.7 1-2.6 1 8.6 1-5.8 1 3.5 1 .6 1-1.1 1-1.4 1-1.5 1 4.5 1-6.2 1 .6 1 4.4 1-2.3 1-.2 1 3.4 1-2.9 1 2.2 1 .1 1-1.1 1 2.7 1-10.6 1 8.4 1-.1 1-2.4 1 3.8 1-2.6 1 2.4 1 3.2 1-7.6 1-1.1 1 3.8 1 3.1 1-3.8 1-2.2 1 4.2 1-3.8 1-.1 1 4.5 1-3.3 1 1.1 1 2.6 1-1.7 1-.7 1 1.3 1 2.8 1-.8 1-4.8 1-1.2 1 2.5 1 .9 1 1.1 1-4.1 1 4.9 1-6.1 1 4.5 1-1 1 1.7 1-2.6 1 2.6 1-.5 1 1.4 1-3.4 1-1.7 1 2.1 1 1.3 1-2.6 1 .2 1 .9 1 3.2 1 .4 1 .4 1 .1 1-.9 1-6.7 1-1.2 1 4.6 1 5.2 1-4.5 1 2.6 1 .2 1-4.8 1 5.8 1-5.6 1 3.3 1 0 1-2.6 1 .9 1-2.2 1 .7 1 5.4 1 2.2 1-8.1 1 3.2 1-3.7 1 5.2 1 2 1-5.8 1 5.6 1-7.5 1 .9 1 9.4 1-7.4 1-1.8 1-3.4 1 3.4 1 1.7 1 1 1-.5 1 3.5 1-1.6 1-.2 1-3.5 1 3.2 1-1.3 1 4 1-6.4 1 5.7 1-2.4 1 .1 1-2.4 1 6.1 1-1.3 1-7 1 6.1 1-1.9 1-2.1 1 3.8 1-2.3 1-.6 1-4 1 3.7 1 5.8 1-7.7 1-.6 1 3.6 1 1.8 1-3.3 1-1.5 1 2.9 1-2.4 1-1.9 1 6 1-2.2 1 4 1-3.2 1-5.2 1 2.9 1 1.8 1 5.1 1-6 1 3 1-3.4 1-.5 1-4.5 1 8.8 1 3.9 1-5.8 1 8.3 1-13.4 1 4.3 1 1.2 1 1.4 1 3.4 1-4.5 1 .1 1-1.9 1 .8 1-2.6 1-1 1 5.5 1-8.8 1 5 1 3 1 .5 1-3.7 1 3.8 1-5.4 1 2.7 1-3.9 1 4 1 1.4 1-4.6 1 5.3 1-7.1 1 4.1 1 1.4 1 10.5 1-8.4 1-6.2 1 4.2 1-.8 1 2.6 1-3.2 1 .9 1-2.9 1 7.4 1-5.8 1 .6 1 2.6 1-1.8 1-2.9 1 2.2 1-.9 1-4.3 1 8.2 1-3.4 1 .6 1-2.1 1 2.9 1-1.2 1 1.7 1-.1 1-5.9 1 5.1 1 1 1-2 1 6.4 1-2.3 1-8.6 1 5.9 1 3.5 1-7.5 1 1.8 1-2.1 1 4.7 1-1 1-2 1 6.3 1-6.1 1-.7 1 4.2 1-1.1 1 1.9 1-2.6 1-1.1 1-1.1 1 1.9 1 6 1-9.2 1 .2 1 .5 1-.8 1 6.6 1-4 1-1.6 1 1.1 1 .8 1 2.3 1-1.9 1 .6 1-6.6 1 4.9 1 1.1 1 3.6 1-3.3 1-1.6 1-3.3 1 .4 1-1 1 6.3 1 1.1 1-.4 1-.3 1 1.2 1-2.5 1-4.6 1 7.6 1-6.7 1 3.2 1-1.7 1 3.6 1 6.2 1-17 1 9 1 1.1 1-4.2 1 1.5 1-8.5 1 5.3 1 4.8 1-2.3 1 7.3 1-2 1-.8 1-5.5 1 3.7 1 5.8 1-9.7 1 6.5 1-4.7 1 1.3 1-6 1 11.5 1-3.6 1 .1 1-9.8 1 1.8 1 12.8 1-4.9 1-4.2 1-3 1 1.2 1 2.7 1-4.2 1 .4 1 1.3 1 6.3 1-6.8 1 2.4 1-1.4 1 2.3 1-6.2 1-1.8 1 8.6 1-1.1 1 2.3 1-2 1-1.2 1-5.2 1 3.8 1 .4 1 4.1 1-11.2 1 6.8 1-1.1 1 6.7 1-5.5 1-9.4 1 10 1-7.2 1 4.2 1 9.1 1-7.6 1 .5 1 2 1-2.3 1-.5 1-8.1 1 8.1 1-1.4 1 3 1-.8 1-7.7 1 4.4 1 3.1 1-3.1 1-2.1 1 3.5 1 1.1 1-3.6 1 4.3 1-2 1 2.6 1-.8 1-1.7 1-8.6 1 11.9 1-5.8 1 3.6 1-.3 1-4.5 1 7 1-11.9 1 .8 1-.7 1 7.3 1-3.5 1 2.4 1 3.6 1-8.3 1 3.3 1-1 1-5.8 1 11.3 1-4.1 1 1.1 1-7.3 1 9.2 1-2.2 1-6.4 1 4.9 1-3.2 1 4 1-7.4 1 2.6 1 7.3 1-7 1-6.8 1 19.2 1-10.8 1-2.3 1 1.2 1 1.8 1 7.2 1-6 1-1.8 1 3.3 1-4.6 1 6.7 1 4.5 1-9.9 1-1.4 1 2.3 1-.7 1-1 1-1.5 1 6 1-6.2 1-.1 1 10.3 1-10.6 1 1.9 1 1.1 1-3.3 1 5.5 1-1.8 1 3.7 1-7.5 1-4 1 4.4 1 3.9 1-6.5 1 .3 1 1.5 1-1.5 1 5.8 1 .3 1-4.3 1 1.1 1 4.8 1-8.4 1 10.6 1-6.8 1-7 1 5 1-2.3 1 5.1 1-3.6 1-.1 1 1.6 1-.9 1 0 1 11.8 1-6.7 1-3.7 1-2 1 6 1-4.1 1-3.5 1 4.7 1-7.7 1 5 1-8.7 1 7 1-7.2 1 5.4 1 .1 1-1.4 1-.9 1 11.6 1-18.2 1 11.3 1-.9 1-.4 1-.3 1 4 1-4.9 1 3.5 1-8.6 1 3.7 1-3.6 1 2.3 1-3.8 1 .2 1 5.9 1-1.7 1-4.8 1 8.5 1-6.7 1-1.5 1-1 1-7.7 1 10 1 6.9 1-8.7 1 4.4 1-4.2 1-2.5 1 8.9 1-1.7 1 2.9 1-8.5 1 5.7 1-2.1 1 .3 1 5.4 1-7.8 1-4.1 1-1.8 1 9.3 1-8.8 1 5.7 1-3 1-5.8 1 13.7 1-10.4 1 9 1-4.5 1-7.8 1 2.1 1 .7 1-4.1 1-.6 1 4.5 1-5.1 1-8.5 1 8.2 1 3.4 1-12.3 1 11.7 1-2.6 1 10.5 1 1 1-1.9 1-2.1 1-17.2 1 19.4 1-10.7 1 4 1 2.4 1-.1 1-5.1 1 0 1 18.6 1-17.9 1-10.3 1 15 1-16.4 1 14.8 1-1.8 1-16.6 1 9.8 1-8.2 1 4.4 1 5.4 1-1.5 1 3.5 1-10.6 1 5.6 1 2.9 1-28.7 1 10 1 9.3 1-4.1 1 6.2 1-8 1-3.3 1 8.9 1-10.7 1 5.3 1 14.3 1-18.6 1 7.2 1 9.9 1 5.1 1-17.9 1 1.7 1-14.2 1 18.7 1-8.5 1-4.5 1-4.5 1-2.8 1-2.3 1 16.7 1-8 1 3.1 1-12.3 1-1.6 1 .8 1 13.7 1-3.4 1 2.6 1-25.5 1 13.4 1-7.6 1-15.2 1 26.3 1-5.7 1 14 1 1.5 1-19.3 1 3.3 1 9.8 1-12.3 1 3.6 1-.7 1-7.1 1 1.3 1 3.4 1 7.7 1-19.1 1-2.5 1 .4 1-7.5 1 1.8 1 16.6 1-1.5 1-9 1-1.9 1 2.9 1 10 1-13.4 1 .5 1 2.2 1-14.6 1 21 1-14.7 1-6.3 1 16.6 1-13.3 1-5.6 1-.6 1 42.7 1-60.3 1 4 1 17.2 1 14.4 1-33.8 1 18.4 1 .8 1 1.8 1 7.9 1-20 1 31.6 1-28.7 1-4.4 1-6.6 1 12.4 1 1.8 1 3.6 1-19.1 1 18.5 1-9.8 1-6.8 1 9.9 1-12.4 1 11.6 1-9.7 1 14.8 1 14.7 1-20.7 1-13.7 1 15.6 1-25.9 1 13.5 1-.1 1 .5 1-8.5 1-5.7 1-1.9 1 12.8 1 14.6 1-10.6 1-3.3 1 17.1 1-23.8 1 19 1-29.3 1 29.7 1-11.5 1 11.7 1 13.2 1-2.9 1-24.9 1-7.5 1 11.3 1 7.7 1 8.8 1-12.6 1-10.4 1 2.3 1 20.9 1-8.2 1 18.8 1-18.5 1 .4 1 8.4 1-16.2 1 30.5 1-29.4 1 20.7 1 12.9 1-3.4 1-25.3 1 31.9 1-25.1 1-3 1 20 1 9.6 1-10.8 1 15.2 1-14.7 1-1.6 1 21.7 1-20.5 1 7.6 1-5.7 1 26.8 1 7.2 1-11.7 1-.2 1-1.7 1-.3 1-13.7 1 14.9 1-.6 1 6.5 1-7.8 1 7.2 1-8.9 1 32.9 1-35.1 1 19.7 1-1.9 1 .1 1 8.3 1-6.1 1-9.7 1 11.8 1-8.2 1 9.1 1-5.3 1 10.2 1-5 1 14.2 1-8.8 1-14.1 1 20.2 1-1.5 1 5.9 1-8.9 1-9.1 1 10.6 1 12.5 1-20.4 1 2.7 1 10.9 1 7.2 1 .9 1-9.6 1-.6 1-2.8 1-3.4 1 25.9 1-13.5 1 5.4 1-19.3 1 14.2 1 0 1-7.7 1 10.6 1 3.8 1-12.8 1 10.6 1 1.7 1-5.8 1-11.4 1 18.1 1-1.6 1 5 1 6.4 1-24.1 1 16.3 1-3.5 1-1.3 1 4.3 1 7.3 1 1.1 1-21.4 1 19 1-1.2 1 1.2 1 .9 1-2.8 1-7.9 1 4.5 1-.5 1 15.7 1-9.9 1-.2 1-1.2 1 6.7 1 2.9 1-.5 1-1.5 1-4.5 1 3.6 1 1.3 1-9.5 1-.9 1 10.8 1-8.2 1-1 1 14.6 1-8.9 1 8.8 1-10.5 1 14.1 1-9.2 1-5 1 1.9 1 9.4 1-6.1 1-2.5 1 7 1 .6 1-4.7 1 2.9 1 10.5 1-13.5 1-1.6 1 4.1 1-1.6 1 .6 1 1.2 1 .7 1-3.5 1-.8 1 15 1-15 1 5.9 1 .7 1 1.9 1 3 1-10.6 1 5.2 1-.7 1-3.4 1 6.6 1-3.8 1-7.8 1 9.9 1-3.4 1 10 1-5.6 1-7.7 1 2.3 1-.2 1 .5 1 7.9 1-6.9 1 4.2 1-5.1 1 5.1 1-3.3 1 5.3 1-5.3 1 1.4 1 6.4 1 2 1-7.2 1 .2 1-2.7 1 1.7 1 8.2 1-5.7 1 6.1 1-7.2 1 2.7 1-3.2 1 2 1 2.8 1-10.8 1 4.9 1 5.7 1 1.4 1-3.5 1-1.7 1 5.6 1-12.2 1 7.6 1 .4 1 3.8 1-7.2 1 .8 1 .4 1 4.1 1-1.6 1 1.4 1-9.4 1 8.8 1 1.5 1-6 1 8.4 1-7.8 1 9.7 1-7.9 1 2 1-4.7 1 2.4 1 4.1 1-3.6 1 4.5 1-8 1 8.2 1-6.3 1 6.8 1 4.5 1-5.6 1-5.5 1 3.1 1-1.8 1 4.7 1-4.5 1-.3 1 4 1-3.9 1 2.7 1-1.5 1 5.3 1-1.1 1 .3 1-2.1 1-4.4 1 7.7 1-2.8 1-.9 1-2 1 1.5 1 .9 1 3.2 1-5.2 1-2.6 1 8.1 1-5.1 1 .9 1-.8 1-2.6 1-6 1 7.4 1 3 1 1.3 1-10.5 1 8.3 1 4.4 1-4.5 1-1 1-5.4 1 13.2 1-6.1 1-1.8 1 3.5 1 3.9 1-8.1 1-.8 1 2.5 1-3 1 5.7 1 .9 1-6.6 1 .4 1 4.8 1 5.3 1-5.2 1-2.4 1 2.5 1-.9 1-3.2 1 .4 1-7.1 1 8.7 1 7 1-11.7 1 3.9 1 2.4 1 .6 1-.8 1-3.2 1-1.6 1 .6 1 8.6 1-10.3 1 5.7 1 .3 1-3.2 1 2.2 1-1.3 1-1 1 6.7 1-9.1 1-3.9 1 12 1 .7 1-2.6 1-.8 1-.7 1-4.9 1 5.6 1 2.3 1-1.7 1-3.7 1 2.9 1-1.4 1 5.7 1-7 1 1.9 1 1.3 1-2.5 1 5.7 1-5.3 1 1.9 1-6 1 7.8 1-1.5 1-7.1 1 10 1-4 1 .5 1-8 1 4.6 1 1.5 1 4.4 1-3.6 1-1.1 1 1.7 1-.3 1 1.4 1-1.5 1-4.9 1 5.3 1-2.7 1 3.4 1 1.9 1-1.2 1-.8 1 5.6 1-7.5 1 .5 1 4.2 1-5.9 1 7.1 1-6 1-.7 1-4.4 1 3.9 1 1 1-6.4 1 11.1 1-3.9 1-2.8 1 3.7 1 .5 1-2.2 1 1.1 1-.9 1-1.1 1 2.9 1-3.1 1 6.6 1-7.6 1 5.5 1 .3 1-2 1 7.3 1-7.4 1 0 1 1.7 1-5.3 1 7.1 1-3.6 1 3.5 1-6.2 1 .4 1 1.3 1 5.8 1-9.7 1 3.9 1 .8 1 .2 1-1 1-5.1 1 7.9 1-2.7 1 6.2 1-2.7 1 .5 1 8.3 1-11.8 1-1.1 1-1.6 1-.7 1 2.4 1-2.8 1 1.4 1 3.3 1-6.4 1 10 1-6 1 12.8 1-11.5 1-2.6 1-2.5 1 6.7 1 6 1-10.6 1 6.3 1-.1 1-2.9 1 10.9 1-12.2 1 3.8 1-1 1 1.1 1 .5 1-1 1-4 1 0 1-1 1-6.7 1 16.5 1-6.8 1-2.3 1 1.5 1 .8 1-1.6 1 2.3 1-7.8 1 1.5 1 8.7 1-.9 1-2.4 1 .9 1 1.3 1-1.4 1 2 1-1 1-2.3 1 2.3 1 .8 1-5.9 1-4.2 1 3.4 1 6.2 1-8.8 1 6.9 1-3.9 1 7 1-3.9 1-4 1 1.4 1 2.9 1-1.8 1 3.5 1-3.2 1-3.8 1-2 1 9.3 1-6.7 1 1.5 1 2.5 1 3.5 1-5.5 1 8.8 1-4.2 1-5.2 1 2.4 1 2.4 1-1.5 1 5.4 1-.8 1-5.3 1-.4 1-3.8 1 2.6 1-.9 1 2.4 1 2.4 1 1.4 1-6.9 1 6.9 1-.9 1-1.6 1 1.8 1-2.4 1-.8 1-.5 1-1.7 1 8.4 1-9.3 1-2.5 1-.5 1 6.4 1-6.4 1 5.6 1-7 1 6 1-.5 1-5.7 1 9.8 1-1.2 1-1.5 1 9.5 1-10.8 1 4.3 1 3 1-7.5 1-1.8 1 7.6 1-3.3 1-5.1 1 .3 1-2.2 1 10.2 1-8.1 1 6.3 1-7.4 1 2.7 1 .9 1-3.7 1 4.7 1-4.3 1 9.1 1 .7 1-6.3 1-4.9 1 5.5 1-.4 1-3.7 1 3.6 1 4.9 1 1.4 1-13.2 1 9.6 1-4.4 1-2.6 1 2.9 1-10.7 1 12.9 1 3.8 1 7 1-11.9 1 .8 1-10.7 1 10.4 1-1 1-6.8 1 6.3 1-6.6 1 13.5 1-10 1-4.8 1 6.7 1 .7 1-3.5 1 10.1 1-8.5 1-2.2 1 3.5 1 1.3 1-7.7 1 6.7 1 6.3 1-22 1 10.1 1 1.7 1 8.2 1-4.1 1-.2 1 2.5 1-8.9 1 4.8 1-8 1 7.7 1-5.7 1-8.9 1 12.4 1 4.5 1-3.9 1-7 1 13.2 1-5.9 1-10.1 1 8.7 1-5.7 1-3.2 1 3.2 1 .4 1-4.1 1 11.2 1-9.5 1 15.9 1-8.6 1-7.7 1 2.8 1-2.7 1-5.6 1 6.1 1 .2 1 5.9 1-9.5 1-2.1 1 13.7 1-4.2 1-3 1 2.1 1-2.5 1 2.7 1-3.1 1-3.4 1-.2 1 2.8 1-3 1 13 1-8.7 1-16.2 1 12.6 1 1.3 1-7.3 1 2.1 1-3.6 1 8.3 1-3.8 1-2.8 1-14.8 1 9.4 1 13.7 1-26.3 1 16.8 1 1.8 1-.7 1 11.1 1-6.4 1-.8 1-3.6 1 7.8 1-11.7 1 3.1 1 .2 1-3.8 1 .3 1-1 1 7 1-3.4 1 2.7 1 3.4 1-8.2 1 3.4 1-11 1 13 1-14.2 1 7.6 1 12.1 1 .2 1-13.9 1 3.2 1 3.9 1-9 1-5.7 1 5.2 1-9.4 1 9.8 1-4.1 1 7.6 1-.8 1-3.1 1 3.7 1-7.5 1 15.3 1-8 1-3 1-.6 1 11 1 1.2 1-3.1 1-7.8 1-2.2 1 18.5 1-25.7 1-7.4 1 15.5 1 9.5 1-5 1-14.5 1 11.6 1 11.3 1-3.6 1-8.3 1 11.6 1 .1 1-18.9 1 12.8 1-3.2 1-2.4 1-5.2 1 6.3 1 1.8 1 2.1 1-12.2 1 12.5 1 1.2 1 13.5 1-12.3 1 5.8 1-6.1 1-16.7 1 25 1-11.7 1 1.9 1-.4 1 2.5 1-.1 1 2 1-3.5 1 4.1 1-8.1 1 10 1-9.5 1 9.5 1 1.5 1 1.8 1 7.9 1-10.1 1-1.2 1 5.2 1-5.3 1-3.9 1-2.1 1 9.4 1-1.8 1 3.1 1-.8 1-3.7 1-1.2 1 10.1 1-2.8 1 9 1-21.3 1 5.9 1 6.2 1 2.8 1-10.2 1 12.7 1-4 1-12.4 1 9.6 1 2.6 1 0 1-1.6 1 1.5 1 4.3 1-6.8 1 6.6 1-5 1-.7 1 7.7 1-.1 1-2.3 1-1.4 1-1.4 1 12 1-5.7 1 1.1 1 2.4 1-8.8 1 .8 1 5.4 1 .6 1 3.6 1-12.2 1 14.2 1-8.9 1 6.6 1-7.1 1-2.3 1 11.2 1-12.5 1 8.1 1-8.5 1 6.9 1-.4 1 .2 1 1.2 1 2.3 1-5.4 1 3 1 1.3 1-3.8 1 2.2 1 3.1 1-.9 1-7.2 1 10.1 1 3.7 1-9.3 1-.5 1 6.2 1-7.3 1 11.4 1-6.2 1-4.2 1 2.1 1 6.3 1-3.2 1-2.5 1 1.1 1 6 1-12.8 1 6.5 1-.1 1-2 1 .1 1 4.6 1 2.9 1-2.2 1 2 1-3.2 1 1 1-2.5 1 .9 1-5.7 1 8.7 1 7.9 1-8 1-.7 1-2 1 3.3 1 1.8 1 .7 1-11.8 1 3.2 1 8.5 1-12.5 1 9.2 1-.8 1-1.1 1-1.5 1 1.3 1 4.3 1-5.6 1-2.3 1 5 1 2.6 1-.3 1 .8 1-2.2 1 1 1-3.9 1 7.3 1-5 1-4.9 1 8.1 1 .6 1 .2 1-7.7 1 3.1 1 2 1 1.1 1-1 1-.2 1-1.4 1-1 1-1.1 1 3.1 1 4.2 1 2 1-5.6 1 1.3 1-2.1 1 3.5 1-.9 1-2.8 1 .3 1 4 1-2.3 1 2.7 1-1.5 1-3.4 1 4.4 1-3.5 1-1.9 1-2.3 1 3.6 1 .5 1 4.1 1-3.8 1-3.4 1 5.1 1-6.4 1 6.3 1-2.5 1 10.9 1-10.5 1 1 1 .8 1-2.5 1 4.6 1 .4 1-1.8 1-.1 1 1.3 1-2.4 1 3.7 1 2.3 1-6.6 1 1.1 1 4 1-8.6 1 6.6 1-3.4 1-.3 1 7.7 1-5.2 1-3.6 1 5.5 1-.8 1 3.4 1-2.9 1 .8 1-8.8 1 7.8 1-2.2 1 3.9 1 1.2 1-.2 1-.8 1-4.8 1 6.1 1 .1 1-2 1 1 1 1 1-2.8 1-1.5 1 6.6 1-2.2 1-.8 1-4.5 1 2.6 1-4.1 1 4.2 1 1.7 1-2.4 1 .2 1 5.2 1-1.7 1 .2 1-5.8 1 4.9 1 2.2 1-3.8 1 1 1-.7 1 6.4 1-8.3 1 .4 1 4.7 1-3.9 1-.9 1 3.5 1-4.2 1 .8 1 5.9 1-7.5 1 6.7 1-3.7 1 1.2 1-.2 1 1 1-.8 1-1.6 1-.8 1 3.8 1 1 1-.2 1-2.1 1 1.3 1-4.4 1 1.9 1 1.1 1 .4 1-2.6 1 0 1 .5 1 4.5 1-5.4 1 4.6 1-5.8 1 4.9 1-1.1 1 1.2 1 0 1 1.8 1 .2 1-2.8 1 .3 1-6.5 1 4.4 1 1.2 1 5.9 1-5.8 1 1.6 1-2.6 1-2.7 1-5.1 1 9.7 1-3.5 1-.5 1 6.4 1-1.7 1-.6 1 .4 1-2.3 1 2.8 1-2 1 2.4 1 3.4 1-6.2 1 .3 1 3.6 1-4.7 1 1.2 1 .7 1 1.2 1-2.9 1 2 1 1.1 1-3.3 1 4.7 1-5.6 1 1.9 1 2.8 1-1.1 1-2.4 1 3.3 1-.3 1-1.3 1 0 1-2.2 1 4.3 1-.4 1-2 1-3.7 1 5.7 1-4.2 1 3.1 1-2.4 1-.8 1-2.9 1 7.3 1-1.8 1-2.6 1 4.2 1-2.2 1 1.2 1-6.8 1 6.6 1 1.8 1-4.1 1-1.6 1 3.3 1 .2 1 0 1 0 1-1.4 1-2.6 1 4.1 1 3.5 1-3.7 1 3 1-2.4 1-1.6 1 2.8 1-1.7 1-.9 1 2.3 1 .4 1-6.7 1 6.1 1-1 1 .2 1-2.2 1 3.5 1 1.6 1-4.8 1 3.9 1-4.1 1-2.4 1 4.8 1 1.3 1 .3 1-3.3 1 1.1 1 1.8 1-1.7 1 2 1-3.8 1 2.1 1-1.6 1 4 1-3.7 1 .6 1-2.3 1 1.3 1 1.3 1 .8 1-1.3 1 2.9 1-6.5 1 1.8 1 3.3 1-.5 1-.9 1 .3 1 1.2 1-1.7 1 2.9 1-1.4 1-.3 1-1.8 1-1.3 1 3.3 1-1.2 1 1.5 1-2.6 1 4.3 1 1.7 1-4.2 1-2.1 1 .3 1 2.7 1 .9 1-.8 1-2.4 1 .7 1 2.4 1-.9 1-2.6 1 2.1 1-1.2 1 2.7 1-2.3 1 .1 1 .1 1 .4 1 2.6 1-4.7 1 5.8 1-2.2 1-.2 1 1.8 1-1 1-1.1 1 2.2 1 1.1 1-1.4 1-2.9 1 .3 1 1.1 1-2.7 1 2.1 1-.2 1 1.2 1-.4 1-2.3 1 .4 1 5.1 1-3.4 1-2.6 1-1 1 4.6 1-2.2 1 1.1 1 1.8 1-.7 1-.4 1 1.5 1-1.5 1-1.4 1 5.4 1-3.1 1-4.8 1 2.8 1 2.2 1-1.4 1-.5 1 3.7 1 0 1-4.9 1 .4 1 2.6 1-1.3 1-1.6 1-.5 1 1.6 1-4.9 1 3.6 1-.8 1 .4 1 2.7 1-1.1 1 3.7 1-3.9 1 .6 1 1.2 1 .9 1-4.6 1 2.2 1 1.9 1-.2 1 3.2 1-1.3 1-3.4 1 1.3 1-3.6 1 4 1-1 1 .8 1-1.5 1 4.3 1-12.2 1 8.8 1-1.5 1 1.3 1-7.7 1 10.4 1-2.7 1-.6 1 .3 1 1.8 1 .7 1-2.5 1-.1 1-2.7 1 4.7 1-4.4 1 3 1-1.1 1 .3 1-1.2 1-.7 1 .7 1-2.3 1 .7 1-.9 1 5 1-1.2 1-.1 1 1.3 1-3.5 1 3.2 1-2.9 1 .7 1 3.8 1-2.2 1 3 1-1.8 1-4.2 1 5.4 1-2.7 1-1.8 1 1.8 1-2.7 1 3.2 1-1.2 1 .9 1-3.3 1 3.8 1-2.2 1 .3 1 2.7 1-3 1 1.2 1-.8 1 3 1-2 1-1.3 1 7.6 1-6.9 1 .8 1-.4 1-1.3 1 3.9 1-4.8 1-1.7 1 .3 1 4.8 1 .3 1 3.4 1-3.5 1 .9 1-1.1 1-3 1 2.8 1 1.3 1-3.4 1 5.1 1 .4 1-11 1 5.7 1 .8 1 .4 1-1.1 1 1.7 1 1.5 1-.5 1-2.5 1 1.5 1 3.3 1-3.4 1 0 1 1 1-3.6 1 3.2 1 1.7 1-6.6 1 5.1 1-1.5 1 .6 1-4 1 3.3 1 .8 1-4.6 1 1.2 1 2.4 1 0 1-2.5 1 1.9 1 5.7 1-7.9 1 2.6 1-1.7 1 2.5 1-.2 1 2.2 1-2.6 1-2.5 1 2.8 1-1.8 1 1.3 1 2.1 1-1.3 1 3.6 1-4.5 1 1.4 1-.6 1-4.8 1 5.8 1-3.5 1 1 1 1.6 1-1.9 1 4.3 1-4.1 1-1.2 1 2.8 1-1.2 1 1.6 1 .9 1-7.1 1 5.1 1 3.6 1-3.2 1-2.6 1 2.4 1-.8 1-.4 1 1.8 1 3.6 1-6.7 1 1.2 1-.5 1-.8 1 4.8 1-1.2 1-2.4 1-.7 1 2.8 1 .7 1-3.7 1 1.5 1 2.6 1-.5 1-5 1 3.6 1-1.5 1 1.1 1 3.6 1 .3 1-5.2 1 .9 1 1.6 1 .4 1-3.3 1-2.4 1 2.6 1 2 1-4.2 1 2.4 1 2 1 1.7 1-8 1 4.8 1 1.7 1-.1 1 .8 1-1.1 1 3.8 1-4.4 1 .9 1-1.6 1-1.7 1 3.2 1 .2 1 .9 1 .8 1-3.1 1-.6 1-1.4 1 2.5 1-.4 1-1.9 1 1.5 1 .2 1 .6 1 2.9 1-2.6 1 2.1 1-3.7 1-.9 1 3.9 1 2.9 1-1.2 1-1.7 1 2.3 1-3.1 1 2.2 1-.5 1-2.8 1-.8 1 .6 1 2.1 1-2 1 .1 1 0 1-2.1 1 3.7 1-2.4 1 .8 1 .2 1-.2 1 3.3 1-1.6 1-1.3 1-2.7 1 7 1-4.1 1-1.8 1 4.7 1-2.9 1-.7 1 1.3 1-1.8 1 .2 1-.1 1 2.5 1-.2 1-.5 1 1.4 1-.4 1-.8 1 3.1 1-2.6 1 .6 1-5.3 1-2 1 3.1 1 4.8 1-3.7 1 .8 1 .1 1-.1 1-1.4 1-.7 1 3.9 1-1.9 1-.7 1 .5 1 1 1 .8 1-.7 1-3.5 1 1.4 1-.3 1-2.5 1 3.4 1 2.5 1-2.4 1 2.1 1-1.3 1-.5 1-5.6 1 6.5 1-3.1 1 8.3 1-.3 1-3.9 1 .3 1-4 1 2.3 1 .9 1 2.1 1-4 1-3 1-.2 1 1.4 1 .1 1 1.1 1 3.7 1-3 1-.8 1 3.8 1-2.9 1-.7 1-4.3 1 5.1 1-2.7 1-.2 1 6.2 1-8.5 1 7.9 1-1.3 1 4.2 1-2.4 1-4.6 1-.9 1 3.4 1 .1 1 2.2 1-3.3 1 1.2 1-1.6 1-.1 1-1.3 1 3.2 1-2.7 1 .9 1 2.5 1-1.7 1-1.3 1-2 1-2.1 1 1.1 1 3.4 1 3.6 1-1.1 1-1.2 1 1.8 1-.1 1-4.2 1-.7 1 1.5 1 .6 1-2 1 1.1 1 6.9 1-3.8 1 1.9 1-1.1 1-2.6 1-1.1 1-.8 1 4.6 1 1.3 1-3.7 1 .1 1-1.3 1 .7 1 3 1 .1 1-4 1 .9 1-.4 1 4.1 1-5.3 1 3.8 1-6.1 1 4.4 1 .6 1 .8 1-1.4 1 2.5 1-3.2 1 2.6 1 .2 1-1.7 1-4.1 1 2.7 1 3.2 1-3.5 1 .5 1 4.6 1-5.2 1 4.7 1-2.3 1-2 1-.5 1-1.9 1 8.8 1-5.5 1 .8 1-4.3 1 3.5 1 .1 1-1.3 1 .8 1 .8 1 2.3 1-3 1-.4 1 2.4 1-4.9 1 6.4 1-2.4 1-2.7 1 2.7 1-4.7 1 3.1 1 .5 1-.7 1 2.4 1 2.6 1-5.2 1 1.4 1 3.1 1 1.3 1-3.5 1-.2 1-1.3 1-1.4 1-.4 1 .5 1 4.5 1-1.5 1 .9 1 .8 1-.9 1-1.8 1 1.3 1-3 1 3.7 1-6.7 1 3.1 1-1 1 1.4 1 3.7 1-5.7 1 1.9 1 3.9 1-3.6 1 .6 1 1.5 1-.1 1 .8 1-1.2 1 .1 1-1.3 1 1 1 .2 1-2.7 1 1.2 1-4.5 1 7.6 1 .2 1-3.1 1-2 1 3.7 1-.5 1-.3 1-4.9 1 5.4 1 2.1 1 1 1-4.1 1 1.1 1-3.2 1 1 1 1.8 1 1 1-2.7 1 1.4 1-1.4 1 2.7 1 .2 1 .1 1-6.2 1-.8 1 3.2 1-.2 1 .2 1 .7 1-1.9 1 3.6 1-2 1 2.1 1 .9 1-.8 1-2.2 1-3.6 1 6.8 1-1.3 1-2.4 1 .9 1-1.8 1 4 1-4.7 1 4.9 1-7.2 1 8 1-3.8 1 3.8 1 .9 1-6.1 1 4.7 1-3.3 1-2.6 1 4 1 1.5 1-4.4 1 5.3 1-.5 1-1.3 1-1.5 1-1.6 1 .8 1 .9 1 3.3 1-1.8 1-4.3 1 8 1-5.8 1 .5 1-2 1 1.3 1 1 1-.7 1-.5 1-1.4 1 3.5 1 1.5 1-2.6 1 1.8 1-2.7 1-1.8 1 4.5 1-.7 1-1.2 1-2.8 1 4.1 1-3.6 1-.5 1 6.9 1-7.1 1-3.7 1 6.2 1-4.4 1 4.9 1-2.5 1 .1 1 2.2 1-3.5 1 5.9 1-3.2 1 1.2 1-1.1 1 .3 1-2.4 1 1.1 1 2 1 1.2 1-.4 1 .8 1-1.9 1-3.6 1 2 1 2.3 1 0 1-.1 1 .4 1-2.2 1 2.6 1-3.1 1 .4 1-.6 1 2 1-1.8 1 9.2 1-5.8 1-1.1 1 1.3 1-2 1 .6 1 1.2 1-.7 1-1.4 1 .8 1 .3 1 .4 1-1.5 1-.5 1 .1 1 3.4 1-.6 1-3.7 1 .8 1 .8 1-2.2 1 3.5 1-1.1 1-1.3 1 .7 1 1.4 1-5 1 6.8 1-3.5 1 2.6 1-2.1 1 .7 1 1.5 1-5.8 1 2.6 1 1 1 4.6 1-5 1 0 1 1.5 1-2.9 1 1.1 1-.7 1-.2 1 3 1-1.9 1-2.5 1-1 1 3.3 1-3 1 5.9 1 1.2 1-1.9 1-1 1-3.4 1 1.3 1 1.4 1 2.5 1-2.9 1-1.8 1 3.9 1-1.8 1 1.7 1 3.1 1-4.5 1-2.8 1 1.9 1-1.1 1-5.4 1 6.6 1 1.8 1-1.4 1 .8 1-1.8 1-2.2 1-.4 1 6.9 1-2.6 1-1.3 1 2.7 1-3.1 1 1 1-2 1 0 1 3.8 1-4.4 1 1.2 1 1.2 1 .1 1 1.7 1-2.1 1-1.5 1 2 1 0 1 1.9 1-.9 1-1.1 1 4.3 1-3.5 1 1.6 1-3.4 1 1.7 1 .3 1-.2 1 .4 1-2.1 1-.4 1-1.9 1 5.1 1-2.5 1-.2 1-.8 1-.8 1 3 1-.2 1 0 1-.5 1 1.8 1-2.8 1-.6 1 3 1-2.8 1 4.3 1-3.1 1 1 1-1.5 1 1.4 1 2 1-3.2 1 .9 1-2.7 1 2.3 1 .8 1 2.3 1-5.7 1 5.7 1-3.4 1-.3 1 .1 1 2.7 1-4.8 1 4.5 1-2.9 1-2.5 1 1.3 1 4.8 1-1.6 1-3.8 1 5 1 1.9 1-2.2 1-1.1 1-2 1 6.7 1-4.9 1 0 1-.4 1-1.9 1 5.6 1-3.1 1-4.3 1 2.3 1 4.1 1-.8 1-1.4 1 3.1 1-5.9 1 5.4 1-1.2 1-3.6 1 .4 1 3.1 1-2.6 1 .5 1-1.7 1-3 1 5.1 1 3.7 1-3.5 1-3.6 1 4.3 1 .1 1 1.6 1-7.4 1 7 1-2.1 1 1.7 1-.7 1-3.7 1 2.5 1 2 1 .4 1 3.4 1-7.9 1 .4 1-.9 1-.5 1 6 1-5.4 1 6.1 1-2.9 1 0 1-1.3 1 2.3 1 .3 1-3.6 1 2 1 0 1 2.2 1 .3 1-5.7 1 4.7 1-2 1 1.2 1-3.1 1 5.1 1-2.6 1-.3 1 3.7 1-.8 1-2.4 1-3 1 1.5 1-1.5 1 1.3 1 5 1-2.2 1 1.9 1-5.6 1 4 1-2.6 1 .1 1 2.1 1 .5 1-2.3 1 1.2 1-.8 1 1.6 1-2.3 1 4 1-3.9 1-1.6 1 5.9 1 .7 1-5.4 1 5.3 1-2.9 1-.5 1 1.3 1-2 1 2.2 1-2.4 1-8.3 1 8.1 1 .3 1 .9 1-2.8 1 1.4 1 2.2 1-1.1 1 2.3 1-3.4 1 4.9 1-3.5 1-.3 1-.8 1 2.8 1-2.4 1 5.4 1-3.9 1 5.9 1-2.8 1-2.8 1 1.8 1-2.4 1 1 1 0 1 .1 1-.4 1 .2 1-1.2 1 6 1-7.7 1 4 1 .8 1-3.7 1 1.8 1 .5 1-5.2 1 4.1 1 2.3 1-3.6 1 .1 1 1.2 1 4.3 1-3.5 1-.3 1-.3 1 1.6 1-2.2 1-1.2 1-.9 1 2.8 1 2.8 1-5.9 1 1.9 1 2.5 1-5.1 1 7 1-4.9 1-.3 1 2.2 1-2.6 1 .7 1 1.9 1-3.3 1 .3 1 1.5 1-.4 1 1.1 1 .6 1 3.7 1-5.3 1 3.6 1 2 1-4 1-1.2 1 1.7 1-2 1 .9 1 2.4 1-2 1-.4 1-1.3 1-.6 1 1.4 1 3 1-2.9 1 2.3 1-.9 1 .3 1 .2 1 .6 1-6.5 1 5.1 1-2 1 .9 1 6 1-7.9 1 5.5 1-.5 1-1.5 1 2.5 1-1.2 1-5.7 1 1.3 1 2.6 1-3.7 1 3.6 1-3.3 1 1.2 1 5.6 1-8.7 1 8.6 1-1.6 1 .9 1-.9 1-1.6 1-5.4 1 2.7 1 2.9 1 1.4 1-1.5 1 .1 1 0 1-.9 1 2.2 1-7.8 1 4.8 1-.7 1 1.6 1-2.3 1-.2 1-.7 1 4.1 1 .5 1 .5 1-5.9 1 5.5 1-6.5 1 4.1 1 1.4 1 1.7 1-4.8 1 5 1-2.2 1 2.5 1-3.7 1 1.2 1 1.9 1-2.1 1-1.3 1 .6 1 1.8 1 .3 1-1.5 1 2.2 1-1.4 1 .8 1-1.4 1-.8 1 7.4 1-4.9 1-4 1 3.1 1 1.4 1 1.5 1-1.1 1-1.6 1-.3 1 1.5 1-.9 1-1.8 1 .5 1-.5 1 1 1-.2 1-.4 1 .7 1-3.2 1 1.2 1 4 1-1 1-1.9 1 1 1 4.7 1-7.3 1 2.4 1 2 1-1.8 1-1.1 1 0 1 1.9 1-1.1 1-1 1 .8 1 .6 1-4.2 1 2.5 1 3 1-1.3 1-2.7 1-.2 1 .7 1-.7 1 2.2 1 1.7 1 .3 1-.7 1-4.7 1 2.8 1 2.7 1 .3 1-1.4 1 2.6 1-1.2 1-7.1 1-2.3 1 6.3 1-.8 1 3.7 1-4.9 1-2.2 1 10.7 1-3.9 1 .8 1-1.3 1-2.7 1 .9 1 3.1 1-1.6 1 1.6 1-1 1 1.5 1-3.2 1 1.5 1-2.2 1 .9 1-3.5 1 6 1-2.1 1-1.2 1 1.2 1-1.4 1 1.1 1 1.6 1-3 1 .7 1-2.8 1 3.9 1-1.4 1 .2 1-1.4 1-.4 1-1 1 2.7 1 1.5 1-3.4 1 5.7 1-5.7 1 3.1 1 2.3 1-4.2 1-2.4 1 .4 1 3.7 1-.3 1-.6 1-1.2 1 1 1 5.3 1-1.7 1-5 1-.6 1 3.7 1-2 1 2 1 4.9 1-2.6 1-3 1 1.2 1-2 1-.1 1 4.3 1-1 1-3.3 1 2.4 1-1.7 1 1.6 1-3.5 1 4.4 1-3.2 1 1.8 1-2.8 1 0 1 .1 1-1.3 1 .5 1 1.6 1 2.4 1-.3 1-4.5 1 2.1 1 4.2 1-2.8 1-1.7 1 .9 1 .3 1-1.4 1 2.8 1-.8 1-.1 1-1 1-2.8 1 8 1-4.4 1-2 1 2.8 1 1.7 1-4 1 2.8 1-.4 1-.5 1-2.7 1 4 1-1.9 1 .5 1 .8 1-1 1-2.1 1 3.6 1-.6 1-1.5 1-.6 1 0 1-3.2 1 2.8 1 6 1-.3 1-6.8 1 2.5 1 3.4 1-5.2 1 1 1-.7 1 2.7 1-1.8 1 1.1 1-1.9 1 3 1-1.4 1 .1 1 3.9 1-3.3 1 1.2 1-1 1-4.9 1 2.6 1 1.7 1 2.8 1-4.6 1 2.8 1-2.5 1 3.4 1-.7 1 .3 1-2.6 1 3 1-.7 1-2 1 3.2 1-.7 1-3.7 1 2.7 1-2.3 1 1 1-.5 1-.1 1-1 1 2 1-1.9 1 .9 1-1.9 1-2 1 3.7 1 4.6 1-5 1-.2 1 4.7 1-.5 1-3.2 1 3.7 1-3.3 1 3.9 1-6.7 1 1.3 1 .2 1 1.5 1-.4 1 3.4 1-1.8 1 0 1-1.4 1 .2 1-1.8 1 1.2 1-.3 1 1.3 1 .7 1-2.6 1 2.9 1-6 1 7 1-6.4 1 3.9 1-2.6 1 3.9 1-3.3 1 2.7 1 .3 1-1.9 1 .8 1 1.4 1 5.2 1-3.3 1-2 1-2.1 1 4.3 1-2.3 1-1.1 1-5.6 1 2.3 1 3 1 .4 1-.6 1 3.1 1 .1 1-3 1-2.1 1 5.8 1-5.4 1-1 1 3.7 1-1.2 1 4 1-5.2 1 2.1 1-5 1 3.8 1-.8 1 4.9 1-.2 1-2 1 .8 1-3 1 3.2 1-3.4 1 3.5 1-4.9 1 3 1-2.9 1 3.3 1-1.9 1 2.5 1-3.1 1-2.6 1 3.1 1 .4 1-1.3 1 3 1-.2 1 1.1 1-1.4 1-1.4 1 .8 1-1.5 1-1 1-.3 1 1.1 1 2.2 1-3.6 1 .1 1 1.3 1 1.5 1 1.8 1-4.4 1-.6 1-.9 1 2.1 1-.3 1-1.2 1 2.9 1-.9 1 2.8 1 .5 1-5.8 1 2.3 1 1.2 1-.5 1-6.8 1 5.5 1-1.7 1 2.8 1 0 1 5 1-5.1 1-.2 1 2.5 1-4.8 1 3.5 1-1.4 1-5.4 1 5.2 1 2.5 1-.9 1-2.4 1 1.5 1 .9 1-.9 1-5.3 1 3.1 1 4.5 1-.6 1-1.1 1-1 1-3.6 1 3.4 1-2.7 1 4.9 1-5.5 1 4.7 1-.4 1-1.6 1 .6 1-3.2 1 1.5 1-1.3 1 3.5 1-1 1 .2 1 .1 1-4.4 1 3.6 1-2.9 1 3.7 1-5.2 1 4.4 1-.4 1 3.8 1-2.5 1 1.7 1-3 1-1.1 1 .4 1 7.2 1-6.2 1 3.1 1-3.2 1 .6 1-.5 1 3.4 1-1.9 1-1 1-3.4 1 1.5 1 1.3 1 .9 1 1.2 1-2.4 1 4.5 1-6.1 1 6.5 1 2.7 1-10.3 1 3.2 1 2.9 1-.5 1 2.6 1-.3 1-3.7 1-4.4 1 4.5 1-1 1-.3 1 2 1-4.7 1 5 1-.1 1-1.7 1 1.5 1-4.3 1 .6 1 2.6 1-.7 1-3.2 1 3.5 1-1.5 1-2 1 8 1-5.2 1-1.1 1-5.2 1 8 1-1.3 1-5 1 3.9 1 4 1-1.5 1-1 1 3.1 1 2.9 1-8.5 1 9.1 1-6 1 1.5 1-3.4 1-.3 1 5.2 1-8.7 1 1.9 1-1.4 1 4.5 1-3.9 1 2.4 1 5.6 1-.8 1-.1 1-4.8 1 1 1-1.4 1-5.8 1 6.7 1 7.7 1-4.1 1-1.5 1-5.1 1 3.9 1 1.9 1-4.1 1-.7 1 3.7 1-2.6 1 3.7 1-3.9 1 3.2 1-3 1-1.8 1 2.7 1-3 1 4.5 1 4.8 1-5.7 1 3.4 1 2.9 1-7.7 1 .4 1 5.9 1-3.8 1-4.2 1-1.4 1 6.6 1-3.5 1-1.1 1 3.2 1-1.7 1-1.4 1 1.3 1-2.2 1-5.1 1 10.3 1-3.9 1 1 1-.3 1-6.2 1 8.7 1-2.6 1 3.3 1 .1 1-.7 1-3.7 1-1.3 1 7.3 1 2.3 1-6.1 1-.6 1-.3 1-4.8 1 4.5 1 .7 1 5.5 1-2.1 1-5 1 .7 1 1.8 1 .5 1 0 1 .4 1-1.9 1-1.9 1 2.7 1-1.7 1-1 1 3.2 1-2.8 1 3.8 1-3.4 1-1.8 1 .1 1 4.4 1-5.4 1 4.3 1-.9 1-1.8 1-.4 1 5.9 1-4.6 1 2.1 1-3.2 1 1 1-1.7 1 2 1 1.7 1-1.8 1-2 1 .6 1 1.1 1 4 1-4.7 1-1.8 1 6.9 1-1 1-1.4 1-4.7 1 4.7 1 2.4 1-1.6 1 .6 1-4 1 .3 1 5.3 1-4.7 1 .6 1-3.5 1 4.4 1-5.4 1 4.2 1-.6 1 .8 1 1.4 1-6.6 1 .1 1 3.6 1-.6 1 .4 1-4.3 1 2.5 1-1.5 1 .8 1 4.4 1 1.7 1-3.1 1-2.6 1 .9 1 .6 1-4.5 1 7.2 1-6.8 1 1.3 1 2.4 1 .6 1 1 1 1 1-5.2 1 2.1 1 13.3 1-13.3 1-3.4 1 1.6 1 3.3 1-3.1 1-.7 1-3.4 1 6.2 1 3.9 1-2 1-2.3 1-3.3 1 7.4 1-5 1 0 1-.5 1 .2 1-.9 1 .5 1 0 1 6.3 1-3.3 1 1.4 1-2.2 1-3.7 1 4.4 1-2.8 1 0 1-2.4 1 5.7 1-5.8 1 4.3 1 4.1 1-4.7 1-3.8 1 4.9 1-.4 1-1.1 1-.1 1 0 1 .5 1 10.7 1-14.6 1 .5 1 6.6 1-2.7 1 1.6 1-9 1 9 1-2.7 1-4.6 1 7.9 1-1.1 1 1.6 1-5.9 1-1.8 1 5.1 1-1.6 1 7 1-8.5 1-.9 1 6.6 1-5.9 1 4.5 1 .2 1-.8 1 .6 1-2 1 5.9 1-5.7 1 1.7 1-5.3 1 4.9 1-7.8 1 6.9 1-2.7 1-.7 1 0 1-1.3 1 1.8 1 4.2 1-2.6 1 4.6 1-8.3 1 5 1-3.1 1-2.3 1 10 1-3.9 1-9.1 1 7.2 1-2.8 1-.1 1-5.8 1 7.3 1 2 1-3 1 2.3 1-2.7 1 5.6 1-6.4 1-6.7 1 12.4 1-1.3 1-4.7 1 0 1-.5 1 3.7 1-3.9 1 2.8 1 .5 1-1.8 1 8.9 1-10.5 1 .9 1 .2 1-4 1 6.9 1-11.5 1 14 1-16 1 6.2 1 14.8 1-10.8 1-13.3 1 14.4 1-6.3 1 1.6 1 .8 1 6 1-9.4 1 4.6 1-1.5 1-1.7 1 0 1-.2 1-1.7 1 5.4 1-1.9 1-.6 1-7.7 1 8.9 1-.6 1-1.9 1 3.7 1-6.1 1 6.2 1-5.5 1-3.8 1-2 1 5 1 6 1-5.5 1 6.5 1 1.5 1-10.2 1 .4 1 1.1 1 4.7 1-2.5 1-4.5 1-1.7 1-7.9 1 16.1 1-2.5 1 4.1 1-.5 1 3.3 1-9.4 1 4.5 1-9.1 1-1.5 1-.3 1 5.5 1 5 1-7.1 1 6.8 1-2.1 1-3.4 1 5.4 1 .9 1-.1 1-9.2 1 3.3 1 5 1-5.7 1 6.6 1-3.7 1-3 1 .9 1 1.3 1-4.5 1-2.9 1 4.9 1-6.5 1 7.3 1-1.3 1 1.8 1-2.6 1 6 1-3.5 1-6.4 1 3.6 1-4.6 1 3.8 1-1.3 1-2.6 1 1.2 1-3.2 1-1.3 1 4.8 1 6.8 1-11.7 1 9.6 1-2.3 1-19.9 1 11.8 1 3.4 1-4.4 1 .7 1-1.1 1 7.1 1-14.8 1 13.3 1-13.2 1 7.8 1-3.9 1 17.2 1-9.1 1-2.7 1 7.5 1-10.3 1 1.6 1-7.9 1-1.3 1 2.3 1 2.1 1 3.5 1 1 1 1.3 1-2.6 1 7.2 1-8 1 3.2 1-3.1 1 7.9 1-5.2 1-2 1-1.3 1-1 1 1.9 1 2.3 1-11.3 1-.1 1 7.4 1-3.6 1 2.5 1-5.3 1 16.2 1-5.3 1-7.4 1 3.4 1-1.1 1-3.8 1 6.3 1-7 1 18.3 1-13.9 1 3.9 1-8 1 3.7 1-7.5 1 8.6 1-3.7 1-6 1 6.7 1 1.2 1-3.8 1-2.6 1 3.5 1-1 1-8 1 15.5 1 7.4 1-23.5 1 12.2 1-4.1 1 4.2 1-15.8 1 11.6 1 5.6 1-1.2 1-2.9 1-1.2 1 1.4 1 2.1 1-8 1 7.6 1-.7 1 1.7 1-4.5 1 7.1 1-11.8 1 5.1 1 1.2 1-15.9 1 1.6 1 14.5 1 8.2 1-2.7 1-1.8 1-4.6 1-4 1-1.2 1 1.6 1 5.5 1-7 1-8.7 1 9.8 1 9.8 1-11.1 1-2.8 1 10.4 1-1.7 1 1.1 1-11.6 1-11.1 1 26.3 1 6.8 1-22.4 1 6.6 1-11.1 1 25.5 1-11.6 1 13 1-9.3 1-3 1 10 1-10.9 1 4.4 1 6.4 1-11.7 1 12.5 1-12.4 1 5.8 1 1.9 1-7.1 1 7.5 1-3.6 1 8.2 1-3.7 1 .7 1 1.3 1-1.1 1-5.9 1 5.3 1 10.8 1-8.5 1-10.7 1 7.3 1 14.6 1-4.5 1-12.1 1 5.4 1-.4 1 2 1 5.1 1-9.3 1 4.9 1-1.7 1-2.9 1 .7 1 .1 1 4.5 1-.4 1 .5 1 7.1 1-4.6 1-4.1 1-5.1 1 3.4 1 7.3 1-2.8 1 1 1-5.1 1-1.8 1 14.6 1-4.9 1 4.1 1-4.8 1-3.3 1-6.2 1 4.1 1 17 1-5.5 1-7.3 1 13.3 1-9.4 1-6 1 1.7 1-15.2 1 20.7 1-19 1 6 1 6.8 1 7.7 1-3 1 8.1 1 1.2 1-13.1 1 8.9 1-10.1 1 9.7 1-6.6 1 4.4 1 3.1 1 1.1 1-8 1 1.3 1 5.9 1-3.8 1 10.5 1-5 1-12.2 1 8.3 1-11.2 1 11.7 1-2.6 1-3.7 1 3 1 5 1 1.5 1-9.4 1 8.3 1 3.4 1-13.8 1 10.3 1 6.9 1-4.7 1 1.7 1-5.1 1 8.5 1 .3 1-9.4 1 13.2 1-10.5 1 3 1-8.7 1 15 1-11.8 1-.3 1-.3 1-10.4 1 14.1 1 2.7 1 7.8 1-13.3 1 9.3 1 3.3 1-8.5 1 3.8 1 1.6 1-7.1 1 3.8 1 1.2 1-4.1 1 9.1 1-14.2 1 13.3 1-3.4 1-4.3 1 6.3 1 0 1-12.4 1 7 1 7.1 1-1.4 1-10.6 1 12.8 1 3.8 1-8 1 1.6 1 .1 1 .5 1-.5 1-1 1 5.4 1-6.8 1 1.3 1-2 1 1.4 1 4 1 .2 1-2.9 1-1.5 1 1.8 1-6.1 1 8.2 1 .4 1-6 1 1.5 1 .1 1-1.2 1 9.7 1-3.8 1-3.9 1 2.8 1-2.8 1 .7 1 3.1 1 .3 1-2.2 1-3.8 1 6.9 1-2.6 1-1.1 1 6.5 1-6 1 11 1-6.8 1-.4 1-3.4 1 1.6 1 3 1 .2 1-1.5 1-6.8 1-1.1 1 2.5 1-.9 1 7.4 1-5 1 5 1-6.2 1 .8 1 1.5 1-4.5 1 1.3 1 4 1 3.2 1-.3 1-3.4 1-1.3 1 6.2 1-2.9 1-.4 1 3.2 1-2.8 1 .9 1-2.1 1 2.5 1-1 1-2.9 1 3.9 1 4 1-5.4 1 2.2 1 2 1-5.6 1 3.9 1 3.4 1-3 1 .1 1-7.2 1 10 1-4.1 1-4.3 1 8.9 1-4.9 1 2.4 1 1.9 1-1.6 1-5.2 1 2 1-2.5 1 5.4 1-1.9 1 1.4 1 .7 1-1.1 1 .2 1-4.2 1 9.6 1-4.2 1 4.9 1-7 1 1 1-4.4 1-.7 1 6.3 1-.5 1-1.4 1 1.5 1-2.1 1 2 1 2.2 1-3.9 1 .1 1 5.5 1-5.9 1-.2 1 3.6 1 2.6 1-5.3 1-.2 1 3 1-5.6 1-1.3 1 2.7 1 5.7 1-.9 1-1.5 1 .1 1-2.4 1 .4 1-.5 1-.7 1 1.9 1 1.1 1-3 1 3.1 1 3.9 1-9.5 1 5.2 1-1.7 1-.1 1 2.4 1 1.1 1-4.6 1 1.6 1-4.7 1 5 1 .5 1 3 1-3.1 1-4.8 1 1.9 1 5 1-2 1 2.6 1-9.3 1 7.6 1 .5 1-3.6 1 8.9 1-6.4 1-4 1 2.4 1 4.1 1-2.3 1-.2 1 2.3 1-1.1 1-1.2 1-1.7 1-1.3 1-1.8 1 5.5 1-.2 1 1 1 1.3 1-2 1-5.3 1 2.1 1 .2 1 3 1-3.7 1 1.5 1 1.3 1-3.9 1 1.6 1-.5 1 7.3 1-3.3 1-3.1 1 .7 1 1.5 1 4 1-5.5 1 4.6 1-3.7 1-1.7 1 1 1 3.3 1-1.9 1 1.5 1-2.9 1 3.4 1 0 1-2.5 1 .2 1 .7 1-.4 1 2 1 .8 1-2.5 1 4.7 1-8 1 9.3 1-6.3 1-5.2 1 6 1 3.9 1-3 1-2.3 1 2.3 1-3.1 1 3.2 1-5.4 1 4.5 1-.4 1 .8 1-.8 1 1.5 1-1.8 1 1.6 1-1.1 1-.4 1 1.7 1 .1" vector-effect="non-scaling-stroke" stroke="#FF4040" stroke-width="3.1"/>
<path transform="translate(110.500 0) scale(0.22925 1)" d="M0 331.3 l1-5.8 1 .3 1 0 1-1.5 1 1.9 1 .4 1-1 1 5 1-1.3 1-1.3 1 .4 1-1.4 1-2.4 1 4.1 1 .2 1-1.3 1-2.3 1 2.5 1-1 1-5.6 1 11.5 1-5.3 1-2.7 1 4.7 1-4.7 1 3 1-2.6 1 6.4 1-5.4 1-4.4 1 6.8 1-2.3 1 2.6 1-2.2 1 3.3 1-7.5 1 5.1 1-3.2 1 3.2 1 .7 1-.5 1-1.4 1 1.9 1-.2 1-.7 1-2.2 1 2.5 1-.2 1-4 1 1.7 1 1.3 1 .2 1 8.6 1-9.2 1 2.4 1 1.8 1-1.5 1-.8 1-1.7 1-.3 1 4.9 1-5.7 1-.3 1 2.4 1 .2 1-2.9 1 3.7 1-1.4 1-1 1 .9 1-.7 1-.7 1-1.8 1 1.8 1-2 1 4 1 1.9 1-2.4 1 .8 1-.7 1 .3 1 .1 1 1.6 1-2.1 1-.9 1 2.1 1-.9 1-.2 1 .7 1 3.3 1-4 1 .7 1 1.8 1-1.6 1 4.1 1-4.9 1-5.1 1 1.5 1 1.2 1 4.4 1 1 1-5.3 1 2.9 1 .2 1-5.4 1 1.7 1 3 1-.9 1 0 1-3.5 1 8 1 .9 1-1.8 1-2.5 1 .9 1-1.9 1 .2 1 3.5 1-9.5 1 5.1 1 2.7 1 .1 1-1.9 1 .5 1 2 1-1 1-1 1 1.7 1-2.1 1-.5 1-.4 1 3.9 1-.5 1-.8 1-.8 1-1.1 1 10.6 1-7.6 1-.9 1-1.4 1 .4 1 2.8 1-2.6 1-.2 1-1.9 1-1 1 .8 1 .2 1 1.7 1-1.5 1 3.2 1-1.7 1-.5 1-.7 1 2.9 1-1.5 1-.1 1-3.1 1 1.3 1-2.8 1 4.5 1-.1 1 .7 1 .5 1 1.2 1-2 1 .8 1-.6 1-1.1 1 1.1 1-.2 1-3 1 3.9 1-2.4 1 2 1-2.6 1 2.6 1 .7 1-.6 1-2.4 1 4.1 1-2.6 1-.6 1 2.9 1 1.1 1-.7 1-11.8 1 8.4 1-.6 1 2.4 1 .3 1 5.3 1-7.1 1 3.4 1 1 1-4 1 1.5 1-.6 1 2 1-6.3 1 3.3 1 2.4 1-4.3 1 0 1 2.9 1 2.7 1-3.5 1 2.1 1-2 1-1.1 1 .9 1-.3 1 3 1-5.5 1 3.6 1 1.1 1-1.9 1 .3 1 2.4 1-2.3 1-.5 1 3 1-3.6 1 2 1-1.3 1-.6 1 .8 1-1.6 1 3.1 1-2.7 1 1.3 1 .1 1 2.3 1-2.8 1-4.3 1 5.5 1 1.3 1-1.2 1-2.9 1 .7 1 .2 1 2 1-1.9 1 2.9 1-1.9 1-1.7 1-.2 1 .4 1 .8 1 1.4 1-1.1 1 .7 1-.7 1-1.2 1 1.6 1-2.1 1-.7 1 3.6 1-2.7 1-.5 1 3.7 1-.6 1-10.6 1 7.4 1 3.4 1 2.3 1-1.7 1-2.2 1-1.1 1 .4 1 2.9 1 1.4 1-2.2 1-.7 1-2.9 1 5.5 1-5.7 1 3.3 1-.7 1 3.7 1-4 1 3.4 1-2.2 1-1 1-.5 1 3.7 1-6.2 1 4.3 1-2.3 1 4.3 1-3.2 1-.5 1 1.5 1-1.3 1-.1 1 1.1 1 2.1 1-1.6 1 2.7 1-1.6 1-2.5 1-.7 1 .7 1 2.9 1 .5 1-2.2 1 3.2 1-4.9 1 .7 1 1.3 1 6.2 1-6.2 1 .4 1 .7 1-1.4 1-.5 1-2.6 1 2.6 1 2.1 1-.1 1 1.1 1-1.8 1-2.1 1 1.4 1-.3 1 1.3 1 2.2 1-4 1-.9 1 2.3 1-.2 1-6.1 1 7.2 1-1.7 1 .7 1-.3 1-2 1 1.2 1-1 1 4 1-6.2 1 2.6 1 .3 1 2.9 1-2.4 1 .3 1-6.2 1 8.2 1-4.1 1 .5 1 4 1-1.3 1-1.9 1-1.3 1 4.3 1-3.5 1-2.5 1 2.3 1 1.8 1 .6 1 2.1 1-1 1 .2 1-.6 1-3 1-5 1 5.1 1 3.1 1 3.5 1-3.5 1-4.5 1 4.3 1 .7 1-1.6 1-3.8 1 3.9 1 .1 1-1.9 1 1.8 1-3.4 1 2.4 1 0 1-3 1 6.1 1-3.2 1-1.3 1 4.3 1 2.8 1-3.5 1-1 1-1 1-1 1 2.8 1-.8 1-3.3 1 2.9 1 2.2 1-.1 1-1.8 1 1.3 1-2.2 1 3.2 1-.7 1-.5 1-2.1 1-.6 1-.2 1 .3 1-1.3 1 4.8 1-2.4 1 .2 1-.9 1 .3 1 3.6 1 1.3 1-3.3 1-.1 1-6.6 1 3.4 1 4.6 1-2.5 1 .4 1 .5 1-3.1 1 .3 1 1.7 1-1.1 1 3.4 1-2.1 1 1.3 1-.3 1-.8 1 1.2 1-2.5 1 3.3 1 .8 1 2.1 1-7.2 1 2 1 .4 1 1.6 1-.8 1-1.1 1 .5 1-.3 1-1.4 1 2.3 1-3.9 1 3.8 1-.1 1 1.1 1-.7 1-2.2 1 .7 1 1 1 2.2 1-1 1 .5 1 2.1 1-2.8 1-.4 1-.1 1-.3 1-4.5 1 4.1 1-.3 1 3.1 1-3.2 1 .2 1-1.4 1 3.1 1-.7 1 .3 1-4.8 1-.9 1 0 1 6 1-2 1 4.2 1-5.6 1-.1 1 2.8 1-2.7 1 3.8 1-3.6 1-5.6 1 6.3 1-1.2 1 .9 1 3.7 1-1.3 1-1.1 1 1.2 1-1 1-1.4 1 .7 1 6.3 1-4.5 1 2.7 1-3.6 1 1.7 1-3.2 1 1.4 1-.6 1-.1 1 2.8 1 .4 1-.5 1-1.1 1 .2 1-2.2 1 4.9 1-6.1 1 5.4 1-2.7 1 2.4 1-.8 1-.2 1-2.8 1-1.1 1 5.5 1-5.9 1-.3 1 2 1 .6 1-.9 1 1.5 1 1.5 1-5.2 1 13.3 1-10.8 1 1 1-4.3 1 7.5 1-1.8 1-2.5 1 4.3 1-3.2 1 .7 1 1.3 1 .9 1-3.1 1-1.5 1 3.1 1-3.6 1 2.5 1-.6 1 1.4 1 0 1 1.8 1-1.7 1 3.1 1-4.6 1-1.8 1 1.4 1-.3 1-.2 1-.3 1 1.8 1 2.7 1-.8 1-.8 1 3 1-1.6 1-6.5 1 1.9 1 .8 1 .4 1 1.6 1-1.6 1 1.5 1 1.5 1-1.7 1-.3 1 .7 1-1 1 .9 1-1.9 1-1.7 1 1.7 1-1.2 1-.1 1 2.7 1 3.1 1-4.4 1 .2 1 .4 1 .1 1-2.6 1-2 1 7.1 1-2.1 1-3.3 1 2.1 1-3.8 1 4.1 1 .6 1-5.4 1 5.3 1 1.8 1 1.9 1-1.4 1-2.3 1 1.3 1-1 1-1.5 1 1.5 1 2.1 1 .1 1-2.5 1 .1 1-3.2 1 4.1 1-1.8 1 .4 1-1.5 1 4.9 1-4.7 1 1.7 1-1.3 1 5.8 1-6 1 9.6 1-6.6 1-3.4 1 3.3 1-1.9 1 3.8 1-.9 1-2.2 1 .9 1-3 1-2.2 1 3.1 1 5.4 1-2.7 1-7 1 1.9 1 3.4 1-.1 1 1.4 1-1.4 1 .6 1 2 1-1.5 1 1 1-2.3 1 1 1-2.8 1-1.2 1 4 1 2.8 1-.1 1-1.8 1-1.1 1 1.4 1-.4 1-1.8 1 1.8 1 3.3 1-3.7 1-1.8 1-.3 1 0 1 6.5 1-4.8 1 0 1-3.7 1 4 1 2.1 1-1 1-.9 1-.2 1 .8 1-.9 1 1.1 1 .3 1-1 1 .2 1-2.4 1 2 1-.3 1-2.2 1 2.5 1-.3 1 2.2 1-3.4 1 .8 1-3.6 1 4.1 1 .6 1 1.4 1-.8 1-3 1 2.4 1 0 1-4.2 1 1.2 1 .5 1-.1 1 2.1 1 2 1-2.9 1 1 1-.8 1 1.3 1-1.2 1-.1 1 .3 1 2.5 1-1.5 1 .4 1-4.6 1 5.5 1-1.2 1-1.2 1 3.1 1-3.4 1 .5 1 2.1 1-3.3 1-1.8 1 1.4 1 3.3 1-2.5 1 1.3 1 1 1-3.5 1 2.8 1 .2 1 .2 1 2 1-5.8 1 2.8 1-.5 1 1.3 1-.8 1-.9 1 .6 1 2.4 1-3.2 1 3.8 1-3 1 3.5 1-.8 1-3.3 1 2.9 1-.4 1-1.3 1-4.3 1 2.5 1 2.6 1 2 1-4 1 1.5 1 8.1 1-6.4 1-4.3 1 3.2 1 2.6 1-4.8 1 .6 1 .7 1-1.5 1-2.4 1 3.1 1-2.4 1 2.9 1-1.2 1 .6 1 2.3 1-2.2 1 4.4 1-2.6 1 .9 1-.1 1-1.2 1-.7 1-.5 1-2.9 1 .3 1 7.4 1-4.5 1 0 1-.4 1 3.3 1-4.6 1 5.3 1-2.1 1 .4 1-.3 1-1.1 1-2.4 1 2.9 1-2.8 1 3.1 1 1.3 1-.8 1-4.6 1 .2 1 3.7 1 1.5 1-.9 1-1.3 1 0 1-1.4 1-6.2 1 8.1 1 3.3 1-4.6 1 2.7 1-3 1 .8 1-2.6 1 2.5 1-.5 1 2.5 1-1.4 1 .3 1-.2 1 .3 1 .7 1-1.5 1-2.9 1 1.9 1 .9 1-2.1 1 4 1-.4 1-4.1 1 5 1-3.8 1 3.4 1-3.2 1 1.4 1-5.5 1 2.7 1 1 1 3.2 1-.7 1 1 1-2.8 1 2.9 1-1.6 1 .2 1 1.1 1 3.1 1-3.8 1 2.1 1-6 1 3.1 1-.5 1-.3 1-1.3 1 1.5 1-1.7 1 1 1-2.8 1 5.9 1-4.5 1 1 1 4 1-2.1 1-.3 1 2.4 1-1.5 1 .7 1-1 1-1 1 1.3 1-4.4 1 3.7 1 .6 1 5.2 1-6.2 1-.9 1 3.4 1-.7 1-2.1 1-1 1 5.3 1 1.2 1-3.2 1-2.4 1 1.5 1-2.3 1 1.5 1 1.6 1-2.2 1 2.4 1-4.9 1 9.3 1-6.2 1 1.8 1 2.2 1-1.8 1-5.5 1-.7 1 1.6 1 5.6 1-4.4 1 2.6 1-3.6 1 2.7 1 1.3 1-2.7 1 2.5 1-.4 1 1.6 1-3.5 1 .2 1 3 1-3 1 3.9 1-5.1 1 3 1-.3 1 .3 1-4.6 1 3.2 1 1.3 1 2.5 1-1.1 1-2.5 1 1.5 1-1.4 1 1.1 1-3.5 1 .6 1-1 1 6.6 1 .4 1-5.2 1-.8 1 1.6 1-1.4 1-.6 1 2.6 1 5.1 1-2.3 1-.6 1-.3 1-4.3 1 0 1 4.5 1-5.7 1 4.8 1-1.3 1 1.6 1-.8 1 .9 1-3.1 1-1.3 1 6.4 1-6.8 1 3.1 1 3.6 1-2.7 1-2.9 1 .3 1 2.9 1-1.9 1 3.5 1-4 1-.6 1 1.4 1 3.4 1-1.8 1-.8 1 2.3 1-2.8 1 1.6 1-1.5 1 1.8 1-2.4 1 2.1 1-4 1 4.8 1-.9 1-1.3 1-.9 1-1.5 1 4.8 1-3.8 1 .3 1 3 1-.8 1-1.1 1 .3 1 2.3 1-1.9 1 2.3 1-4.1 1-1.6 1 3.9 1 2.3 1-1.7 1-1.4 1-1.5 1 .6 1-.3 1 .9 1-.4 1 2 1-3.7 1-.6 1 1.9 1 4.5 1-4.4 1-2.4 1 5.2 1-1.6 1 2.8 1-3 1-5.4 1 1.9 1 7 1-6 1 3.2 1-.4 1-1.7 1 2.6 1 5.7 1-8.9 1 .4 1 3.4 1-3.2 1 4.3 1-3.2 1-.3 1-2.6 1 2.4 1 6.6 1-8.7 1 8.7 1-3.5 1 0 1-3.4 1 .3 1-.2 1 .4 1-.5 1 3.3 1-2.1 1 .5 1-3.2 1 2.5 1-.5 1 2.2 1-3.2 1 3 1-3.4 1 2.5 1 3 1-3.7 1 1.6 1-.5 1-.7 1 .4 1-.1 1 5.2 1-6 1 .9 1 .9 1-2.1 1-4.6 1 3.3 1 .5 1 .1 1 .2 1 .9 1-1.7 1 7.8 1-5.3 1-.1 1 1.6 1-4.2 1 1.7 1 .2 1 1.3 1-1 1-1.7 1-.1 1-3.3 1 6.1 1 1.5 1-3.8 1-.4 1 4.5 1-2.5 1-2.1 1 2.6 1-1.7 1-1 1 2.9 1-.2 1 .2 1-.1 1-1.3 1 .1 1 1.3 1-4.9 1 .5 1 0 1 8.6 1-9.9 1 5.2 1-.5 1 2.1 1 .2 1-2.1 1-2.6 1 3.4 1 .4 1-1.8 1 1.4 1-.1 1-.3 1 1.1 1-2.1 1 1.2 1 .7 1 3 1-4.3 1-1.2 1 3.7 1 .5 1-2.7 1 5.1 1-3.8 1-4.6 1 5.4 1-4.8 1 2.1 1 8.5 1-6.2 1-4.1 1 4.1 1-2.7 1-1 1 .7 1 1.2 1 1 1-1.4 1 2.7 1-1.1 1-2.1 1 3.1 1-2.3 1-.7 1 1.7 1-4.6 1 7.9 1-3.5 1 1.6 1-2.3 1-3 1 3.6 1-3.1 1 6.3 1-2.9 1 5.2 1-4.6 1-3.8 1 1.8 1 1.3 1 1.1 1-.1 1-1.8 1 2.3 1-1.3 1-1.4 1 .2 1-3 1 5.2 1-1.6 1 1.9 1 .6 1 .1 1 .7 1-7.6 1 4.7 1-2.4 1 4.2 1-1.8 1 4.2 1-4.1 1-.6 1-3.5 1 4.1 1-3 1 3.2 1-1.4 1 1.8 1 .6 1-.3 1-2.8 1-2.5 1 5.7 1-4 1 5.6 1-4 1-.6 1 1.1 1 1.1 1-1.9 1 2 1-3.6 1 2.7 1-3.1 1 2.4 1-3.7 1 4.7 1-1.9 1 .3 1-2.8 1 2.9 1-.8 1 2.9 1-4.9 1 2.6 1 .6 1-7.9 1 9.5 1-1.5 1 .6 1-1.5 1-1.4 1 2.2 1-.5 1 3.3 1-2.1 1-1 1-.4 1-2.3 1 2.3 1-.9 1-1.2 1 5 1-7 1 2.1 1 3.5 1 .4 1 .1 1-3.9 1 5.7 1-2.7 1-6.1 1 3.6 1-4.8 1 1.8 1 2.6 1 1.6 1 3.5 1-2.3 1-.8 1-.6 1 2.9 1 0 1-1.9 1 1.1 1-1.4 1 1.3 1-3.9 1 2.9 1-2.2 1 3.3 1 .5 1-1.3 1 1.1 1-.3 1-2.4 1 1.4 1 2.2 1-.7 1 .6 1 4.2 1-10.8 1 5.3 1-3.9 1 3.8 1 1.4 1-2.1 1 1.5 1-.9 1-1.2 1 2 1 3.4 1-5.5 1-.5 1 3.7 1-4.2 1 3.7 1 .5 1-3.5 1-.4 1 5.3 1-2.5 1-1.4 1 3.2 1-1.8 1-.9 1-1.9 1 3.7 1-2.8 1 .7 1 1.1 1-1 1-4 1 3.1 1 2.8 1-.2 1-4.3 1 2.7 1-.4 1 5.8 1-5.6 1-2.2 1 2.6 1 1.9 1-3.3 1 2.9 1-2 1 .5 1-.1 1 .8 1 1.6 1-2.8 1-.3 1 1.2 1-.3 1-2.6 1 .9 1 2.3 1-1.3 1-2.8 1 .4 1 .4 1 3.2 1-3 1 3.6 1-3.2 1 1.5 1 1.8 1-.3 1-6 1 5.4 1-1 1 3.1 1-3 1-2.8 1 .4 1 3.8 1 .4 1-1.7 1-1.1 1-7.3 1 11.3 1-2.4 1-.3 1-1.2 1 2.9 1-.9 1-1.5 1-2.3 1 1.2 1 1.9 1 .9 1-2.6 1 1.6 1 .7 1-1.8 1 1.3 1-2.2 1-.8 1 1.2 1 2.5 1-5.2 1 5.3 1-2.2 1-.1 1 1.1 1-2.4 1 1.8 1-.3 1-.5 1 1.2 1 .2 1 5 1-3.8 1-1.7 1 1.8 1 .6 1-3.5 1 5.1 1-3.6 1 1.6 1-.7 1-1.1 1-.5 1-1.1 1 3.4 1-2 1-1.8 1 1.9 1-1.9 1 1 1 3.3 1-.6 1-1.9 1 1.1 1 1.3 1 0 1-10 1 4.7 1 3.1 1 .4 1 1.4 1-1.1 1 .1 1-.3 1 2.3 1-2.7 1-1.2 1 3.6 1-1.1 1-2.5 1 .2 1 1.3 1 .4 1-.7 1-.6 1-.2 1 0 1-1.1 1 3.8 1-5.8 1 4.8 1-4.5 1 3.1 1 3 1-5.7 1 3.5 1-2.6 1 2.4 1-.4 1 .5 1 2.1 1-9.3 1 4.2 1 9.1 1-5.3 1 4.1 1-6 1 3.2 1-5 1 3.9 1-2.5 1 5.1 1-2 1-4.7 1-2.2 1 6.1 1 1.4 1 3.8 1-7.9 1-3.2 1 8.5 1-10.6 1 8 1-1.8 1 1.7 1-2.4 1 3.4 1-1.3 1 .6 1-.8 1-.5 1 2.2 1 .5 1-3.5 1 2.7 1-3.4 1 5.9 1-7 1 .6 1 1.3 1 1.8 1-.3 1-1.3 1 1.1 1-3 1 8.7 1-6.9 1 1.4 1 3.7 1-5.7 1 1.4 1-2.9 1 2.4 1 2.6 1-3 1 2.7 1-.6 1-1.5 1-.7 1-.7 1 .4 1 1.2 1 1.9 1-2.2 1 2.4 1-.1 1-1.8 1-2.6 1 4.9 1-3.7 1 4 1-1.1 1 2.6 1-7.1 1 10.9 1-5.5 1-3.7 1 2.6 1-2.8 1-.9 1 1.4 1-3.1 1 7.5 1-6.9 1 5.9 1-3.6 1 2.1 1-.2 1-1.4 1 3.2 1-3.6 1 2.2 1-1.6 1 .6 1 7.4 1-6.3 1-.8 1-1.2 1 .7 1-3.4 1-1.7 1 5.5 1 .4 1-3.3 1 6.6 1-3.1 1-.5 1 .4 1 1.9 1-3.2 1 3 1-5.3 1-5.5 1 18.9 1-9.9 1-2.5 1 1 1 .8 1 6.8 1-5.2 1-.7 1-.9 1 1.7 1 .4 1-5.7 1 3 1-.6 1 1.9 1-.8 1-3.7 1 7.9 1 6.6 1-9.1 1-.7 1 1 1 .7 1-.5 1-5 1 5.7 1-3.2 1 0 1 .4 1-3.7 1 3.5 1-.1 1-1.9 1 .7 1 1.9 1-2.5 1 .9 1 2.5 1 5.2 1-7.9 1 4.6 1 4.9 1-5.3 1-2.4 1 0 1-1 1 3.5 1-1.5 1 .9 1 .1 1-3 1-.2 1 9.4 1-9.4 1 1.8 1 0 1-2.4 1 2.3 1-.8 1-.2 1-1.2 1 4.9 1-3.4 1 1.9 1-.7 1-1.9 1 1.2 1-1.4 1-.9 1 1 1 .3 1 .5 1 .1 1 3.3 1-.4 1-4.3 1 1.9 1 1.3 1 .8 1-2.5 1-2 1 1.1 1 3.7 1 3.3 1-11.3 1 4.2 1-.6 1 4.2 1-3.2 1-.7 1 .7 1-.9 1 .5 1 0 1 1.1 1 0 1-2.7 1 1.1 1 4.7 1 2.6 1-4.5 1 .2 1-1.6 1-.6 1 3.3 1-1.7 1 2.4 1-3.2 1 1.8 1-2.8 1 2.6 1-1 1 0 1 .1 1 4.2 1-3 1 .3 1 .8 1-1.9 1 .9 1-3.4 1-.5 1 1.4 1 3.1 1-4.1 1 2 1-.9 1 5.9 1-6.2 1 4.4 1-5.1 1 .3 1 2.3 1 1.2 1-4.6 1 6.9 1-5.6 1 1.9 1-2.6 1 5.2 1-.7 1-2.9 1-1.5 1 2.6 1-.7 1 .2 1-.9 1 1.4 1-1.5 1 7.8 1-4 1-6.1 1 4 1-1.4 1-.5 1 2.8 1-2.4 1 .4 1-5.2 1 8.1 1-1.8 1-7.8 1 7.7 1-1.1 1 2.2 1-3.9 1 6.3 1-5.1 1-5.1 1 6 1-.1 1-5.4 1 5.8 1-.4 1 1.8 1-1.6 1-6.2 1 4.1 1 .2 1 1.1 1-2.3 1 2.3 1-.8 1 .4 1-4.5 1 1.4 1 3.9 1-1.6 1 4.4 1-7.3 1-.2 1 7.6 1-.6 1-2 1-6.7 1 4.7 1 1.9 1-.8 1-.3 1 .2 1-.5 1-.2 1 .8 1-.4 1 2.4 1-3.3 1 5.3 1-3.6 1-.6 1 .4 1 .9 1-1.6 1-.6 1 3.3 1-1.6 1-1.4 1 2.1 1 5 1-5 1-1.3 1-3.3 1 3.4 1-1.1 1-1.5 1-1.6 1 3.2 1-2.1 1 .1 1 1.5 1 3.1 1-2 1-3.1 1 2.4 1 3 1-4.2 1 2.1 1 .9 1-2.2 1-2.5 1 .3 1 2.7 1-2 1 3.8 1-3.6 1 1.8 1-1.9 1 2 1-5.7 1 7.3 1-3.4 1 1.1 1-1.9 1 1.5 1-5.6 1 .5 1 2 1 .8 1 3.4 1-2.3 1-.8 1 1.7 1-3.9 1 1 1 3.6 1-1.6 1 1.4 1 2.2 1-4.5 1-1.6 1 1.4 1 2.6 1-3.3 1-.1 1 6.1 1-5.3 1-.6 1 2.1 1-2.7 1 1.7 1-.5 1-.4 1 .4 1-2.9 1 1.9 1-.1 1 .1 1-3 1 3.9 1-2.9 1-1.8 1-3 1 2.7 1 7.1 1-5 1-3.5 1 6.9 1-2.5 1 2.8 1-6.2 1 3.5 1-3.3 1 5.9 1-3.9 1 1.8 1-6.5 1 8.3 1-13.7 1 13.1 1-5.6 1 1.2 1-1.2 1-1.1 1 5.1 1-6.5 1-1.4 1 6.3 1-10.1 1 3.8 1 7.3 1-7.3 1-1 1 3.8 1-1.1 1 2.3 1-4.1 1 1.8 1-1 1-1.1 1-.8 1-4.7 1 7.9 1 1.3 1 1.1 1-5.6 1-3 1-6.7 1 6.3 1 7.5 1 .7 1 .8 1-3 1 3.9 1-5.2 1 3.2 1 1.5 1 3.6 1 1.7 1-1.8 1 .7 1-2.9 1 4.5 1-3.4 1 2.5 1-2.9 1 5 1-1.4 1-.9 1 4.9 1 .7 1-4.4 1-.3 1 .4 1 2.4 1 .1 1 .1 1 .2 1-.2 1-1.3 1-2.1 1 2.7 1-3 1 7.7 1 1.5 1-10 1 4.7 1 1 1 .7 1-.5 1-2.2 1-1.7 1 .1 1 2.7 1-2.2 1 .3 1 .9 1 5.6 1-6.2 1 1.9 1-.6 1-3.2 1 2.9 1 5.1 1-4.2 1 1.1 1-1 1 1.8 1-3.1 1 5.1 1 2.3 1-6.4 1-1.9 1 .9 1 1.8 1-1.2 1 2.2 1-1.1 1-3.3 1 3.5 1 4.6 1-6.2 1-1.6 1-.9 1 4.8 1 1.9 1-1.9 1 1 1 .8 1-3.2 1 1.3 1 2.2 1-2.5 1-6.7 1 3 1-.4 1 2.9 1 2.4 1 .8 1-3.3 1-.1 1-1.7 1 2.7 1-.8 1-3 1 1.4 1-.5 1 4.6 1-2.4 1 1.8 1-6.9 1 4.5 1 .6 1 .9 1-5.3 1 6.8 1-3 1-1.2 1 5 1-1.5 1-2.4 1 2 1-2.4 1 2 1-2.5 1 5 1-.1 1-4.3 1 2.4 1-3.2 1 8.1 1-5.3 1-.4 1-.5 1-.4 1-2 1 5.2 1 2.8 1-6.1 1 1 1 3.3 1-4.3 1-.8 1 0 1 .8 1 3 1-4.7 1 8.4 1-12.1 1 7.1 1-2.1 1-1.1 1 2 1 .4 1-2.3 1 3.7 1-2.5 1-.7 1 .3 1 5.8 1 1.3 1-5.9 1-.1 1-1.8 1-2.3 1 .8 1 2 1-3.1 1 2.1 1 3.3 1-1.1 1 2.5 1-4.4 1-3.4 1-1.5 1 5.1 1 2.2 1-1.1 1 2.3 1-6.3 1 2.8 1 2.5 1-.7 1-1.7 1 7 1-6.6 1 5.7 1-3.7 1 2.6 1-.3 1-3.1 1 2.7 1-3.4 1 .9 1-1 1-1.3 1 .7 1 .3 1 2.6 1-3.5 1 2.4 1-7.9 1 3.7 1 4.9 1-8 1 5.2 1 1.3 1-2.4 1-3.6 1 3.5 1-.2 1 1.4 1-.2 1-1.2 1-5.7 1 4.8 1-1.3 1 1.5 1 7.7 1-10 1 2.7 1-1.1 1-.4 1 4.8 1-2.9 1-3 1 1.7 1-1.1 1 2.6 1-2.2 1 .8 1 1.5 1-4.5 1 8.5 1-7 1 2.3 1 2 1-2.8 1-.1 1 2.3 1-2 1-4.4 1 5.9 1-2.8 1-.9 1-2.4 1 2.6 1-.2 1 4.3 1-6.4 1 4.3 1 1.1 1-3.6 1 3.1 1-8.4 1 6.6 1 .2 1-4.8 1 3.2 1-4.5 1 3.3 1 1.2 1-2.1 1 6.5 1-6.7 1 4.4 1-4.6 1 4.3 1-1.9 1 5 1-4.9 1-1.9 1 3.6 1-3.9 1-.4 1 .7 1 5.9 1-12.2 1 10.5 1-3.4 1 3.1 1-2.4 1-1.5 1 2.2 1-9.6 1 8.6 1 1 1-1.7 1 3.9 1 1.5 1-7 1 5.4 1-.6 1-8.1 1 6.2 1 4.6 1-.6 1-1.5 1-3.1 1-1.8 1 2.6 1-1 1-3.4 1 4.3 1-.1 1-3.6 1 0 1 3.9 1-1.8 1-1.2 1 1.5 1 3.6 1-.1 1-1.2 1-1.4 1-.9 1 4.5 1 1.2 1-3.5 1-8.2 1 6 1-1.1 1 9 1-8 1-.8 1 1.9 1 4.2 1-2.9 1-.6 1-3.1 1 .3 1-1.7 1 4.7 1-.9 1-2.8 1 7.3 1-5 1-5.6 1 6.4 1 13 1-13.7 1 .3 1 1.6 1 2 1-4.9 1 .1 1-.6 1-4.5 1 5.6 1-2.6 1 1.8 1-2.2 1-1.7 1 1.1 1 1.9 1 3.9 1-2.5 1-3 1 1 1 6.2 1-3.1 1 .4 1-4.2 1 10 1-3.3 1-1 1-8.2 1 9.5 1-3.3 1-1.1 1 1.7 1-1 1 2 1-1.4 1-1.8 1 4 1-.7 1 0 1-5.3 1 6 1-2.7 1-.2 1 .6 1-2.5 1 .7 1 1.9 1-3 1-1.1 1 4.3 1-1.4 1-.6 1-.6 1 2 1 .5 1-3 1 .4 1-.3 1-2.8 1 12.1 1-9.8 1 8 1-7.4 1 1 1-.9 1-2.1 1 5 1-2.3 1-2 1-5 1 10.7 1-4.3 1 .3 1-.3 1-3.5 1 2.1 1 0 1-.9 1 0 1-1.9 1 .6 1 .8 1 1 1-1.8 1-10 1 6 1-.5 1 4.2 1-2.6 1 3.6 1-.9 1-2 1-6.8 1-.3 1 .4 1-1.4 1 3.5 1-1.5 1-1.5 1 3.5 1-6.9 1 2.6 1 1.3 1 11.2 1-13.4 1 7.5 1-7.8 1 .4 1-7.7 1 5 1 3.4 1-11.2 1 12.1 1-5.2 1 1.6 1 2 1 0 1 6.6 1-18.3 1 7.1 1-6.4 1 5.1 1-7.7 1-9.1 1 16.1 1-.7 1-.2 1-3.1 1 .9 1-3.3 1-3.3 1-7 1-7.8 1 6.6 1 4.6 1-9.7 1 10.6 1 .9 1-12.5 1 1 1-6.2 1 17.3 1-22.6 1 2.6 1 13.4 1 8.7 1-14.3 1 4.1 1-9.1 1 6.2 1-6.4 1 3.6 1 0 1-11.8 1-5.5 1 10.4 1-12.1 1 8.2 1 9.7 1-17.3 1-2.9 1 5.3 1-2.1 1-4.1 1 6.1 1 4.7 1-9.4 1-2.4 1-2.3 1 3.9 1 12.9 1-18.8 1-4.5 1 14.1 1-13.7 1-2.9 1 12.2 1 8.1 1-16 1 4.5 1 10.3 1-3.5 1-10 1-23.9 1 23.4 1-5.9 1-4.3 1 3.2 1-7 1 14.5 1 .4 1-8.6 1 16.1 1 3 1-17.6 1 .8 1 2.1 1 2.5 1 .8 1-16.6 1 6.4 1-20.9 1 10.3 1 11.8 1 6.1 1-1.6 1 4.7 1 3.3 1-17.5 1 15.5 1-16 1 2.1 1 9.7 1 11.1 1-16.6 1 15.1 1-12.8 1 22 1 3.6 1-27.2 1 7.6 1 13.2 1-11.2 1 13.5 1-25.8 1 12.6 1-2.7 1 12.1 1 11.2 1-5.4 1-5.6 1-10.1 1 14.7 1-6.3 1 19.2 1-11.2 1 7.7 1-2.7 1 7.4 1-7.9 1 4.6 1-3 1 5.7 1 .7 1-4.5 1 6.3 1 6.1 1-1.9 1 7.3 1-4.1 1-8.9 1 2.1 1 4.2 1 4.9 1-5.6 1 4.6 1-1 1 4.2 1 17.9 1-13.5 1 .8 1 1.7 1-1.4 1-.1 1 2.7 1 1 1-3.3 1 2.3 1-8.9 1 14.8 1-3.2 1 5.4 1 1.3 1-5.3 1 2.8 1 3.6 1-.5 1 1.2 1 0 1-3.3 1 5 1 5.7 1-4.5 1-.6 1-4.6 1 1.8 1 23.3 1-20.5 1-.8 1 12 1-5.3 1-2.6 1 .9 1-2 1 2.3 1-3.2 1-2.6 1 7.2 1 4.5 1-3.8 1 2.9 1-5.1 1 7.2 1-6.5 1-2.3 1 8.6 1 .2 1-3.9 1-5.5 1 1.3 1 3.6 1 3.4 1 .5 1-.6 1 2.5 1-1.9 1-.3 1-.7 1-1 1-2.5 1 7.7 1-.5 1-3 1 3.8 1-10.9 1 3.8 1 6.5 1-2.7 1 3 1-1.8 1-.2 1-3.4 1 4 1 1.6 1-3 1 .7 1-1.4 1 3.7 1-1.2 1-2.1 1-2.1 1 6.4 1-4.1 1-12.6 1 18 1-4.9 1 2.6 1-4.8 1 4.9 1 .6 1-1.3 1-.4 1-11.8 1 15.9 1-3.3 1-1.2 1-2.1 1 1.2 1-.7 1 7.5 1-5.2 1-1 1 1.9 1-.6 1-.4 1 .4 1-.9 1-4.5 1 6.7 1-4.5 1 3.9 1-.9 1 5.1 1-1.1 1-.1 1-2.3 1 2.6 1-2.7 1 .5 1 1.2 1 1.9 1-5.7 1-2.7 1 2.3 1-6.6 1 6.2 1 3.3 1-1.1 1 1.9 1-1.6 1 1.5 1 0 1-3.9 1 4.9 1-1 1-4.2 1 2 1 3.7 1-4.3 1 5.1 1-3.9 1-1.7 1-2.4 1 .6 1 2.4 1 .6 1 2 1-1.8 1-1.1 1 3.9 1 0 1-1.1 1 2.7 1-5 1 2.7 1 1.9 1-2.8 1 4.9 1-2.1 1 0 1-.1 1-.1 1-6.3 1 .8 1 2.9 1 3.1 1 1.3 1-3.1 1-5.9 1 11.3 1-9.8 1 5.9 1-1.2 1-1.2 1-4.4 1 4.5 1 2.1 1-.4 1-.2 1-3.1 1-1.5 1 3.7 1-6.4 1 6 1-2.1 1 10.5 1-7.8 1 .7 1-.3 1-.9 1-2.5 1 2.6 1-.2 1 1.3 1-2.5 1 9.5 1-8.8 1-.3 1 2.1 1-7.9 1 8.1 1 .4 1-.4 1 0 1-.5 1 1.3 1 .6 1-1.2 1-.8 1-2.7 1 6.5 1 1.1 1-7.3 1 11.5 1-4.3 1-.3 1-2.4 1-1.3 1-5.2 1 5 1 0 1-.3 1 1.6 1-2.7 1-3.3 1 5.2 1 0 1 .5 1 .1 1-1 1 2.1 1-2.8 1 4.8 1 0 1-3.6 1 .7 1-2.1 1-3.8 1 6.9 1-2.1 1-1.8 1 4.3 1-5.3 1 2.2 1-1.1 1-.9 1-2.4 1 10.7 1-2.7 1-2.7 1 .5 1 .9 1 2.3 1-2.7 1-3.8 1 .4 1 .1 1 1 1 3.8 1-6 1 2.3 1 3.5 1-1.1 1-2.5 1-2.7 1 7.2 1-7.2 1 4.9 1 .6 1-1.6 1-1 1 .5 1 1.8 1-1 1-3.7 1 8.8 1-5.7 1 3.3 1-4.3 1 .6 1 .8 1 1.5 1-2.3 1 1 1-.8 1 .9 1-2 1 1.3 1-2.6 1-.9 1 3.8 1-5.7 1 1.9 1 2 1 1.4 1-.6 1-1.4 1 2.2 1 0 1 .4 1-6 1 2.7 1 4 1-3.4 1 3.3 1 2.1 1-1.5 1-3.2 1-2.2 1 5.3 1-4 1 1.5 1 1.8 1-.4 1 .4 1-3.8 1 4.6 1-.7 1-2.2 1-2.5 1 3.4 1 2.8 1-.1 1-4.6 1 4.3 1-9.1 1 6.1 1 2.6 1-1.8 1 1.9 1-2.5 1-1.4 1 3.3 1-.7 1-.5 1 2.3 1-5.9 1 3.3 1 .8 1-1.1 1-.3 1-.6 1 13.8 1-11.3 1-1.3 1-.2 1 2.4 1-2.1 1-.3 1-1.1 1-4.1 1 8.9 1-3.3 1 3.2 1-5 1 2.3 1-1.2 1 1.3 1 4.1 1 7.6 1-16.3 1 1.2 1 1 1 5 1-1.8 1-2.8 1-.1 1 1.2 1 .2 1 4.3 1-4.8 1-1.3 1 .4 1-.5 1 3.9 1-2.5 1-4.9 1 5.7 1-.5 1-.1 1-2.9 1-1.8 1 4.3 1-.4 1-1.5 1 9.3 1-4.2 1 0 1-4.7 1 5.6 1-1.4 1 5.2 1-6.4 1 2.3 1-4.4 1-.4 1 3.7 1 1.5 1-5.6 1 .1 1-6.3 1 8.4 1 2 1 2.3 1-8.5 1 11.1 1-8.4 1-3.6 1 6.6 1-8 1 4.9 1 2.8 1 .6 1-1.6 1-.5 1-1 1 5.1 1-9.5 1 7.8 1-3.7 1 3.4 1-6.7 1 2.7 1-.5 1-.2 1 2.7 1-.1 1-.8 1-4.9 1 2.4 1 5.9 1-7 1 8.2 1-4 1-2.8 1-1.3 1 3.6 1-2.1 1 2.5 1-.9 1 1.3 1-.9 1-4.1 1 4.4 1-.4 1 .8 1-.1 1 1.4 1-6 1 6.1 1-3.6 1-3.7 1 8.1 1-4.1 1 .6 1 2.2 1-8.9 1 6 1 1.9 1-1.9 1 3.3 1-5 1-4.4 1 10.7 1-5 1-1 1-4.4 1 6.3 1-4.3 1 2.5 1 2.8 1-1.8 1-13.2 1 15.4 1-.6 1-3.6 1 3.8 1-.7 1 1 1-.7 1-6.2 1 5.8 1-5.9 1 3.7 1 3.6 1-4 1-1.1 1 .7 1 2.1 1 .3 1 5.8 1-3.5 1-8.2 1 5 1 1.3 1-6.5 1 2.9 1 1.2 1 3.6 1 0 1 3.1 1-4.3 1-2.1 1 4 1 6.9 1-11.2 1 0 1-8.9 1 9.5 1 2.3 1-4.7 1 1.3 1 .9 1 .6 1-2.5 1 3.1 1 2 1-3.9 1-3 1 3.5 1 .9 1-2.2 1 2.9 1 .2 1-1.5 1 .6 1-1.8 1-1 1 2.8 1-3.9 1 1.1 1-1.2 1-2.8 1 9 1-7 1 5.2 1-4.4 1-2.7 1 8.9 1-4.9 1-.1 1-1.1 1-.2 1-1.7 1 4.5 1-.4 1-10.2 1 4.3 1 .5 1 2.3 1-3.1 1 6.8 1-5.1 1-.6 1 3.7 1-7.2 1 7.9 1 5.3 1-7.6 1 1.3 1 2.4 1-1.8 1 3.5 1-7.7 1 3.2 1-2.4 1 .1 1-3.4 1 1 1 .1 1-2.5 1-.9 1 3 1 1.2 1-.4 1 1.4 1-4 1 6.8 1-1.3 1-7.2 1 4.7 1-2.1 1-2.9 1-8.7 1 9.8 1-3 1 4.9 1-2.5 1 .3 1-3.8 1 12 1-18.1 1 5.3 1 10.2 1-6.8 1 .2 1 .6 1-1 1 .2 1 1.3 1-3.6 1-5.9 1 14.3 1-17.3 1 8.8 1-4 1 2.2 1-9.4 1 5.3 1 .2 1-2.4 1 1 1 4.2 1-7.5 1 8.9 1-11 1 2.9 1 .9 1 5.4 1 2 1-5.1 1-1.6 1-5.1 1 5.9 1-10.4 1 5.3 1-2.4 1 3.4 1-6.9 1 2.3 1-4.4 1 12.8 1-7.3 1 5.6 1-6.4 1 0 1 3.4 1-5.2 1 2.4 1 2.2 1-16.6 1-3.2 1 32.9 1-16.5 1-.4 1 9.2 1-11.2 1-.5 1-1.4 1 12.8 1-11.3 1 .4 1 11.1 1-11.4 1 7 1-3.6 1-7.4 1 8.4 1-10.3 1 9.2 1-.9 1-5 1 3.6 1 8.9 1-2.8 1-3.8 1-.3 1-11.2 1 6.7 1 5 1 1.8 1-4.1 1-8.4 1 6.5 1-3.8 1 15.9 1-3.7 1-11.9 1 8.5 1-1.3 1-5 1 13.1 1-.4 1 1.6 1-2 1 11.8 1-30.1 1 11.9 1-1.7 1 10.3 1-6.8 1 6.1 1 .3 1-.2 1 2.4 1-13.6 1 11.7 1-1.2 1 3.9 1 1.1 1-.8 1-9.8 1 9.6 1-5.6 1 2 1 2.4 1 4.7 1 3.6 1-1.4 1-5.4 1 6.3 1-3.7 1-3.2 1 2 1 6.5 1-.6 1-13.7 1-1.7 1 5.1 1 8.5 1-2.1 1 14 1-12.2 1-2.9 1 1.8 1-2 1 6.2 1-6.8 1-.1 1 6.4 1-6.2 1 2.7 1 3.2 1-.5 1 3.2 1-9.2 1 5.1 1-1.6 1 2.5 1 16.4 1-20.8 1 12.1 1-23.7 1 16.7 1 4.9 1 5.1 1-6.3 1-2.8 1-4.5 1 7 1-3.2 1 7.8 1-4.7 1-.3 1 3.7 1 .4 1 .8 1-4.5 1-1.1 1 12.2 1-9.5 1 3.7 1 1.3 1-2.4 1 6.5 1 .5 1-7.3 1 1.4 1 2.5 1-.7 1-2.2 1 2.7 1 .6 1-.8 1-5.4 1 5.6 1 1.2 1-3.8 1 7.1 1-4.8 1 3.1 1-1 1-.7 1 1.1 1-1.6 1-2.1 1 2.1 1 .5 1 3.1 1-6.6 1 1.7 1 1.1 1 2.9 1-1.5 1-1.4 1-.5 1 3.3 1-2.1 1 1.1 1-2 1 6.9 1-4.4 1-4.3 1 5.9 1 .7 1-3.4 1 2.7 1-6.8 1 2.8 1-2.1 1 1 1-2.3 1 8.3 1 5.1 1-7.4 1-.2 1 1.8 1-2.8 1 2.3 1 4.7 1-4.5 1-.4 1 .9 1-3.1 1 6.8 1-6.2 1 2.5 1-1.7 1 .5 1 2.6 1-2.1 1-7 1 8.1 1-2.2 1 2.2 1-2.7 1 4.3 1-3.8 1 2.1 1-3 1-1.6 1 3.3 1 1.9 1-2.7 1 1.8 1-.3 1-.3 1-1.1 1 6.6 1-5.5 1 .9 1 3.2 1-3.6 1 3.7 1-4.9 1 4.8 1-.4 1-6.3 1 2 1 3.4 1-1.2 1 2.5 1-2.3 1-.4 1-1.3 1 1.2 1-3.4 1 1.5 1-.6 1 2.7 1-.5 1 2 1 2.6 1-5.5 1 .6 1 1.4 1-5.7 1 1.5 1 2.7 1 3.4 1 1.2 1-1.6 1-3.9 1 8.4 1-6.7 1-.6 1-1.3 1 4 1 2.5 1-5.8 1 .9 1 1.1 1 .4 1-2.2 1-2.7 1 4.1 1-.9 1-.9 1 .1 1 1.3 1 2.8 1-2.1 1-2.9 1-3.2 1 4.1 1-.4 1 2.2 1-.7 1 .2 1 4.3 1-6.1 1 5.8 1-3.5 1-2.3 1 1.4 1 2.1 1-.6 1 .8 1 .5 1-2.8 1-1.8 1 7.2 1-5.4 1 2.7 1-.8 1-1.4 1 .2 1 0 1-1.5 1 3.6 1-6.1 1 2.1 1 6 1-2.9 1-1 1 1.7 1-2.1 1 1.8 1-4.9 1 2.3 1 .2 1 .7 1-.5 1 1.5 1-2 1 5.1 1-3.6 1-6.5 1 8.5 1 .6 1-1.8 1 .5 1-1.3 1-1.5 1 3.8 1 7.1 1-8.5 1-.1 1 3.3 1-5.8 1-.1 1 1 1-7.5 1 9 1-3.2 1 10.9 1-10.9 1-.2 1 5.3 1-5.7 1 6 1-4.6 1 .5 1 2.3 1 0 1-.8 1-5.2 1 4 1 1.6 1 .4 1 .4 1-2.7 1 .2 1 1.8 1-3.2 1 3.8 1-4 1 2.5 1-2.4 1 3.2 1 .4 1 1.4 1 .1 1-1.5 1 2.5 1-1.3 1 1 1-3.7 1 .2 1 2.2 1-2.5 1 1.6 1-1.1 1-2.6 1 4.3 1-9 1 9.9 1 1.9 1-4.3 1 1 1-.7 1 .2 1 1.5 1 1.5 1-5.5 1-.1 1 1.1 1 3.2 1-.6 1 1.5 1-1.4 1 .8 1-2.4 1 1.6 1-2.8 1 2.9 1 .3 1 1.7 1-3.1 1-1.7 1 2.3 1-2 1 6.1 1-6.1 1-.2 1-3 1 1.9 1 2.1 1 .8 1-1.3 1 1.9 1-.9 1 1.9 1-1.9 1-1.6 1 .2 1 2.2 1 1.9 1-4 1-.1 1-2.4 1 3.7 1 .8 1 1.3 1-6.6 1 1.9 1 .7 1 3.3 1-.5 1 1.7 1 0 1-3.7 1-1.4 1 2.6 1-1.2 1 2.2 1 .2 1-1.1 1 .6 1-2.5 1-.1 1 2 1 2.5 1-1.6 1 .7 1-2.7 1-.2 1 1.5 1-1.8 1 1.3 1-2 1 2.2 1-1.7 1-.9 1 5.5 1-4.6 1-1.3 1 3 1-2.3 1 3.1 1-.7 1-1.7 1 1 1 1.9 1-1.2 1-.2 1-1.4 1 1.1 1-7 1 8.5 1-1 1-1.2 1 .1 1 6.9 1-1.9 1-3.6 1-1.8 1 3.5 1-.8 1 0 1-1.5 1-3 1 4.3 1-2.6 1 1.7 1-.6 1 4.6 1-5.9 1-1.1 1 1.7 1 0 1 .6 1 2.8 1-2.9 1-.8 1 2.2 1 .1 1-2 1 7.5 1-6.9 1 1.1 1 .6 1-1.1 1-1.2 1 1 1-.4 1-4.3 1 4.7 1 2.1 1-5.3 1 5 1-2.3 1 2.6 1-4.1 1 .7 1-1.5 1 2.6 1-1.5 1 .8 1 4 1-5.8 1 1.6 1 2.5 1-1.4 1 .2 1 1 1-.8 1 9.6 1-10.3 1 1.4 1-1.3 1-1 1 1.4 1-5.7 1 7.3 1-1.1 1-3.1 1 4.3 1-2.1 1 .2 1 3.7 1-4.5 1-3.7 1 8.3 1-1.5 1-3 1 .7 1-2 1 1.6 1 .4 1-1 1-.6 1 3 1-4.9 1 2.6 1-1.1 1 1.8 1-1.6 1 .1 1-2.4 1-.2 1 6.5 1 1.3 1-4.5 1 .8 1-2.3 1 1.6 1 .6 1-1.3 1 0 1 2.4 1-1.6 1 .9 1-1.2 1 7 1-5.1 1-2.3 1 4.1 1-1.5 1-1.4 1-2.6 1 0 1 7.9 1-5.5 1-2.4 1 2.1 1 1.1 1-.3 1 .2 1-3.3 1 2.6 1 3.1 1-1.7 1-.6 1-1.4 1 3.1 1-3.2 1-1 1 2.1 1-1.2 1 3.2 1 2.7 1-6.3 1 1.2 1-.3 1-2.1 1 2.3 1-.6 1-3.7 1 4.4 1-1.7 1 1.3 1-.4 1-.8 1 1.5 1-.8 1 3.8 1-3 1-.3 1-.4 1 1.7 1-.5 1-2.4 1 2.9 1 .3 1-1.3 1 .7 1 0 1 1.2 1-.4 1-1.5 1-.7 1 3.3 1-3.9 1-4 1 5.3 1-1 1 1.9 1-3.6 1 10.5 1-10.6 1 1.5 1 4.1 1-3.2 1 .7 1 2.1 1-2.4 1-4.4 1 1.2 1-2.9 1 12 1-2.8 1 5.8 1-11.7 1 1.7 1 .5 1-3.1 1 1.3 1-.2 1 3.4 1-1.3 1-1.6 1 .9 1 3.8 1-.3 1-4.4 1 3.3 1-6.3 1 3.4 1-.7 1 1.7 1 .3 1-1.7 1-1 1-1.1 1 7.1 1-2.5 1-5.9 1-.2 1 3.2 1 .8 1-1.2 1-4.5 1 3.6 1-1.4 1 3 1-.8 1-5.1 1 6.4 1-3.7 1-.7 1 3.2 1 .8 1 2.4 1-4.4 1-.6 1-.5 1 5.5 1-5 1-.5 1 2.3 1 3.4 1-1.8 1-2.4 1-1.1 1 2.7 1-1.2 1-1.8 1-1.6 1-.1 1 .2 1 1.7 1-1.8 1 6.6 1-4.8 1 2.5 1-8.5 1 15.6 1-7.4 1-3.4 1 8.7 1-7.7 1 2.6 1-2 1 5.5 1-4.9 1-5.7 1 7.4 1-.1 1-2.8 1 .9 1-.9 1 .6 1-.4 1 4.1 1-.4 1-5.6 1 4.4 1-2.2 1-3.8 1 5.2 1 .8 1-1.7 1 .9 1-1 1 .9 1 1.2 1-.6 1 2 1-1.6 1-10.9 1 11 1 1.7 1 .3 1 1.3 1-1.2 1-1.7 1-.2 1-2.3 1 1.6 1-.2 1-2.4 1 2.4 1 3.5 1 0 1 .4 1-2.4 1-1.4 1 1.4 1-5.9 1 7.6 1-.8 1-.6 1-3.6 1 4.6 1 2.4 1-3.8 1-.6 1 4.9 1 7.6 1-11.7 1 3 1-1.8 1-3.3 1 2.9 1-1.5 1 5.2 1-3.3 1 .3 1-1.8 1-.2 1 0 1 2.6 1-1 1-10.7 1 10.2 1 2.3 1-2 1 .3 1 1.5 1-2.6 1 2 1 2 1-.5 1-3.6 1 1.7 1 1.9 1-5.6 1 4.1 1 .4 1-8.4 1 8 1-2.2 1 1.9 1 1.1 1-3.7 1 3.2 1 5.1 1-4 1 .1 1-.8 1-2.3 1 3.8 1-.7 1 1.5 1-3.8 1-1.8 1 4.9 1-.2 1-1.8 1 5.7 1-6.9 1 .7 1 .9 1-.9 1-.9 1 2.4 1 1 1-1.2 1 .4 1-2.6 1 4.4 1-3.7 1-.9 1 2 1 1.5 1-3.6 1-.7 1 2.7 1 .4 1-1.9 1 .9 1-.7 1 4.5 1 .3 1-4.4 1 1 1 .5 1-3.1 1 2.1 1 2.5 1 .1 1-3.1 1-2.3 1 1.1 1 2.2 1 2.1 1-3.9 1 3.6 1-3.7 1 3 1 4.2 1-7.5 1 1.2 1 2.3 1 2.2 1-4.9 1 2.4 1-1.5 1 4 1-5.6 1 3.2 1-2.3 1 .8 1 3.4 1-4.4 1 3.1 1-1.5 1-1.9 1 .5 1 2.6 1-10.5 1 8.9 1 .5 1-.5 1-1.3 1 .6 1 1.3 1-.7 1 3.1 1-1.8 1 3.1 1-3.5 1 2.5 1-1.2 1-1.4 1-.1 1 .9 1-3 1 .9 1-1.1 1 3.4 1-3.4 1 3.4 1-1.8 1-3.2 1 5.2 1 .6 1-3.1 1 1.5 1-.9 1 2.8 1-3.1 1 2.2 1-.6 1-4.5 1 3.7 1 .5 1-4.9 1 7 1-3.3 1 2.4 1-3.8 1 1.7 1 1.9 1 .4 1-1.1 1 .1 1 0 1-.1 1-.9 1-1.9 1-1.5 1 2.2 1 3.5 1-2 1-.5 1-.8 1-2.3 1-3.1 1 6 1-1.7 1 2.2 1-1.3 1-1.6 1 4.3 1-1.3 1 3.2 1-3 1 6.1 1-6.5 1 2.8 1 0 1-4.9 1 5 1-1.8 1-.7 1-.9 1-1 1 2.6 1 .1 1-1.5 1 2 1 .8 1 1.6 1-4.8 1-.7 1 1.4 1-4.5 1 6.2 1-5.6 1 5 1 2.4 1-1.6 1-1.4 1 .9 1-2.5 1-1.6 1 3.2 1 2.4 1-2.7 1 0 1 .3 1-3.2 1 .9 1-.4 1 1 1 2.3 1 1.9 1-4.8 1 .7 1 4.8 1-4 1-1.1 1 .4 1 1.8 1 1.2 1-1.4 1 1.3 1-5.8 1 2.5 1 2.1 1-1.8 1 2.9 1-.5 1 1.4 1-4 1-.4 1-.6 1 1 1 .5 1 0 1 .3 1 2.1 1-2.4 1 4.4 1-4 1 1.1 1 .9 1-5.5 1 2.9 1 2 1 .3 1-3 1 3.9 1-5 1 1.7 1 .3 1-3.5 1 2.5 1 1.4 1 1.1 1-1.4 1 .8 1-.2 1 .9 1 3.5 1-3.3 1-3.6 1 3.7 1-2.7 1-.8 1 2 1-4.2 1 3.2 1-.6 1 .9 1 .3 1 .3 1 1.2 1 .5 1 2 1-5.3 1 2 1-2 1 2 1-.5 1-1.1 1 1.4 1 .2 1-2.7 1-2.1 1 1.4 1 2.2 1-.3 1-.6 1 3.4 1-2.9 1 .3 1 2.2 1-5.4 1 4.4 1-1.2 1 .2 1 .4 1 .7 1 1.5 1 1 1-2.3 1 1.4 1-.1 1-1.6 1 1.6 1-1.8 1 2 1-2.4 1 0 1 2.2 1-1.9 1 .8 1-1.4 1 2.9 1-3.8 1 2.6 1 .4 1-.4 1-.7 1 0 1-.2 1-1.6 1 2.8 1-2.8 1 2 1-1.1 1 4.6 1-3.8 1-.1 1 2.2 1-.5 1-2.2 1 2.1 1-.3 1 .4 1-1.8 1 .9 1-4.9 1 3.6 1 .1 1 3.8 1-3.1 1-1.8 1 5 1-6.9 1 2.3 1 3.2 1-5.1 1 2.1 1 2.7 1-2.9 1 .8 1-.4 1 1.1 1 1.9 1-1.7 1-3.4 1 1.5 1-1.5 1 5.1 1-3.4 1 4.9 1-4.1 1 1.2 1-2.1 1 2.5 1-2.7 1-4.2 1 3.7 1 3.9 1-.8 1-4.1 1 1.5 1 1.2 1-1.8 1 .6 1 2.2 1 .9 1 1.1 1-.1 1-1 1-1.7 1-1.2 1 2.7 1-.8 1-3.9 1 3.2 1 2.6 1 0 1-4.5 1 3.3 1-3.8 1-.6 1 4.9 1-.7 1-.7 1-.3 1-2.5 1 4.8 1-3.7 1 2.7 1-2.1 1-3.4 1 4.2 1 .5 1-4.8 1 5.3 1 1.8 1-2.4 1-1.1 1 2.2 1-2.7 1-.6 1-7 1 8.1 1 1.5 1-3.1 1 5.1 1-2 1-.1 1-2.3 1 0 1 3.3 1-1.9 1 2 1-2.9 1 4.8 1-3.8 1 1.8 1-.9 1-3.8 1 1.2 1 3 1-1.4 1-2.1 1 .3 1 3.5 1-1 1-.9 1-1.2 1 3 1-.2 1-.8 1-3.1 1 3.1 1 3.7 1-6.5 1 2.8 1 2.4 1-5.3 1 2.5 1-.8 1-2.3 1 2.9 1-2.2 1 1.5 1-.9 1-.2 1 2.8 1 .4 1-3.2 1 .6 1 .2 1-1.6 1 2.3 1 .7 1-1.6 1 2.2 1-1.5 1-2 1 3.8 1-2.7 1 1 1 7.8 1-5 1-.1 1-3.7 1 2.5 1-.2 1 .1 1-5.8 1 4.6 1-1.8 1 3 1-1.5 1-1.9 1-.3 1 2.3 1-1.2 1 2.1 1-2.8 1 3 1 5.1 1-8.4 1 1.2 1-1.9 1 4.6 1-1.8 1 1.3 1 .2 1 .7 1-1.8 1 6.2 1-6.5 1-.6 1 .4 1 1 1-3.6 1 3.2 1-.6 1 1.7 1-2.2 1-1.1 1 4.2 1-5.9 1 6.5 1-1.8 1-1.8 1 1.2 1-2.9 1 5.5 1-3.7 1 1.9 1-.2 1-2.2 1 .3 1 2.8 1-1.1 1-5.4 1 6.8 1-2.5 1 .9 1-2 1 1.7 1 2.1 1 2.2 1-3 1-2.6 1 3 1-2.9 1 .1 1 4.6 1-3.5 1-3.6 1 4.1 1 1.9 1-1.1 1 2.5 1-4.5 1-2.3 1 4.9 1-2.9 1 1.1 1 1.1 1-1.5 1 .5 1 .2 1 .2 1-.7 1 1.7 1-.9 1-3.4 1 4.6 1-2.4 1-1.7 1 4.2 1-5.9 1 3.7 1 .5 1-.4 1-3.9 1 7.5 1-6.2 1 1.1 1 .6 1 1.8 1-2.4 1 3.6 1 .9 1-4.7 1-3.3 1 7 1-.9 1 .3 1-2.1 1 1 1-2.5 1-1.1 1 2.1 1 5.1 1-3.6 1-.9 1 1.7 1 1.9 1 .2 1-5.4 1 1.8 1-3.2 1 2.1 1-.4 1 3.6 1-2.4 1 .6 1 0 1 .9 1-4.7 1 7.3 1-4.7 1 2.3 1 .8 1 .4 1 2.1 1-1.9 1 .4 1-1.2 1 1.7 1-4.4 1 3.5 1-1.1 1-1.5 1-1.7 1 1.3 1-1.7 1 1.7 1 .6 1-1.7 1 5.9 1-2.9 1 2.8 1-5.9 1 1.8 1 .2 1-.8 1 .2 1 .2 1 1.6 1-1.3 1 .1 1 2 1-.4 1-1.2 1 2.7 1-4.1 1 4.5 1-4 1-5.7 1 5.2 1 .7 1-1.2 1 .6 1-2.5 1 1.7 1 1.9 1 .9 1-.4 1-1.2 1-.9 1 1.2 1-.8 1 .1 1 3.1 1 .8 1-1.2 1-1.5 1-1.1 1 2.6 1 .6 1 5.7 1-9.9 1 2.6 1-1.9 1 3.1 1-1.7 1-3.2 1 4.6 1-1.1 1 .4 1-.2 1-1.2 1-1.3 1 0 1 2.6 1 1.8 1-2 1-1.8 1 1.5 1-1.6 1 .7 1-.3 1-3.2 1 3.8 1 1.2 1-.2 1-3.2 1 4.4 1-1.3 1-2.3 1 4.1 1-1.9 1-3.3 1 3.8 1-4.7 1 2.6 1 .7 1 3 1 2.5 1-7.5 1 .1 1 1 1 3.8 1-3.5 1 5.5 1-5.5 1 2.9 1-3.9 1 4.8 1-.9 1 0 1-3.5 1-.8 1 2.5 1-1.7 1 .4 1 1.7 1-2.3 1 2.4 1-.8 1-3.8 1 2.2 1 3.3 1 .2 1-3.2 1-.7 1 2.3 1 2.9 1-1.9 1-2.6 1 3.3 1-1.4 1-.1 1-.5 1-1.1 1 3.6 1-2.8 1 .4 1 .4 1-.3 1 .1 1-.5 1 0 1-.5 1-1.9 1 1.7 1 .4 1 .9 1-.2 1 .4 1-2.6 1 3.3 1-1.7 1-.2 1 .4 1-4.5 1 4.9 1-.9 1 1.4 1-.5 1 0 1 1 1-.9 1-3 1 5.9 1-2.9 1 .3 1-.7 1-1.2 1 .6 1 1.3 1-1.9 1 5 1-2.7 1-1.4 1 3.3 1 .7 1-4 1 .4 1 .3 1-.3 1-.9 1 1.6 1 1.6 1-2.1 1 1.3 1-2.7 1-3.3 1 5 1 1.7 1-2.4 1-1.1 1 2.1 1 1.1 1-3.6 1 1 1-.3 1 .4 1-1.9 1 3.3 1-3.3 1 3.2 1-2.1 1 3 1-1.7 1-1.3 1-6.4 1 7.1 1-.8 1 4.7 1-2.9 1-3 1 8.6 1-6.8 1 2.2 1 1.3 1-7.5 1 4.6 1-.6 1 1.2 1-1.7 1-2.2 1 3.6 1 2.7 1-.1 1-4.1 1 5.5 1-6.5 1 6 1-4.5 1-1.6 1 1.7 1-1.6 1 .6 1 .8 1 3.3 1 .6 1-2.6 1-1.5 1 1 1-1.6 1 1.6 1 0 1-1.3 1-4 1 5.5 1 2.8 1-4.5 1 2.4 1 1.2 1 3.4 1-13.9 1 11.6 1-2.1 1-3.1 1 5 1-2.3 1-.4 1 .7 1-5.2 1 5.1 1-.4 1-1.3 1-.6 1-2.9 1 4.1 1 .3 1-4.3 1 5.6 1 .9 1-2.4 1 .2 1 .7 1 .4 1-2.4 1-.8 1 2.5 1 .1 1-.2 1-.5 1 .8 1-2.4 1-1.2 1 1.2 1 3.6 1-1.3 1 .3 1-.9 1-.5 1 1.2 1 .6 1-.3 1-2.5 1 2.6 1 .8 1-1.9 1 2.7 1-.9 1-3.2 1 .3 1 .1 1-.9 1 3 1-.8 1-2.6 1-2.6 1 3.4 1 .2 1-.1 1 1.7 1-1.4 1 2.3 1 1.2 1-5 1 .8 1 2.2 1-1 1 1.5 1-.1 1-.6 1 .9 1-2 1-4 1 2.9 1 1.3 1-1.4 1 1.2 1 .2 1-.2 1-2.6 1 4.9 1-2.9 1 2.6 1-4.8 1 .5 1 3.2 1 2.2 1-4.7 1 .2 1-1.3 1 2.9 1 3 1-3.8 1 2.6 1-3.8 1 1.9 1-1.8 1 1.7 1-.7 1 .3 1 4.7 1-9.2 1 7 1-2.7 1-.9 1 2.2 1-10.4 1 11.4 1-2.2 1-.5 1 .1 1-3.9 1 2.1 1 2.2 1-1.2 1 1.3 1 .2 1 2.6 1-2.5 1-3 1 3.9 1-1.1 1 1.6 1-.4 1-.5 1-1.4 1-10.7 1 10.2 1-1.7 1 6.2 1-2.1 1-.3 1-1 1 .5 1 0 1-4.3 1 5.5 1-2 1-6.1 1 6.5 1 1.5 1-.8 1-1.3 1 1.8 1-6.6 1 7.8 1 .5 1-5.2 1-.5 1 2.5 1 .3 1-3.4 1 2.9 1 1.7 1-.6 1-4.1 1 3.7 1-.6 1-4.1 1-1.6 1 9 1-3.1 1-8 1 9.3 1-4.1 1 .1 1 .2 1 5.8 1-7 1 1.3 1 1.3 1 2.1 1-.9 1-.7 1-1.6 1-1.6 1 .7 1 4 1-3.4 1 3.3 1-8.7 1 5.9 1 6.2 1-4.8 1-3 1 .3 1 1 1 1 1-3.6 1-.8 1 1.2 1 1.3 1 7.6 1-6.1 1-5.6 1 3.4 1-1.3 1 1 1 1.6 1-2.6 1 1.8 1 5.1 1-3.1 1-3.1 1-.6 1-2.2 1 1.4 1-4.8 1 4.7 1-1.7 1 13.4 1-12.4 1-3.3 1 5.5 1-6 1 5.2 1-3.7 1 4.9 1-3.3 1 2.1 1-1.3 1 3.4 1-2.9 1 6 1-12 1 11.2 1-6.2 1 1 1-1.9 1 2.8 1-1.7 1-4 1 .5 1 5.5 1-4.2 1-.3 1 7.9 1-9.5 1 .6 1 1.6 1 .2 1-1.8 1 3.9 1-14 1 11.3 1 1.4 1-.8 1-3.3 1 2.2 1 2.1 1-3.1 1 4.8 1-6.7 1 6.6 1-2.1 1-1.2 1 1.2 1-1 1-.7 1-1.4 1 1.2 1-4.2 1 11.2 1-9.9 1-.5 1 5.1 1-2.5 1-3.2 1-9.6 1 18.7 1-6.1 1 2.2 1-1.4 1 .4 1 1.1 1-8.3 1 5.1 1 1.2 1 3.4 1-3.7 1 2.5 1-.5 1-6.6 1 5.8 1 5 1-3.6 1 1.8 1-8.5 1 7.7 1-2.6 1-1.5 1 1.7 1-2.8 1-1.5 1 5.4 1 3 1-3.5 1 .4 1-1.6 1-1.5 1 0 1 1.3 1 .9 1 2.2 1 3.9 1-3.8 1-.1 1-6 1 5.9 1-7.7 1 5 1 7.3 1-4.9 1-.8 1 1.3 1-3.5 1 11.8 1-8 1-3.2 1 6.1 1-2.5 1-6.4 1 5.5 1-3.2 1 5.3 1-3.7 1-3.5 1 7.7 1-4.1 1 2.3 1 .9 1-.8 1-2.9 1 7.7 1-.1 1-6.4 1-1 1 6.2 1-2.2 1 2.3 1-2.8 1 2.6 1-1.8 1-.9 1 .2 1 4.2 1-4.3 1 1.4 1-2.2 1 2.7 1 4 1-5.5 1 7.9 1-10.7 1 6.4 1-5.5 1 3.6 1-.1 1 3.3 1-3.9 1-.6 1-.6 1 2 1 1.3 1 1.3 1-1.1 1-.7 1 .3 1-.4 1-1.1 1 2.6 1-1.7 1 .6 1-3.7 1 4.7 1-2.3 1 1.6 1-2.4 1 3.5 1 2 1-5.9 1 2.3 1 .4 1-.7 1 3.2 1-1.9 1 4.2 1-7.8 1 5.9 1-3.9 1-.8 1 3.9 1-1.3 1-2 1 .9 1 1.8 1 .4 1-.7 1-2.8 1-2.4 1 7.8 1 2.5 1-6.8 1 2.8 1-2.9 1 3.6 1 1.6 1-3.7 1 2.7 1 1.5 1-5 1 3.6 1 3.5 1-7.8 1 2.4 1-2.3 1 3.1 1-.2 1-1.3 1 1.5 1-1 1-1.7 1 5.2 1-2.6 1-1.3 1 .9 1-3.6 1 2.2 1-.4 1-.7 1 .1 1-1.5 1 3.9 1-2.1 1 4.2 1-6.5 1 6.2 1-7.4 1 6.3 1-.5 1-1.4 1 .3 1 1.7 1 1.3 1-3.8 1 1.9 1-.6 1 4 1-6.3 1 1.6 1 1.8 1-2.3 1 6.4 1-4.8 1-2.5 1 1.8 1 .4 1 2 1-2 1 1 1-4.4 1 1.7 1 1.5 1 2.3 1-3.5 1 1.1 1-1 1 .2 1 4.7 1-1.6 1 .5 1-.9 1-.9 1-1.9 1 1.7 1-.6 1 1.3 1-.7 1 .3 1-.3 1-1 1-2.3 1 5 1-2.1 1 4.5 1-3 1-2.3 1-.3 1-1 1 1.7 1-4.8 1 3 1 1.6 1-.1 1-.8 1 1.8 1 5.2 1-7.2 1 2.3 1 1.8 1-1.4 1 1.6 1-.6 1-.9 1 .3 1-3.1 1 3.2 1-3 1 2.2 1-1.3 1-4.5 1 4.2 1 .8 1 .5 1 .5 1-1.3 1-3.1 1 2.8 1-.4 1-.3 1 1.2 1 .2 1 1 1-1.9 1 2.1 1-.5 1-.5 1-.6 1 1.9 1-2.4 1 2.3 1-3.7 1 .9 1 1.9 1-.4 1-1.2 1-4.1 1 1.1 1 7.1 1-3 1 2.3 1-4.5 1 3.4 1-2.8 1 2.6 1-3.8 1 1.6 1 0 1-1.9 1 .5 1 .8 1 .9 1 1.3 1 1.1 1-3 1 2.1 1-1.8 1 0 1-1.2 1 1.7 1-.3 1-1.3 1 3.7 1-3.4 1 .6 1 .5 1-1 1 1.3 1-1.5 1-2.1 1 3.8 1-1.1 1 .5 1-3.8 1-.4 1 5.5 1 .8 1-7 1 4.2 1 .6 1-1.1 1 2.5 1-4.6 1 3 1 3.1 1-2.5 1-1.8 1-.5 1 .3 1 1.9 1-2.2 1-1.7 1 2.2 1 1.4 1 .1 1-.9 1-1.1 1-2.2 1 3 1-.2 1-3.4 1 3.4 1 1.3 1-3.4 1 .3 1-3.2 1 4.3 1 2.6 1 .4 1-2.7 1 9.1 1-12.7 1 6.3 1-.5 1-5.4 1 2.6 1 1.3 1-4.1 1-2.7 1 8 1-4.5 1 5.8 1-3.4 1-4.1 1 1.4 1 5.7 1-2.8 1 4.8 1-2 1-8.3 1 6.3 1-.4 1-1.4 1 .4 1-1.4 1 .6 1 .6 1 2.9 1-4.9 1 15.5 1-13.2 1-1 1-4 1 4.2 1 1.7 1-2.6 1 2.3 1-2.4 1-1.1 1 5.6 1-3.8 1-.3 1 3.8 1-5.6 1 1.1 1 2.9 1-5.6 1 1.1 1-.5 1 3.3 1-7.6 1 8.4 1-5.6 1 6.9 1 2.8 1-6.5 1-2.9 1 6.4 1-.3 1-8.6 1 10.9 1-.3 1-3.6 1-.3 1-7.1 1 1.5 1 3.2 1 1.6 1-4.4 1 6.1 1-4.5 1 3.3 1-7.2 1 3.6 1 .3 1 2.1 1 1 1-5.2 1 3.2 1-6 1 1.4 1-2.1 1 2.9 1-.3 1-2.3 1 3 1-3.7 1 5.8 1-.5 1 .6 1 .8 1-2.2 1-13.6 1 6.9 1 4.5 1-9.4 1 14.4 1-.6 1-2.6 1-5.3 1-2 1 4 1 1.9 1-4.3 1 2.9 1-7.4 1 6.9 1 2.2 1-4.8 1 4.1 1-13.4 1 9.3 1-7.6 1 11.2 1-2.2 1-3.5 1 2.5 1 5.2 1-4.1 1-1.7 1 .6 1-3.3 1-6.8 1 9.1 1 2 1-7.6 1 1.9 1 8.7 1-9.5 1 8 1-7.2 1 2.2 1-1.5 1-3.2 1 10 1-5 1-2.2 1-4.7 1 5.4 1-7.8 1 1.5 1-.1 1 1.7 1-.3 1-11.8 1 17.9 1-2.7 1-.4 1-2.9 1 2.5 1-2 1 1 1-5.8 1 14.9 1-7.3 1-.4 1-7.6 1 8.3 1-9.2 1 12.5 1-16.5 1 9.1 1-4.4 1 4.2 1 6.7 1-6.1 1-2.7 1-6.4 1 17.5 1-12.7 1-2.4 1 4.4 1 4.4 1-4.3 1 5.5 1-8.3 1-13.5 1 18.7 1-7.1 1 8.4 1-3.9 1-3 1 2.8 1-5.3 1 5.5 1 1.2 1-1.3 1-2.6 1 10.7 1-16.9 1-8.3 1 10 1-.3 1 1.3 1 3.9 1-2.9 1 .7 1 4 1-5.7 1-1.1 1-2 1-.4 1-9.1 1 12.9 1 8.4 1-12.6 1-11.1 1 9.1 1 6.1 1-1.7 1-9.6 1-2 1 13.4 1 .4 1-2.2 1-.2 1-8.4 1 .1 1 9.6 1-10 1 3.2 1 10 1-9 1 10 1-6.2 1-1.8 1 1.1 1-3.6 1 3.2 1-13.2 1 11.8 1 3.4 1-8 1 2.5 1 3.8 1-10.7 1 11.7 1 2.9 1-3.5 1 5.9 1 0 1-8.8 1-.7 1 4.5 1-1.4 1-6.6 1 13.6 1-8.2 1-12.5 1 5.2 1 3 1 8.5 1-2.9 1 4.9 1-8.7 1 8.2 1-.2 1-1.4 1-1.6 1-.1 1-.1 1 2.2 1 1.8 1-13.8 1 18.2 1-4.5 1 1.4 1-3.5 1 3.4 1-.6 1 2 1-6.5 1 .5 1 2.8 1 1.9 1 1.9 1-.4 1 3 1 5 1-1.1 1-1.3 1 2.2 1-6.8 1-6.2 1 4.7 1 7.4 1-8.6 1 3.6 1 .8 1 4.6 1-5.2 1 5.6 1-7.1 1-1.9 1 12.1 1 8.7 1-12.4 1 6.8 1-7.1 1-2.1 1-2.2 1 2.5 1 1.5 1 2.4 1 8.6 1-10.9 1 1 1-3.9 1 1 1 9.1 1-4.9 1 2.5 1-2.2 1-2.8 1 5.8 1 0 1 1.4 1 1.5 1-2.8 1 3.6 1-4.7 1-.6 1-2.3 1 5.6 1 18.5 1-20.8 1-.9 1 4.2 1 .1 1 1.4 1 3.2 1-5.1 1 8.1 1-3.6 1-6 1 3 1-1.9 1 2.2 1-.7 1 7.1 1-5.2 1-5.1 1 3.3 1 1.3 1 3.5 1-4.6 1-3.9 1 4.7 1-3.2 1 4.8 1 .1 1-.7 1-3.4 1 4.1 1-1.5 1-.1 1 1.4 1 .2 1 4.2 1-.9 1-3.7 1 1.1 1-1.1 1 1.1 1-.9 1 2.2 1-3.1 1 3.8 1-2 1-5 1 4.1 1 1.5 1-.2 1-.5 1 3.8 1 3.7 1-7.6 1 1.8 1-1.8 1 5.2 1-2.2 1-1.7 1-1.7 1 2.6 1-1.1 1 1.7 1 1.1 1-3.4 1-1.1 1 3.8 1 1.9 1 .5 1-4.5 1-6 1 9 1-4.8 1 3.7 1-3 1-1.7 1 3.6 1-.1 1 4.4 1-1.9 1-1.2 1-.4 1 .2 1-2.7 1 .7 1 2.1 1-2.4 1 .9 1 2.1 1-.6 1-.5 1 3.8 1-9 1 4.7 1 2.3 1-7.3 1 12 1-6.4 1 1.2 1-2.4 1 2.1 1 .7 1-3.6 1 1.9 1 2.8 1-2.5 1 2.3 1-.9 1-2.8 1 2.5 1-2.9 1-4.1 1 11.6 1-3.8 1 4.1 1-2.5 1-1.4 1-.7 1-1.5 1 .5 1 7.3 1-3.1 1-2.1 1 2.2 1-2.5 1-1.2 1 2.7 1-4.1 1 11.3 1-10.3 1-1.2 1 4.4 1-1.2 1 6.9 1-6 1-.5 1-2.5 1-2.4 1 2.4 1 3.7 1-.6 1-.2 1-3.9 1 1.3 1 3.3 1-2.8 1-.7 1 2.6 1-.8 1-3.2 1 2.7 1 2.3 1 1.5 1-3.4 1-4.4 1 7.3 1-1.7 1-.1 1 2.4 1-2.8 1-2.5 1 3.5 1-4.1 1 1.1 1 3.1 1-4.3 1 3.7 1-2.3 1 .7 1-5.8 1 2.7 1 1.7 1 8.7 1-1.9 1-1.6 1 .6 1-4.1 1 4.1 1-4.2 1 1.6 1 .6 1-.8 1 5.7 1-4 1-2.1 1 1.2 1 3.3 1-6.8 1 1.7 1 1.4 1-.3 1 4.9 1 .6 1-5.5 1 5.7 1-3 1-6.4 1 .1 1-1.9 1 6.9 1-8.4 1 5.8 1 .9 1 .9 1-2.3 1 1.6 1 .1 1 2.5 1-3.5 1 1.2 1 .6 1 4.2 1-3.8 1 .6 1 3.1 1-2 1 0 1 .4 1-.4 1-4.9 1 3.8 1 4.3 1-4.5 1 5.8 1-6.7 1-1.2 1 4.6 1-1.3 1-2.9 1 2.2 1-.4 1 3.5 1-.8 1-5.6 1 5.6 1-5.3 1 3.2 1-1.5 1-.1 1-.6 1 1.8 1 2.8 1-1.4 1-.3 1 1 1-1.3 1-.8 1 4.3 1-3.8 1-.1 1 .7 1-1.6 1 2 1 1.6 1-1.3 1-.4 1 .2 1 .9 1-1.1 1 1.1 1-2.1 1 3 1-3.9 1 0 1 2.6 1 3.4 1-5.1 1 4.1 1-5.4 1 2.8 1 4.2 1-.6 1-5 1 1.7 1-1.3 1 4.2 1-.3 1-4.8 1 4.8 1-1.1 1-.7 1-.7 1 4.8 1-5.7 1 4.1 1-2.7 1 .8 1 .4 1 1.1 1-2.4 1 1.2 1-.4 1 1.2 1-1.8 1 .5 1 .1 1-2 1-2 1 1.5 1 1.7 1 1.6 1 2 1-3.3 1 .3 1-.7 1 4.9" vector-effect="non-scaling-stroke" stroke="#0070E2" stroke-width="3.1"/>
</g>
<g>
<text class="sym" font-size="45.02" transform="translate(668.00 189.30) scale(0.9357 1)" x="-20.19" y="0">♥</text>
<text class="sym" font-size="45.30" transform="translate(667.50 232.00) scale(1.0731 1)" x="-20.28" y="0">♦</text>
<text class="sym" font-size="45.16" transform="translate(552.30 317.30) scale(1.0764 1)" x="-20.22" y="0">♦</text>
<text class="sym" font-size="45.02" transform="translate(615.30 321.00) scale(1.0796 1)" x="-20.16" y="0">♦</text>
<text class="sym" font-size="44.20" transform="translate(834.00 287.80) scale(0.9531 1)" x="-19.82" y="0">♥</text>
<text class="sym" font-size="45.57" transform="translate(990.40 329.70) scale(1.0666 1)" x="-20.41" y="0">♦</text>
<text class="sym" font-size="44.75" transform="translate(1258.20 320.90) scale(1.0863 1)" x="-20.04" y="0">♦</text>
<text class="sym" font-size="44.06" transform="translate(1386.80 290.00) scale(0.9561 1)" x="-19.76" y="0">♥</text>
<text class="sym" font-size="46.40" transform="translate(1440.30 327.70) scale(1.0477 1)" x="-20.77" y="0">♦</text>
<text class="sym" font-size="46.67" transform="translate(624.50 487.00) scale(1.0415 1)" x="-20.90" y="0">♦</text>
<text class="sym" font-size="45.02" transform="translate(1438.50 513.10) scale(1.0796 1)" x="-20.16" y="0">♦</text>
<text class="sym" font-size="46.12" transform="translate(506.50 913.60) scale(1.1204 1)" x="-20.66" y="0">♠</text>
<text class="sym" font-size="45.02" transform="translate(540.50 905.40) scale(1.0796 1)" x="-20.16" y="0">♦</text>
<text class="sym" font-size="46.12" transform="translate(615.60 840.60) scale(1.0539 1)" x="-20.65" y="0">♦</text>
<text class="sym" font-size="46.12" transform="translate(932.60 919.80) scale(1.1204 1)" x="-20.66" y="0">♠</text>
<text class="sym" font-size="45.02" transform="translate(992.60 924.00) scale(1.0796 1)" x="-20.16" y="0">♦</text>
<text class="sym" font-size="46.67" transform="translate(1085.40 936.00) scale(1.1072 1)" x="-20.91" y="0">♠</text>
<text class="sym" font-size="45.71" transform="translate(1261.60 926.30) scale(1.0634 1)" x="-20.47" y="0">♦</text>
<text class="sym" font-size="45.71" transform="translate(1434.40 917.30) scale(1.0634 1)" x="-20.47" y="0">♦</text>
</g>
<rect x="110.5" y="27.5" width="1376" height="995" fill="none" stroke="#000" stroke-width="5"/>
<g stroke="#000" stroke-width="4.8">
<line x1="110.40" y1="1001" x2="110.40" y2="1021" />
<line x1="225.03" y1="1011" x2="225.03" y2="1021" />
<line x1="339.65" y1="1001" x2="339.65" y2="1021" />
<line x1="454.27" y1="1011" x2="454.27" y2="1021" />
<line x1="568.90" y1="1001" x2="568.90" y2="1021" />
<line x1="683.52" y1="1011" x2="683.52" y2="1021" />
<line x1="798.15" y1="1001" x2="798.15" y2="1021" />
<line x1="912.77" y1="1011" x2="912.77" y2="1021" />
<line x1="1027.40" y1="1001" x2="1027.40" y2="1021" />
<line x1="1142.03" y1="1011" x2="1142.03" y2="1021" />
<line x1="1256.65" y1="1001" x2="1256.65" y2="1021" />
<line x1="1371.28" y1="1011" x2="1371.28" y2="1021" />
<line x1="1485.90" y1="1001" x2="1485.90" y2="1021" />
</g>
<g font-size="76">
<text x="109.40" y="1105.6" text-anchor="middle">20</text>
<text x="338.65" y="1105.6" text-anchor="middle">30</text>
<text x="567.90" y="1105.6" text-anchor="middle">40</text>
<text x="797.15" y="1105.6" text-anchor="middle">50</text>
<text x="1026.40" y="1105.6" text-anchor="middle">60</text>
<text x="1255.65" y="1105.6" text-anchor="middle">70</text>
<text x="1484.90" y="1105.6" text-anchor="middle">80</text>
</g>
<text x="648.6" y="1182.3" font-size="76.4">2θ/degree</text>
<text transform="translate(70.7 745.3) rotate(-90)" x="0" y="0" font-size="75.3">Intensity (a.u.)</text>
<text x="201.2" y="305.2" font-size="75.5">SLF</text>
<text x="195" y="492" font-size="76">ILF</text>
<text x="187" y="922" font-size="76">DLF</text>
<text class="sym" font-size="49.28" transform="translate(1067.40 83.90) scale(0.9311 1)" x="-22.10" y="0">♥</text>
<text class="sym" font-size="51.75" transform="translate(1066.70 171.70) scale(1.0187 1)" x="-23.17" y="0">♦</text>
<text class="sym" font-size="52.16" transform="translate(1066.40 273.90) scale(1.1029 1)" x="-23.37" y="0">♠</text>
<text transform="translate(1092.4 83.3) scale(0.827 1)" font-size="80">–</text>
<text transform="translate(1092.2 171.6) scale(0.827 1)" font-size="80">–</text>
<text transform="translate(1092.4 272.7) scale(0.827 1)" font-size="80">–</text>
<text x="1125.9" y="81.8" font-size="66">Ni</text>
<text x="1124.6" y="170.3" font-size="66">Ni<tspan x="1189.3" y="186.5" font-size="44.6">3</tspan><tspan x="1210.1" y="170.3">N</tspan></text>
<text x="1126.2" y="270.9" font-size="66">Mg</text>
</svg>
</body></html>
